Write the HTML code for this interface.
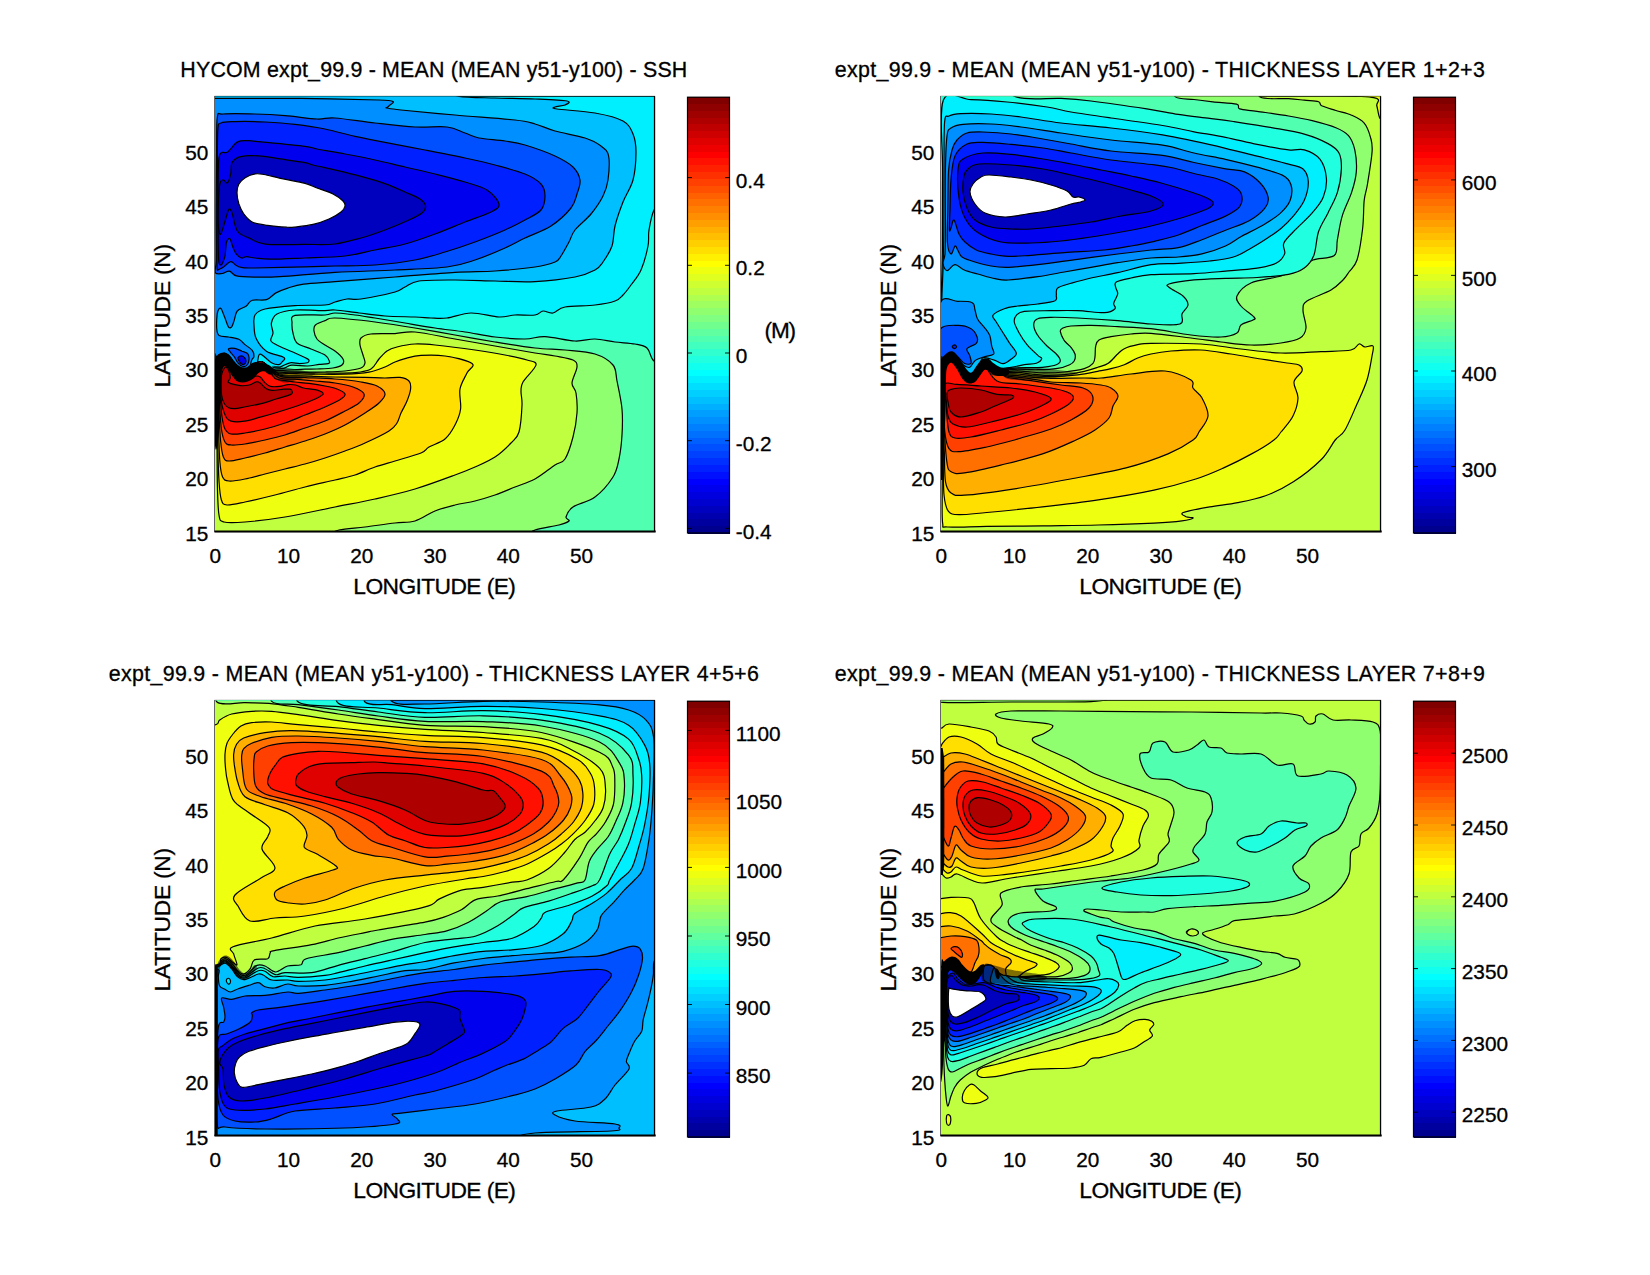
<!DOCTYPE html>
<html><head><meta charset="utf-8"><title>HYCOM expt_99.9 mean fields</title>
<style>html,body{margin:0;padding:0;background:#fff}svg{display:block}text{font-family:'Liberation Sans','Helvetica','Arial',sans-serif;font-size:20.8px;fill:#000;stroke:#000;stroke-width:0.3px}</style></head>
<body>
<svg width="1650" height="1275" viewBox="0 0 1650 1275">
<rect width="1650" height="1275" fill="#fff"/>
<g transform="translate(0,0)">
<clipPath id="c_p1"><rect x="215.0" y="96.5" width="439.5" height="435.0"/></clipPath>
<rect x="215.0" y="96.5" width="439.5" height="435.0" fill="#fff" stroke="#000" stroke-width="1.2"/>
<g clip-path="url(#c_p1)" stroke="#000" stroke-width="1.2" stroke-linejoin="round">
<rect x="215.0" y="96.5" width="439.5" height="435.0" fill="#00efff" stroke="none"/>
<path d="M215.0 360.0 C215.7 359.2 217.3 356.1 219.0 355.0 C220.7 353.9 223.0 352.9 225.0 353.4 C227.0 353.9 229.0 354.9 231.0 358.0 C233.0 361.1 235.2 368.6 237.0 372.0 C238.8 375.4 240.2 378.0 242.0 378.6 C243.8 379.2 246.0 377.5 248.0 375.4 C250.0 373.3 252.2 368.2 254.0 366.0 C255.8 363.8 257.2 362.4 259.0 362.0 C260.8 361.6 263.2 362.1 265.0 363.4 C266.8 364.7 268.4 369.4 270.0 370.0 C271.6 370.6 272.6 367.7 274.4 367.2 C276.2 366.7 278.0 367.5 280.6 366.8 C283.2 366.1 286.8 363.3 290.0 362.8 C293.2 362.3 296.7 363.6 299.6 363.6 C302.5 363.6 305.8 363.3 307.4 362.8 C309.0 362.3 309.1 361.1 309.0 360.4 C308.9 359.7 309.3 359.8 307.0 358.6 C304.7 357.4 299.3 354.9 295.0 353.0 C290.7 351.1 285.0 349.0 281.0 347.0 C277.0 345.0 272.3 343.3 271.0 341.0 C269.7 338.7 272.9 336.0 273.0 333.0 C273.1 330.0 270.7 326.2 271.4 323.0 C272.1 319.8 273.1 316.2 277.0 314.0 C280.9 311.8 287.0 310.6 295.0 310.0 C303.0 309.4 318.3 310.6 325.0 310.6 C331.7 310.6 329.3 309.6 335.0 310.0 C340.7 310.4 350.7 312.0 359.0 313.0 C367.3 314.0 375.7 315.3 385.0 316.0 C394.3 316.7 407.3 316.7 415.0 317.0 C422.7 317.3 425.7 317.8 431.0 318.0 C436.3 318.2 440.3 318.8 447.0 318.0 C453.7 317.2 462.3 313.2 471.0 313.0 C479.7 312.8 491.7 316.7 499.0 317.0 C506.3 317.3 509.0 315.3 515.0 315.0 C521.0 314.7 530.3 315.7 535.0 315.0 C539.7 314.3 540.0 311.3 543.0 311.0 C546.0 310.7 549.3 313.7 553.0 313.0 C556.7 312.3 558.0 308.3 565.0 307.0 C572.0 305.7 586.7 306.0 595.0 305.0 C603.3 304.0 610.3 302.7 615.0 301.0 C619.7 299.3 620.3 297.7 623.0 295.0 C625.7 292.3 628.0 289.2 631.0 285.0 C634.0 280.8 638.2 276.5 641.0 270.0 C643.8 263.5 646.7 252.7 648.0 246.0 C649.3 239.3 648.0 236.0 649.0 230.0 C650.0 224.0 651.7 214.7 654.0 210.0 C656.3 205.3 661.5 203.3 663.0 202.0 L679.5 202.0 L679.5 556.5 L190.0 556.5 L190.0 360.0 Z" fill="#20ffdf"/>
<path d="M215.0 360.0 C215.7 359.2 217.3 356.1 219.0 355.0 C220.7 353.9 223.0 352.9 225.0 353.4 C227.0 353.9 229.0 354.9 231.0 358.0 C233.0 361.1 235.2 368.6 237.0 372.0 C238.8 375.4 240.2 378.0 242.0 378.6 C243.8 379.2 246.0 377.5 248.0 375.4 C250.0 373.3 252.2 368.2 254.0 366.0 C255.8 363.8 257.2 362.4 259.0 362.0 C260.8 361.6 263.2 362.1 265.0 363.4 C266.8 364.7 268.2 369.1 270.0 370.0 C271.8 370.9 273.7 369.3 276.0 369.0 C278.3 368.7 281.2 369.0 283.8 368.4 C286.4 367.8 287.7 365.6 291.6 365.2 C295.5 364.8 302.8 366.1 307.4 366.0 C312.0 365.9 315.8 364.8 319.2 364.4 C322.6 364.0 326.3 364.1 328.0 363.6 C329.7 363.1 329.9 362.6 329.4 361.2 C328.9 359.8 328.1 357.0 325.0 355.0 C321.9 353.0 315.7 351.0 311.0 349.0 C306.3 347.0 300.0 345.7 297.0 343.0 C294.0 340.3 293.8 336.3 293.0 333.0 C292.2 329.7 291.7 325.9 292.0 323.0 C292.3 320.1 289.5 316.7 295.0 315.4 C300.5 314.1 318.3 315.4 325.0 315.0 C331.7 314.6 330.0 313.0 335.0 313.0 C340.0 313.0 348.3 314.2 355.0 315.0 C361.7 315.8 366.7 316.7 375.0 318.0 C383.3 319.3 395.0 321.3 405.0 323.0 C415.0 324.7 425.0 326.5 435.0 328.0 C445.0 329.5 455.0 330.5 465.0 332.0 C475.0 333.5 485.0 335.8 495.0 337.0 C505.0 338.2 516.7 339.1 525.0 339.0 C533.3 338.9 536.7 336.3 545.0 336.6 C553.3 336.9 566.7 340.6 575.0 341.0 C583.3 341.4 588.3 338.8 595.0 339.0 C601.7 339.2 608.3 341.2 615.0 342.0 C621.7 342.8 629.7 343.0 635.0 344.0 C640.3 345.0 644.0 345.3 647.0 348.0 C650.0 350.7 650.3 357.2 653.0 360.0 C655.7 362.8 661.3 364.2 663.0 365.0 L679.5 365.0 L679.5 556.5 L190.0 556.5 L190.0 360.0 Z" fill="#50ffaf"/>
<path d="M215.0 360.0 C215.7 359.2 217.3 356.1 219.0 355.0 C220.7 353.9 223.0 352.9 225.0 353.4 C227.0 353.9 229.0 354.9 231.0 358.0 C233.0 361.1 235.2 368.6 237.0 372.0 C238.8 375.4 240.2 378.0 242.0 378.6 C243.8 379.2 246.0 377.5 248.0 375.4 C250.0 373.3 252.2 368.2 254.0 366.0 C255.8 363.8 257.2 362.4 259.0 362.0 C260.8 361.6 263.2 362.1 265.0 363.4 C266.8 364.7 268.0 368.8 270.0 370.0 C272.0 371.2 273.8 370.6 277.0 370.6 C280.2 370.6 284.3 370.2 289.0 370.0 C293.7 369.8 300.3 369.4 305.0 369.2 C309.7 369.0 312.3 369.2 317.0 369.0 C321.7 368.8 328.8 368.7 333.0 368.0 C337.2 367.3 340.3 366.5 342.0 365.0 C343.7 363.5 344.2 361.3 343.0 359.0 C341.8 356.7 338.0 353.3 335.0 351.0 C332.0 348.7 328.0 347.0 325.0 345.0 C322.0 343.0 318.8 341.3 317.0 339.0 C315.2 336.7 314.3 333.3 314.0 331.0 C313.7 328.7 313.6 326.7 315.4 325.0 C317.2 323.3 321.7 321.8 325.0 320.6 C328.3 319.4 326.7 317.8 335.0 318.0 C343.3 318.2 361.7 320.3 375.0 322.0 C388.3 323.7 401.7 325.8 415.0 328.0 C428.3 330.2 441.7 332.7 455.0 335.0 C468.3 337.3 481.7 339.8 495.0 342.0 C508.3 344.2 523.3 346.7 535.0 348.0 C546.7 349.3 555.0 349.0 565.0 350.0 C575.0 351.0 587.0 351.5 595.0 354.0 C603.0 356.5 609.3 360.5 613.0 365.0 C616.7 369.5 615.5 373.7 617.0 381.0 C618.5 388.3 621.2 400.0 622.0 409.0 C622.8 418.0 622.5 426.7 622.0 435.0 C621.5 443.3 620.5 452.0 619.0 459.0 C617.5 466.0 617.0 470.7 613.0 477.0 C609.0 483.3 601.7 492.0 595.0 497.0 C588.3 502.0 577.8 503.7 573.0 507.0 C568.2 510.3 566.7 514.7 566.0 517.0 C565.3 519.3 570.2 519.7 569.0 521.0 C567.8 522.3 564.7 523.5 559.0 525.0 C553.3 526.5 540.7 528.0 535.0 530.0 C529.3 532.0 526.7 535.8 525.0 537.0 L525.0 556.5 L190.0 556.5 L190.0 360.0 Z" fill="#8fff70"/>
<path d="M215.0 360.0 C215.7 359.2 217.3 356.1 219.0 355.0 C220.7 353.9 223.0 352.9 225.0 353.4 C227.0 353.9 229.0 354.9 231.0 358.0 C233.0 361.1 235.2 368.6 237.0 372.0 C238.8 375.4 240.2 378.0 242.0 378.6 C243.8 379.2 246.0 377.5 248.0 375.4 C250.0 373.3 252.2 368.2 254.0 366.0 C255.8 363.8 257.2 362.4 259.0 362.0 C260.8 361.6 263.2 362.1 265.0 363.4 C266.8 364.7 267.8 368.6 270.0 370.0 C272.2 371.4 273.8 371.7 278.0 372.0 C282.2 372.3 287.2 372.0 295.0 372.0 C302.8 372.0 316.7 372.2 325.0 372.0 C333.3 371.8 339.0 371.7 345.0 371.0 C351.0 370.3 357.7 369.3 361.0 368.0 C364.3 366.7 364.7 365.2 365.0 363.0 C365.3 360.8 363.8 358.0 363.0 355.0 C362.2 352.0 360.3 347.8 360.0 345.0 C359.7 342.2 359.2 339.8 361.0 338.0 C362.8 336.2 365.3 334.7 371.0 334.0 C376.7 333.3 387.7 333.9 395.0 333.6 C402.3 333.3 405.0 331.1 415.0 332.0 C425.0 332.9 441.7 336.7 455.0 339.0 C468.3 341.3 481.7 343.7 495.0 346.0 C508.3 348.3 525.0 351.3 535.0 353.0 C545.0 354.7 548.7 354.8 555.0 356.0 C561.3 357.2 569.3 358.2 573.0 360.0 C576.7 361.8 577.2 363.2 577.0 367.0 C576.8 370.8 572.2 378.7 572.0 383.0 C571.8 387.3 575.2 388.0 576.0 393.0 C576.8 398.0 577.5 405.7 577.0 413.0 C576.5 420.3 575.0 429.3 573.0 437.0 C571.0 444.7 568.0 454.3 565.0 459.0 C562.0 463.7 560.0 461.7 555.0 465.0 C550.0 468.3 541.7 475.3 535.0 479.0 C528.3 482.7 521.7 484.3 515.0 487.0 C508.3 489.7 501.7 492.7 495.0 495.0 C488.3 497.3 481.7 499.3 475.0 501.0 C468.3 502.7 461.7 503.3 455.0 505.0 C448.3 506.7 441.7 508.3 435.0 511.0 C428.3 513.7 421.7 519.0 415.0 521.0 C408.3 523.0 403.3 522.0 395.0 523.0 C386.7 524.0 374.3 525.8 365.0 527.0 C355.7 528.2 345.7 528.3 339.0 530.0 C332.3 531.7 327.3 535.8 325.0 537.0 L325.0 556.5 L190.0 556.5 L190.0 360.0 Z" fill="#bfff40"/>
<path d="M215.0 360.0 C215.7 359.2 217.3 356.1 219.0 355.0 C220.7 353.9 223.0 352.9 225.0 353.4 C227.0 353.9 229.0 354.9 231.0 358.0 C233.0 361.1 235.2 368.6 237.0 372.0 C238.8 375.4 240.2 378.0 242.0 378.6 C243.8 379.2 246.0 377.5 248.0 375.4 C250.0 373.3 252.2 368.2 254.0 366.0 C255.8 363.8 257.2 362.4 259.0 362.0 C260.8 361.6 263.2 362.1 265.0 363.4 C266.8 364.7 267.7 368.4 270.0 370.0 C272.3 371.6 275.8 372.6 279.0 373.0 C282.2 373.4 281.3 372.2 289.0 372.2 C296.7 372.2 314.0 372.9 325.0 373.0 C336.0 373.1 347.3 373.3 355.0 372.6 C362.7 371.9 367.0 371.3 371.0 369.0 C375.0 366.7 376.3 362.0 379.0 359.0 C381.7 356.0 384.0 353.0 387.0 351.0 C390.0 349.0 392.3 348.2 397.0 347.0 C401.7 345.8 408.7 344.3 415.0 344.0 C421.3 343.7 425.0 344.0 435.0 345.0 C445.0 346.0 463.3 348.3 475.0 350.0 C486.7 351.7 496.3 353.3 505.0 355.0 C513.7 356.7 521.8 358.3 527.0 360.0 C532.2 361.7 536.7 361.3 536.0 365.0 C535.3 368.7 525.5 377.7 523.0 382.0 C520.5 386.3 521.2 387.2 521.0 391.0 C520.8 394.8 522.3 398.2 522.0 405.0 C521.7 411.8 520.8 425.7 519.0 432.0 C517.2 438.3 515.0 438.8 511.0 443.0 C507.0 447.2 501.0 453.0 495.0 457.0 C489.0 461.0 481.7 464.0 475.0 467.0 C468.3 470.0 465.0 471.3 455.0 475.0 C445.0 478.7 428.3 485.0 415.0 489.0 C401.7 493.0 388.3 496.0 375.0 499.0 C361.7 502.0 350.0 504.0 335.0 507.0 C320.0 510.0 300.0 514.5 285.0 517.0 C270.0 519.5 255.2 521.2 245.0 522.0 C234.8 522.8 228.3 523.2 224.0 522.0 C219.7 520.8 220.1 521.2 219.0 515.0 C217.9 508.8 217.7 500.0 217.4 485.0 C217.1 470.0 217.1 443.3 217.0 425.0 C216.9 406.7 216.7 383.3 216.6 375.0 Z" fill="#efff10"/>
<path d="M215.0 360.0 C215.7 359.2 217.3 356.1 219.0 355.0 C220.7 353.9 223.0 352.9 225.0 353.4 C227.0 353.9 229.0 354.9 231.0 358.0 C233.0 361.1 235.2 368.6 237.0 372.0 C238.8 375.4 240.2 378.0 242.0 378.6 C243.8 379.2 246.0 377.5 248.0 375.4 C250.0 373.3 252.2 368.2 254.0 366.0 C255.8 363.8 257.2 362.4 259.0 362.0 C260.8 361.6 263.2 362.1 265.0 363.4 C266.8 364.7 267.5 368.2 270.0 370.0 C272.5 371.8 276.8 373.4 280.0 374.0 C283.2 374.6 283.2 373.4 289.0 373.4 C294.8 373.4 305.7 374.1 315.0 374.2 C324.3 374.3 336.0 374.5 345.0 374.2 C354.0 373.9 362.3 373.4 369.0 372.2 C375.7 371.0 380.7 368.7 385.0 367.0 C389.3 365.3 391.7 363.4 395.0 362.0 C398.3 360.6 400.7 359.7 405.0 358.6 C409.3 357.5 414.3 355.8 421.0 355.4 C427.7 355.0 436.5 354.7 445.0 356.0 C453.5 357.3 468.3 360.6 472.0 363.4 C475.7 366.2 469.0 368.7 467.0 373.0 C465.0 377.3 461.1 383.0 460.0 389.0 C458.9 395.0 461.4 403.0 460.6 409.0 C459.8 415.0 457.6 420.0 455.0 425.0 C452.4 430.0 449.3 435.3 445.0 439.0 C440.7 442.7 433.0 444.7 429.0 447.0 C425.0 449.3 426.7 450.7 421.0 453.0 C415.3 455.3 402.7 458.7 395.0 461.0 C387.3 463.3 381.7 464.7 375.0 467.0 C368.3 469.3 361.7 472.8 355.0 475.0 C348.3 477.2 343.3 478.0 335.0 480.0 C326.7 482.0 315.0 484.5 305.0 487.0 C295.0 489.5 285.0 492.5 275.0 495.0 C265.0 497.5 253.0 500.3 245.0 502.0 C237.0 503.7 230.9 505.3 227.0 505.0 C223.1 504.7 222.7 504.0 221.4 500.0 C220.1 496.0 219.6 490.2 219.0 481.0 C218.4 471.8 218.1 461.0 217.8 445.0 C217.5 429.0 217.1 395.0 217.0 385.0 Z" fill="#ffdf00"/>
<path d="M215.0 360.0 C215.7 359.2 217.3 356.1 219.0 355.0 C220.7 353.9 223.0 352.9 225.0 353.4 C227.0 353.9 229.0 354.9 231.0 358.0 C233.0 361.1 235.2 368.6 237.0 372.0 C238.8 375.4 240.2 378.0 242.0 378.6 C243.8 379.2 246.0 377.5 248.0 375.4 C250.0 373.3 252.2 368.2 254.0 366.0 C255.8 363.8 257.2 362.4 259.0 362.0 C260.8 361.6 263.2 362.1 265.0 363.4 C266.8 364.7 267.4 368.0 270.0 370.0 C272.6 372.0 274.8 374.4 280.6 375.4 C286.4 376.4 295.9 375.7 305.0 376.0 C314.1 376.3 325.0 376.8 335.0 377.0 C345.0 377.2 356.7 377.2 365.0 377.4 C373.3 377.6 379.2 378.0 385.0 378.0 C390.8 378.0 396.0 376.9 400.0 377.4 C404.0 377.9 407.2 379.1 409.0 381.0 C410.8 382.9 410.9 385.7 410.6 389.0 C410.3 392.3 408.6 397.0 407.0 401.0 C405.4 405.0 402.7 409.3 401.0 413.0 C399.3 416.7 399.0 420.0 397.0 423.0 C395.0 426.0 394.3 427.7 389.0 431.0 C383.7 434.3 372.3 439.7 365.0 443.0 C357.7 446.3 351.7 448.5 345.0 451.0 C338.3 453.5 331.7 455.8 325.0 458.0 C318.3 460.2 311.7 462.2 305.0 464.0 C298.3 465.8 291.7 467.3 285.0 469.0 C278.3 470.7 271.7 472.3 265.0 474.0 C258.3 475.7 251.0 477.8 245.0 479.0 C239.0 480.2 232.7 481.3 229.0 481.0 C225.3 480.7 224.1 480.3 222.6 477.0 C221.1 473.7 220.5 469.7 219.8 461.0 C219.1 452.3 218.8 437.7 218.4 425.0 C218.0 412.3 217.6 391.7 217.4 385.0 Z" fill="#ffaf00"/>
<path d="M215.0 360.0 C215.7 359.2 217.3 356.1 219.0 355.0 C220.7 353.9 223.0 352.9 225.0 353.4 C227.0 353.9 229.0 354.9 231.0 358.0 C233.0 361.1 235.2 368.6 237.0 372.0 C238.8 375.4 240.2 378.0 242.0 378.6 C243.8 379.2 246.0 377.5 248.0 375.4 C250.0 373.3 252.2 368.2 254.0 366.0 C255.8 363.8 257.2 362.4 259.0 362.0 C260.8 361.6 263.2 362.1 265.0 363.4 C266.8 364.7 267.3 367.8 270.0 370.0 C272.7 372.2 275.2 375.3 281.0 376.6 C286.8 377.9 296.0 377.2 305.0 377.6 C314.0 378.0 325.7 378.3 335.0 379.0 C344.3 379.7 354.0 380.8 361.0 382.0 C368.0 383.2 373.0 384.0 377.0 386.0 C381.0 388.0 384.7 391.2 385.0 394.0 C385.3 396.8 382.3 399.8 379.0 403.0 C375.7 406.2 370.7 409.3 365.0 413.0 C359.3 416.7 351.7 421.5 345.0 425.0 C338.3 428.5 331.7 431.3 325.0 434.0 C318.3 436.7 311.7 438.8 305.0 441.0 C298.3 443.2 291.7 445.0 285.0 447.0 C278.3 449.0 271.7 451.2 265.0 453.0 C258.3 454.8 251.0 456.7 245.0 458.0 C239.0 459.3 232.6 461.2 229.0 461.0 C225.4 460.8 224.8 460.3 223.4 457.0 C222.0 453.7 221.3 448.0 220.6 441.0 C219.9 434.0 219.5 424.3 219.0 415.0 C218.5 405.7 218.0 390.0 217.8 385.0 Z" fill="#ff7000"/>
<path d="M215.0 360.0 C215.7 359.2 217.3 356.1 219.0 355.0 C220.7 353.9 223.0 352.9 225.0 353.4 C227.0 353.9 229.0 354.9 231.0 358.0 C233.0 361.1 235.2 368.6 237.0 372.0 C238.8 375.4 240.2 378.0 242.0 378.6 C243.8 379.2 246.0 377.5 248.0 375.4 C250.0 373.3 252.2 368.2 254.0 366.0 C255.8 363.8 257.2 362.4 259.0 362.0 C260.8 361.6 263.2 362.1 265.0 363.4 C266.8 364.7 267.5 367.5 270.0 370.0 C272.5 372.5 275.8 376.7 280.0 378.2 C284.2 379.7 289.2 378.7 295.0 379.2 C300.8 379.7 308.3 380.4 315.0 381.0 C321.7 381.6 328.7 382.0 335.0 383.0 C341.3 384.0 348.2 385.2 353.0 387.0 C357.8 388.8 363.0 391.3 364.0 394.0 C365.0 396.7 362.2 400.2 359.0 403.0 C355.8 405.8 350.7 408.0 345.0 411.0 C339.3 414.0 331.7 418.2 325.0 421.0 C318.3 423.8 311.7 425.7 305.0 428.0 C298.3 430.3 291.7 433.0 285.0 435.0 C278.3 437.0 271.7 438.5 265.0 440.0 C258.3 441.5 250.7 443.2 245.0 444.0 C239.3 444.8 234.3 445.3 231.0 445.0 C227.7 444.7 226.6 444.7 225.0 442.0 C223.4 439.3 222.3 435.2 221.4 429.0 C220.5 422.8 220.1 413.0 219.6 405.0 C219.1 397.0 218.4 385.0 218.2 381.0 Z" fill="#ff4000"/>
<path d="M215.0 360.0 C215.7 359.2 217.3 356.1 219.0 355.0 C220.7 353.9 223.0 352.9 225.0 353.4 C227.0 353.9 229.0 354.9 231.0 358.0 C233.0 361.1 235.2 368.6 237.0 372.0 C238.8 375.4 240.2 378.0 242.0 378.6 C243.8 379.2 246.0 377.5 248.0 375.4 C250.0 373.3 252.2 368.2 254.0 366.0 C255.8 363.8 257.2 362.4 259.0 362.0 C260.8 361.6 263.2 362.1 265.0 363.4 C266.8 364.7 268.3 367.5 270.0 370.0 C271.7 372.5 272.5 376.8 275.0 378.6 C277.5 380.4 281.7 380.0 285.0 380.6 C288.3 381.2 291.0 381.5 295.0 382.0 C299.0 382.5 304.0 382.7 309.0 383.4 C314.0 384.1 320.3 385.1 325.0 386.0 C329.7 386.9 333.7 387.7 337.0 389.0 C340.3 390.3 344.3 392.3 345.0 394.0 C345.7 395.7 344.3 396.8 341.0 399.0 C337.7 401.2 331.0 404.3 325.0 407.0 C319.0 409.7 311.7 412.3 305.0 415.0 C298.3 417.7 291.7 420.7 285.0 423.0 C278.3 425.3 271.7 427.3 265.0 429.0 C258.3 430.7 250.7 432.2 245.0 433.0 C239.3 433.8 234.3 434.7 231.0 434.0 C227.7 433.3 226.5 431.8 225.0 429.0 C223.5 426.2 222.8 422.3 222.0 417.0 C221.2 411.7 220.7 403.3 220.2 397.0 C219.7 390.7 219.2 382.0 219.0 379.0 Z" fill="#ff1000"/>
<path d="M217.0 365.0 C217.4 362.2 220.5 361.7 222.0 362.0 C223.5 362.3 225.0 365.5 226.2 366.8 C227.4 368.1 228.3 368.6 229.4 370.0 C230.5 371.4 231.4 373.7 232.6 375.4 C233.8 377.1 235.0 379.1 236.6 380.2 C238.2 381.3 240.2 381.7 242.0 381.8 C243.8 381.9 245.9 381.5 247.6 381.0 C249.3 380.5 250.9 379.4 252.2 378.6 C253.5 377.8 254.1 376.5 255.4 376.2 C256.7 375.9 258.6 375.9 260.2 377.0 C261.8 378.1 263.1 381.0 264.8 382.6 C266.5 384.2 267.9 385.8 270.4 386.4 C272.9 387.0 276.9 386.7 279.8 386.4 C282.7 386.1 285.2 384.8 287.8 384.6 C290.4 384.4 293.0 384.4 295.6 385.0 C298.2 385.6 300.1 387.2 303.4 388.0 C306.7 388.8 312.2 388.8 315.4 389.6 C318.6 390.4 321.9 391.7 322.8 392.8 C323.7 393.9 323.4 394.4 320.8 396.0 C318.2 397.6 313.6 399.8 307.4 402.2 C301.2 404.6 291.7 407.7 283.8 410.2 C275.9 412.7 266.8 415.4 260.2 417.2 C253.6 419.0 249.3 420.5 244.4 421.2 C239.5 421.9 234.0 421.9 231.0 421.2 C228.0 420.5 227.6 419.6 226.2 417.2 C224.8 414.8 223.3 410.7 222.4 407.0 C221.5 403.3 221.2 399.9 220.8 395.2 C220.4 390.5 220.4 384.0 219.8 379.0 C219.2 374.0 216.6 367.8 217.0 365.0 Z" fill="#df0000"/>
<path d="M225.4 367.2 C226.5 366.7 227.8 368.2 228.6 370.0 C229.4 371.8 230.2 375.7 230.2 377.8 C230.2 379.9 226.9 381.3 228.6 382.6 C230.3 383.9 237.0 385.2 240.4 385.6 C243.8 386.0 246.6 385.6 249.2 385.0 C251.8 384.4 254.4 382.1 256.2 381.8 C258.0 381.5 258.5 381.8 260.2 383.0 C261.9 384.2 264.4 387.6 266.4 388.8 C268.4 390.0 269.1 390.3 272.0 390.4 C274.9 390.5 280.8 389.4 283.8 389.2 C286.8 389.0 288.6 388.9 290.0 389.2 C291.4 389.5 291.9 390.3 292.0 391.2 C292.1 392.1 293.5 393.1 290.8 394.4 C288.1 395.7 281.1 397.4 276.0 399.0 C270.9 400.6 265.5 402.5 260.2 403.8 C254.9 405.1 248.6 406.2 244.4 407.0 C240.2 407.8 237.6 408.5 235.0 408.6 C232.4 408.7 230.4 408.7 228.6 407.8 C226.8 406.9 225.2 405.1 224.0 403.0 C222.8 400.9 222.1 399.1 221.6 395.2 C221.1 391.3 221.1 383.1 221.2 379.4 C221.3 375.7 221.3 375.0 222.0 373.0 C222.7 371.0 224.3 367.7 225.4 367.2 Z" fill="#af0000"/>
<path d="M190.0 360.0 C194.2 360.0 210.2 360.8 215.0 360.0 C219.8 359.2 217.3 356.1 219.0 355.0 C220.7 353.9 223.0 352.9 225.0 353.4 C227.0 353.9 229.0 354.9 231.0 358.0 C233.0 361.1 235.2 368.6 237.0 372.0 C238.8 375.4 240.2 378.0 242.0 378.6 C243.8 379.2 246.0 377.5 248.0 375.4 C250.0 373.3 252.4 368.2 254.0 366.0 C255.6 363.8 256.4 364.0 257.4 362.0 C258.4 360.0 257.8 354.0 260.2 354.2 C262.6 354.4 268.9 361.3 272.0 363.0 C275.1 364.7 277.3 364.8 279.0 364.6 C280.7 364.4 281.2 363.2 282.0 362.0 C282.8 360.8 286.4 359.2 283.8 357.4 C281.2 355.6 271.0 354.3 266.4 351.2 C261.8 348.1 258.3 343.0 256.2 338.6 C254.1 334.2 254.2 328.9 254.0 325.0 C253.8 321.1 253.2 317.7 255.0 315.0 C256.8 312.3 258.3 310.6 265.0 309.0 C271.7 307.4 285.0 306.3 295.0 305.6 C305.0 304.9 318.3 305.6 325.0 305.0 C331.7 304.4 331.3 303.0 335.0 302.0 C338.7 301.0 342.7 299.5 347.0 299.0 C351.3 298.5 353.0 300.2 361.0 299.0 C369.0 297.8 387.7 294.0 395.0 292.0 C402.3 290.0 401.0 288.8 405.0 287.0 C409.0 285.2 410.7 282.2 419.0 281.0 C427.3 279.8 442.3 280.0 455.0 280.0 C467.7 280.0 481.7 280.7 495.0 281.0 C508.3 281.3 521.7 282.3 535.0 281.6 C548.3 280.9 565.0 278.9 575.0 277.0 C585.0 275.1 590.3 272.5 595.0 270.0 C599.7 267.5 600.2 266.0 603.0 262.0 C605.8 258.0 610.0 252.0 612.0 246.0 C614.0 240.0 613.2 233.3 615.0 226.0 C616.8 218.7 620.0 209.7 623.0 202.0 C626.0 194.3 630.8 188.3 633.0 180.0 C635.2 171.7 636.0 159.7 636.0 152.0 C636.0 144.3 635.2 139.2 633.0 134.0 C630.8 128.8 629.3 124.5 623.0 121.0 C616.7 117.5 606.0 115.0 595.0 113.0 C584.0 111.0 563.7 110.0 557.0 109.0 C550.3 108.0 553.7 107.7 555.0 107.0 C556.3 106.3 563.0 106.0 565.0 105.0 C567.0 104.0 572.0 102.0 567.0 101.0 C562.0 100.0 547.0 99.5 535.0 99.0 C523.0 98.5 507.7 98.4 495.0 98.0 C482.3 97.6 467.0 97.7 459.0 96.4 C451.0 95.1 449.0 91.1 447.0 90.0 L447.0 71.5 L190.0 71.5 Z" fill="#00bfff"/>
<path d="M190.0 360.0 C194.2 360.0 210.2 360.8 215.0 360.0 C219.8 359.2 217.3 356.1 219.0 355.0 C220.7 353.9 223.0 352.9 225.0 353.4 C227.0 353.9 229.0 354.9 231.0 358.0 C233.0 361.1 235.2 368.6 237.0 372.0 C238.8 375.4 240.2 378.0 242.0 378.6 C243.8 379.2 246.4 378.4 248.0 375.4 C249.6 372.4 250.5 363.7 251.5 360.6 C252.5 357.5 253.8 358.4 253.9 356.7 C254.0 355.0 253.9 352.5 252.3 350.4 C250.7 348.3 246.6 346.0 244.4 344.1 C242.2 342.2 241.5 340.5 238.9 339.3 C236.3 338.1 231.9 337.6 228.6 337.0 C225.3 336.4 221.2 336.7 219.2 335.4 C217.2 334.1 217.1 332.7 216.8 329.1 C216.5 325.6 216.8 317.5 217.2 314.1 C217.6 310.7 218.5 309.4 219.2 308.6 C219.9 307.8 220.6 307.9 221.5 309.4 C222.4 310.8 223.5 314.4 224.7 317.3 C225.9 320.2 227.4 325.5 228.6 327.1 C229.8 328.7 230.9 327.8 231.8 326.7 C232.7 325.6 233.3 323.0 234.2 320.4 C235.1 317.8 235.3 313.4 237.3 311.0 C239.3 308.6 243.5 308.0 246.0 306.2 C248.5 304.4 248.9 301.4 252.3 300.3 C255.7 299.2 262.6 300.8 266.5 299.6 C270.4 298.4 272.4 294.8 275.9 292.9 C279.4 291.0 283.1 289.6 287.7 288.1 C292.3 286.7 295.6 285.3 303.5 284.2 C311.4 283.1 319.8 282.8 335.0 281.6 C350.2 280.4 375.0 278.5 395.0 277.0 C415.0 275.5 438.3 273.4 455.0 272.4 C471.7 271.4 481.7 271.9 495.0 271.0 C508.3 270.1 525.0 268.5 535.0 267.0 C545.0 265.5 550.7 263.8 555.0 262.0 C559.3 260.2 558.7 259.3 561.0 256.0 C563.3 252.7 566.7 246.3 569.0 242.0 C571.3 237.7 571.3 234.7 575.0 230.0 C578.7 225.3 586.3 219.7 591.0 214.0 C595.7 208.3 600.2 201.7 603.0 196.0 C605.8 190.3 607.1 186.7 608.0 180.0 C608.9 173.3 609.8 161.7 608.6 156.0 C607.4 150.3 604.9 149.0 601.0 146.0 C597.1 143.0 592.7 140.5 585.0 138.0 C577.3 135.5 563.3 133.3 555.0 131.0 C546.7 128.7 541.7 125.8 535.0 124.0 C528.3 122.2 528.3 121.5 515.0 120.0 C501.7 118.5 474.0 116.7 455.0 115.0 C436.0 113.3 412.3 111.2 401.0 110.0 C389.7 108.8 389.3 108.4 387.0 108.0 C384.7 107.6 386.5 108.1 387.0 107.6 C387.5 107.1 389.0 106.0 390.0 105.0 C391.0 104.0 394.8 102.4 393.0 101.6 C391.2 100.8 394.3 100.5 379.0 100.0 C363.7 99.5 326.7 98.7 301.0 98.4 C275.3 98.1 239.2 98.4 225.0 98.4 C210.8 98.4 219.0 98.4 216.0 98.4 C213.0 98.4 208.5 98.4 207.0 98.4 L190.0 98.4 Z" fill="#008fff"/>
<path d="M215.2 272.4 C216.2 274.6 219.9 273.7 222.3 273.5 C224.7 273.3 227.0 270.8 229.4 271.2 C231.8 271.6 232.4 274.9 236.5 275.9 C240.6 276.9 246.7 277.0 253.9 277.1 C261.1 277.2 266.4 277.5 279.9 276.7 C293.4 275.9 315.8 273.5 335.0 272.4 C354.2 271.3 376.3 270.9 395.0 270.0 C413.7 269.1 433.7 268.7 447.0 267.0 C460.3 265.3 465.3 263.2 475.0 260.0 C484.7 256.8 496.7 251.7 505.0 248.0 C513.3 244.3 517.3 241.7 525.0 238.0 C532.7 234.3 543.3 231.0 551.0 226.0 C558.7 221.0 566.7 213.3 571.0 208.0 C575.3 202.7 575.5 198.7 577.0 194.0 C578.5 189.3 580.7 184.5 580.0 180.0 C579.3 175.5 577.2 171.0 573.0 167.0 C568.8 163.0 563.0 159.7 555.0 156.0 C547.0 152.3 533.3 147.5 525.0 145.0 C516.7 142.5 512.7 142.2 505.0 141.0 C497.3 139.8 485.7 139.3 479.0 138.0 C472.3 136.7 470.3 134.8 465.0 133.0 C459.7 131.2 455.3 128.0 447.0 127.0 C438.7 126.0 427.0 127.7 415.0 127.0 C403.0 126.3 388.3 124.5 375.0 123.0 C361.7 121.5 344.7 118.7 335.0 118.0 C325.3 117.3 325.3 119.4 317.0 119.0 C308.7 118.6 295.3 116.4 285.0 115.6 C274.7 114.8 265.3 114.3 255.0 114.0 C244.7 113.7 229.3 113.5 223.0 114.0 C216.7 114.5 218.5 111.0 217.4 117.0 C216.3 123.0 216.8 134.5 216.6 150.0 C216.4 165.5 216.3 191.7 216.2 210.0 C216.1 228.3 216.4 249.6 216.2 260.0 C216.0 270.4 214.2 270.1 215.2 272.4 Z" fill="#0050ff"/>
<path d="M217.0 266.8 C217.3 273.4 217.7 269.3 218.8 269.3 C219.9 269.3 221.8 268.1 223.8 266.8 C225.8 265.5 228.6 261.9 230.7 261.7 C232.8 261.5 234.6 264.6 236.4 265.5 C238.2 266.4 238.3 267.0 241.4 267.4 C244.5 267.8 244.6 268.1 255.2 268.0 C265.8 267.9 291.7 267.1 305.0 266.8 C318.3 266.5 323.3 266.3 335.0 266.0 C346.7 265.7 361.7 266.0 375.0 265.0 C388.3 264.0 403.3 262.2 415.0 260.0 C426.7 257.8 435.0 255.0 445.0 252.0 C455.0 249.0 465.0 245.7 475.0 242.0 C485.0 238.3 496.7 233.7 505.0 230.0 C513.3 226.3 519.0 223.3 525.0 220.0 C531.0 216.7 537.7 214.0 541.0 210.0 C544.3 206.0 545.0 200.3 545.0 196.0 C545.0 191.7 544.3 187.7 541.0 184.0 C537.7 180.3 532.7 177.2 525.0 174.0 C517.3 170.8 505.0 167.7 495.0 165.0 C485.0 162.3 476.7 160.5 465.0 158.0 C453.3 155.5 438.3 152.6 425.0 150.0 C411.7 147.4 396.7 144.7 385.0 142.4 C373.3 140.1 365.0 138.6 355.0 136.4 C345.0 134.2 335.0 131.0 325.0 129.0 C315.0 127.0 305.0 125.6 295.0 124.4 C285.0 123.2 275.0 122.5 265.0 122.0 C255.0 121.5 242.3 121.4 235.0 121.6 C227.7 121.8 223.9 121.6 221.0 123.0 C218.1 124.4 218.4 122.2 217.8 130.0 C217.2 137.8 217.5 153.3 217.4 170.0 C217.3 186.7 217.1 213.9 217.0 230.0 C216.9 246.1 216.7 260.2 217.0 266.8 Z" fill="#0020ff"/>
<path d="M218.2 242.9 C218.3 256.5 218.4 258.0 218.8 261.7 C219.2 265.4 220.1 264.7 220.7 264.9 C221.3 265.1 221.9 264.6 222.6 263.0 C223.3 261.4 224.5 258.9 225.1 255.5 C225.7 252.2 225.7 245.7 226.3 242.9 C226.9 240.1 228.1 238.9 228.8 238.5 C229.5 238.1 230.0 238.8 230.7 240.4 C231.4 242.0 232.2 245.6 233.2 247.9 C234.1 250.2 235.0 252.5 236.4 254.2 C237.8 255.9 239.7 257.6 241.4 258.0 C243.1 258.4 244.1 256.7 246.4 256.7 C248.7 256.7 251.2 257.6 255.2 258.0 C259.2 258.4 261.9 259.2 270.2 259.2 C278.5 259.2 292.5 258.5 305.0 258.0 C317.5 257.5 333.3 257.3 345.0 256.0 C356.7 254.7 365.0 252.0 375.0 250.0 C385.0 248.0 395.0 246.7 405.0 244.0 C415.0 241.3 425.0 237.7 435.0 234.0 C445.0 230.3 455.7 225.7 465.0 222.0 C474.3 218.3 485.3 215.0 491.0 212.0 C496.7 209.0 499.7 207.7 499.0 204.0 C498.3 200.3 492.7 193.7 487.0 190.0 C481.3 186.3 473.7 184.7 465.0 182.0 C456.3 179.3 445.0 176.5 435.0 174.0 C425.0 171.5 415.0 169.3 405.0 167.0 C395.0 164.7 385.0 162.2 375.0 160.0 C365.0 157.8 354.7 155.8 345.0 154.0 C335.3 152.2 323.7 150.3 317.0 149.0 C310.3 147.7 314.2 147.5 305.0 146.3 C295.8 145.1 270.9 142.8 261.5 141.9 C252.2 141.0 252.9 140.7 248.9 140.7 C244.9 140.7 241.2 140.0 237.6 141.9 C234.0 143.8 230.3 150.2 227.6 152.0 C224.9 153.8 222.8 151.4 221.3 152.6 C219.8 153.8 219.3 154.3 218.8 158.9 C218.3 163.5 218.3 166.2 218.2 180.2 C218.1 194.2 218.1 229.3 218.2 242.9 Z" fill="#0000ef"/>
<path d="M218.2 217.8 C218.2 224.1 218.4 227.7 218.8 230.4 C219.2 233.1 219.9 234.9 220.7 234.1 C221.5 233.3 222.5 229.5 223.8 225.4 C225.2 221.3 227.4 211.8 228.8 209.7 C230.2 207.6 230.9 210.2 232.0 212.8 C233.1 215.4 233.9 222.1 235.1 225.4 C236.2 228.8 236.6 230.8 238.9 232.9 C241.2 235.0 244.5 236.0 248.9 237.9 C253.3 239.8 255.8 243.1 265.2 244.2 C274.6 245.3 293.4 244.4 305.0 244.4 C316.6 244.4 325.7 245.1 335.0 244.0 C344.3 242.9 352.7 240.3 361.0 238.0 C369.3 235.7 377.0 233.0 385.0 230.0 C393.0 227.0 402.8 222.8 409.0 220.0 C415.2 217.2 419.2 215.3 422.0 213.0 C424.8 210.7 425.9 208.3 425.6 206.0 C425.3 203.7 423.4 201.3 420.0 199.0 C416.6 196.7 410.8 194.6 405.0 192.0 C399.2 189.4 392.3 186.2 385.0 183.6 C377.7 181.0 369.0 178.6 361.0 176.4 C353.0 174.2 345.0 172.3 337.0 170.4 C329.0 168.5 318.3 166.3 313.0 165.0 C307.7 163.7 310.4 163.6 305.0 162.6 C299.6 161.6 287.1 159.9 280.3 158.9 C273.5 157.9 269.2 156.8 264.0 156.3 C258.8 155.8 253.3 155.5 248.9 155.7 C244.5 155.9 240.4 156.4 237.6 157.6 C234.8 158.8 233.2 159.9 232.0 162.6 C230.8 165.3 231.4 170.6 230.7 173.9 C230.0 177.2 228.8 181.6 227.6 182.7 C226.4 183.8 225.0 180.4 223.8 180.2 C222.7 180.0 221.5 179.3 220.7 181.4 C219.9 183.5 219.2 186.6 218.8 192.7 C218.4 198.8 218.2 211.5 218.2 217.8 Z" fill="#0000bf"/>
<path d="M237.0 192.7 C237.0 189.4 237.5 186.5 238.9 184.0 C240.3 181.5 242.5 179.4 245.2 177.7 C247.9 176.0 252.1 174.4 255.2 173.9 C258.3 173.4 259.8 173.8 264.0 174.5 C268.2 175.2 273.5 176.8 280.3 178.3 C287.1 179.8 298.9 181.7 305.0 183.3 C311.1 184.9 312.3 186.2 317.0 188.0 C321.7 189.8 328.7 191.8 333.0 194.0 C337.3 196.2 341.0 199.0 343.0 201.0 C345.0 203.0 345.3 204.2 345.0 206.0 C344.7 207.8 343.7 209.8 341.0 212.0 C338.3 214.2 333.7 216.9 329.0 219.0 C324.3 221.1 318.7 223.1 313.0 224.4 C307.3 225.7 299.4 226.5 295.0 227.0 C290.6 227.5 291.2 227.5 286.6 227.2 C282.1 226.9 273.4 226.2 267.7 225.4 C262.0 224.6 256.7 224.1 252.7 222.2 C248.7 220.3 246.2 217.1 243.9 214.1 C241.6 211.1 240.1 207.6 238.9 204.0 C237.8 200.4 237.0 196.0 237.0 192.7 Z" fill="#ffffff"/>
<path d="M228.6 348.8 C229.4 348.2 232.7 348.0 234.9 348.4 C237.2 348.8 239.9 350.3 242.0 351.2 C244.1 352.0 246.4 352.3 247.5 353.5 C248.7 354.7 249.1 356.4 249.1 358.2 C249.1 360.1 248.6 363.2 247.5 364.5 C246.5 365.9 244.4 366.8 242.8 366.5 C241.2 366.3 239.5 364.6 238.1 363.0 C236.6 361.3 235.5 358.5 234.2 356.7 C232.8 354.8 231.1 353.3 230.2 351.9 C229.3 350.6 227.8 349.4 228.6 348.8 Z" fill="#0050ff"/>
<path d="M238.1 357.5 C238.6 356.8 240.2 355.9 241.2 355.9 C242.3 355.9 243.6 356.5 244.4 357.5 C245.2 358.4 246.1 360.2 246.0 361.4 C245.8 362.6 244.5 364.3 243.6 364.5 C242.7 364.8 241.3 363.8 240.5 363.0 C239.6 362.2 238.9 360.7 238.5 359.8 C238.1 358.9 237.6 358.1 238.1 357.5 Z" fill="#0000ef"/>
<path d="M214.8 441.6 C214.4 428.1 214.8 374.8 215.1 360.5 C215.4 346.2 215.9 357.0 216.8 355.8 C217.8 354.5 219.4 353.5 220.8 353.0 C222.1 352.5 223.4 352.3 224.7 352.6 C226.0 352.9 227.3 353.5 228.6 354.6 C230.0 355.6 231.1 357.3 232.6 358.9 C234.0 360.6 235.7 363.0 237.3 364.4 C238.9 365.8 240.5 366.7 242.0 367.2 C243.6 367.6 245.2 367.8 246.8 367.2 C248.3 366.6 250.0 364.5 251.5 363.6 C252.9 362.8 254.0 362.2 255.4 362.1 C256.9 361.9 258.6 362.6 260.2 362.8 C261.7 363.1 263.2 363.1 264.9 363.6 C266.6 364.2 269.0 365.0 270.4 366.0 C271.8 367.1 273.2 368.8 273.5 369.9 C273.9 371.1 273.2 372.3 272.8 373.1 C272.4 373.9 272.0 374.5 271.2 374.7 C270.4 374.8 269.1 374.4 268.0 373.9 C267.0 373.4 265.9 371.9 264.9 371.5 C263.8 371.1 262.8 371.3 261.7 371.5 C260.7 371.8 259.6 372.3 258.6 373.1 C257.5 373.9 256.5 375.3 255.4 376.2 C254.4 377.2 253.6 377.8 252.3 378.6 C251.0 379.4 249.3 380.4 247.5 381.0 C245.8 381.5 243.9 381.9 242.0 381.8 C240.2 381.6 238.1 381.2 236.5 380.2 C234.9 379.1 233.8 377.2 232.6 375.5 C231.4 373.7 230.5 371.4 229.4 369.9 C228.4 368.5 227.2 367.3 226.3 366.8 C225.4 366.3 224.6 366.0 223.9 366.8 C223.2 367.6 222.4 369.4 221.9 371.5 C221.5 373.6 221.4 375.5 221.2 379.4 C220.9 383.3 220.9 384.8 220.4 395.2 C219.8 405.5 218.9 433.9 218.0 441.6 C217.1 449.4 215.3 455.2 214.8 441.6 Z" fill="#000" stroke="none"/>
<path d="M272.0 366.0 C274.1 364.8 279.9 367.1 283.8 367.6 C287.7 368.1 291.7 368.5 295.6 369.2 C299.5 369.8 304.1 370.7 307.4 371.5 C310.7 372.3 315.3 373.0 315.3 373.9 C315.3 374.8 310.7 376.0 307.4 377.0 C304.1 378.1 299.5 379.3 295.6 380.2 C291.7 381.1 287.5 383.1 283.8 382.5 C280.1 382.0 275.6 378.3 273.5 377.0 C271.4 375.7 271.4 376.5 271.2 374.7 C270.9 372.8 269.9 367.2 272.0 366.0 Z" fill="#000" fill-opacity="0.45" stroke="none"/>
</g>
<path d="M214.5 531.5 H655.7" stroke="#000" stroke-width="2" fill="none"/>
<path d="M654.5 96.5 V531.5" stroke="#000" stroke-width="1.2" fill="none"/>
<text x="433.8" y="76.6" text-anchor="middle" textLength="507.0" lengthAdjust="spacing" style="font-size:21.4px">HYCOM expt_99.9 - MEAN (MEAN y51-y100) - SSH</text>
<text x="215.3" y="562.8" text-anchor="middle">0</text><text x="288.6" y="562.8" text-anchor="middle">10</text><text x="361.8" y="562.8" text-anchor="middle">20</text><text x="435.1" y="562.8" text-anchor="middle">30</text><text x="508.3" y="562.8" text-anchor="middle">40</text><text x="581.5" y="562.8" text-anchor="middle">50</text>
<text x="208.3" y="540.5" text-anchor="end">15</text><text x="208.3" y="486.1" text-anchor="end">20</text><text x="208.3" y="431.8" text-anchor="end">25</text><text x="208.3" y="377.4" text-anchor="end">30</text><text x="208.3" y="323.0" text-anchor="end">35</text><text x="208.3" y="268.6" text-anchor="end">40</text><text x="208.3" y="214.2" text-anchor="end">45</text><text x="208.3" y="159.9" text-anchor="end">50</text>
<text x="434.6" y="594.2" text-anchor="middle" textLength="162.5" lengthAdjust="spacing" style="font-size:22.8px">LONGITUDE (E)</text>
<text transform="translate(169.9,315.7) rotate(-90)" text-anchor="middle" textLength="143.5" lengthAdjust="spacing" style="font-size:22.8px">LATITUDE (N)</text>
<rect x="687.5" y="97.20" width="42.0" height="7.61" fill="#800000" shape-rendering="crispEdges"/><rect x="687.5" y="104.01" width="42.0" height="7.61" fill="#8f0000" shape-rendering="crispEdges"/><rect x="687.5" y="110.82" width="42.0" height="7.61" fill="#9f0000" shape-rendering="crispEdges"/><rect x="687.5" y="117.63" width="42.0" height="7.61" fill="#af0000" shape-rendering="crispEdges"/><rect x="687.5" y="124.44" width="42.0" height="7.61" fill="#bf0000" shape-rendering="crispEdges"/><rect x="687.5" y="131.25" width="42.0" height="7.61" fill="#cf0000" shape-rendering="crispEdges"/><rect x="687.5" y="138.06" width="42.0" height="7.61" fill="#df0000" shape-rendering="crispEdges"/><rect x="687.5" y="144.87" width="42.0" height="7.61" fill="#ef0000" shape-rendering="crispEdges"/><rect x="687.5" y="151.68" width="42.0" height="7.61" fill="#ff0000" shape-rendering="crispEdges"/><rect x="687.5" y="158.48" width="42.0" height="7.61" fill="#ff1000" shape-rendering="crispEdges"/><rect x="687.5" y="165.29" width="42.0" height="7.61" fill="#ff2000" shape-rendering="crispEdges"/><rect x="687.5" y="172.10" width="42.0" height="7.61" fill="#ff3000" shape-rendering="crispEdges"/><rect x="687.5" y="178.91" width="42.0" height="7.61" fill="#ff4000" shape-rendering="crispEdges"/><rect x="687.5" y="185.72" width="42.0" height="7.61" fill="#ff5000" shape-rendering="crispEdges"/><rect x="687.5" y="192.53" width="42.0" height="7.61" fill="#ff6000" shape-rendering="crispEdges"/><rect x="687.5" y="199.34" width="42.0" height="7.61" fill="#ff7000" shape-rendering="crispEdges"/><rect x="687.5" y="206.15" width="42.0" height="7.61" fill="#ff8000" shape-rendering="crispEdges"/><rect x="687.5" y="212.96" width="42.0" height="7.61" fill="#ff8f00" shape-rendering="crispEdges"/><rect x="687.5" y="219.77" width="42.0" height="7.61" fill="#ff9f00" shape-rendering="crispEdges"/><rect x="687.5" y="226.58" width="42.0" height="7.61" fill="#ffaf00" shape-rendering="crispEdges"/><rect x="687.5" y="233.39" width="42.0" height="7.61" fill="#ffbf00" shape-rendering="crispEdges"/><rect x="687.5" y="240.20" width="42.0" height="7.61" fill="#ffcf00" shape-rendering="crispEdges"/><rect x="687.5" y="247.01" width="42.0" height="7.61" fill="#ffdf00" shape-rendering="crispEdges"/><rect x="687.5" y="253.82" width="42.0" height="7.61" fill="#ffef00" shape-rendering="crispEdges"/><rect x="687.5" y="260.62" width="42.0" height="7.61" fill="#ffff00" shape-rendering="crispEdges"/><rect x="687.5" y="267.43" width="42.0" height="7.61" fill="#efff10" shape-rendering="crispEdges"/><rect x="687.5" y="274.24" width="42.0" height="7.61" fill="#dfff20" shape-rendering="crispEdges"/><rect x="687.5" y="281.05" width="42.0" height="7.61" fill="#cfff30" shape-rendering="crispEdges"/><rect x="687.5" y="287.86" width="42.0" height="7.61" fill="#bfff40" shape-rendering="crispEdges"/><rect x="687.5" y="294.67" width="42.0" height="7.61" fill="#afff50" shape-rendering="crispEdges"/><rect x="687.5" y="301.48" width="42.0" height="7.61" fill="#9fff60" shape-rendering="crispEdges"/><rect x="687.5" y="308.29" width="42.0" height="7.61" fill="#8fff70" shape-rendering="crispEdges"/><rect x="687.5" y="315.10" width="42.0" height="7.61" fill="#80ff80" shape-rendering="crispEdges"/><rect x="687.5" y="321.91" width="42.0" height="7.61" fill="#70ff8f" shape-rendering="crispEdges"/><rect x="687.5" y="328.72" width="42.0" height="7.61" fill="#60ff9f" shape-rendering="crispEdges"/><rect x="687.5" y="335.53" width="42.0" height="7.61" fill="#50ffaf" shape-rendering="crispEdges"/><rect x="687.5" y="342.34" width="42.0" height="7.61" fill="#40ffbf" shape-rendering="crispEdges"/><rect x="687.5" y="349.15" width="42.0" height="7.61" fill="#30ffcf" shape-rendering="crispEdges"/><rect x="687.5" y="355.96" width="42.0" height="7.61" fill="#20ffdf" shape-rendering="crispEdges"/><rect x="687.5" y="362.77" width="42.0" height="7.61" fill="#10ffef" shape-rendering="crispEdges"/><rect x="687.5" y="369.57" width="42.0" height="7.61" fill="#00ffff" shape-rendering="crispEdges"/><rect x="687.5" y="376.38" width="42.0" height="7.61" fill="#00efff" shape-rendering="crispEdges"/><rect x="687.5" y="383.19" width="42.0" height="7.61" fill="#00dfff" shape-rendering="crispEdges"/><rect x="687.5" y="390.00" width="42.0" height="7.61" fill="#00cfff" shape-rendering="crispEdges"/><rect x="687.5" y="396.81" width="42.0" height="7.61" fill="#00bfff" shape-rendering="crispEdges"/><rect x="687.5" y="403.62" width="42.0" height="7.61" fill="#00afff" shape-rendering="crispEdges"/><rect x="687.5" y="410.43" width="42.0" height="7.61" fill="#009fff" shape-rendering="crispEdges"/><rect x="687.5" y="417.24" width="42.0" height="7.61" fill="#008fff" shape-rendering="crispEdges"/><rect x="687.5" y="424.05" width="42.0" height="7.61" fill="#0080ff" shape-rendering="crispEdges"/><rect x="687.5" y="430.86" width="42.0" height="7.61" fill="#0070ff" shape-rendering="crispEdges"/><rect x="687.5" y="437.67" width="42.0" height="7.61" fill="#0060ff" shape-rendering="crispEdges"/><rect x="687.5" y="444.48" width="42.0" height="7.61" fill="#0050ff" shape-rendering="crispEdges"/><rect x="687.5" y="451.29" width="42.0" height="7.61" fill="#0040ff" shape-rendering="crispEdges"/><rect x="687.5" y="458.10" width="42.0" height="7.61" fill="#0030ff" shape-rendering="crispEdges"/><rect x="687.5" y="464.91" width="42.0" height="7.61" fill="#0020ff" shape-rendering="crispEdges"/><rect x="687.5" y="471.72" width="42.0" height="7.61" fill="#0010ff" shape-rendering="crispEdges"/><rect x="687.5" y="478.52" width="42.0" height="7.61" fill="#0000ff" shape-rendering="crispEdges"/><rect x="687.5" y="485.33" width="42.0" height="7.61" fill="#0000ef" shape-rendering="crispEdges"/><rect x="687.5" y="492.14" width="42.0" height="7.61" fill="#0000df" shape-rendering="crispEdges"/><rect x="687.5" y="498.95" width="42.0" height="7.61" fill="#0000cf" shape-rendering="crispEdges"/><rect x="687.5" y="505.76" width="42.0" height="7.61" fill="#0000bf" shape-rendering="crispEdges"/><rect x="687.5" y="512.57" width="42.0" height="7.61" fill="#0000af" shape-rendering="crispEdges"/><rect x="687.5" y="519.38" width="42.0" height="7.61" fill="#00009f" shape-rendering="crispEdges"/><rect x="687.5" y="526.19" width="42.0" height="7.61" fill="#00008f" shape-rendering="crispEdges"/>
<rect x="687.5" y="97.2" width="42.0" height="435.8" fill="none" stroke="#000" stroke-width="1.2"/>
<path d="M687.5 177.6 h4.5 M729.5 177.6 h-4.5" stroke="#000" stroke-width="0.9"/><text x="735.8" y="187.7">0.4</text><path d="M687.5 265.3 h4.5 M729.5 265.3 h-4.5" stroke="#000" stroke-width="0.9"/><text x="735.8" y="275.4">0.2</text><path d="M687.5 353.0 h4.5 M729.5 353.0 h-4.5" stroke="#000" stroke-width="0.9"/><text x="735.8" y="363.1">0</text><path d="M687.5 440.7 h4.5 M729.5 440.7 h-4.5" stroke="#000" stroke-width="0.9"/><text x="735.8" y="450.8">-0.2</text><path d="M687.5 528.4 h4.5 M729.5 528.4 h-4.5" stroke="#000" stroke-width="0.9"/><text x="735.8" y="538.5">-0.4</text>
<text x="764.6" y="337.8" textLength="31.5" lengthAdjust="spacing" style="font-size:22.6px">(M)</text>
</g>
<g transform="translate(726,0)">
<clipPath id="c_p2"><rect x="215.0" y="96.5" width="439.5" height="435.0"/></clipPath>
<rect x="215.0" y="96.5" width="439.5" height="435.0" fill="#fff" stroke="#000" stroke-width="1.2"/>
<g clip-path="url(#c_p2)" stroke="#000" stroke-width="1.2" stroke-linejoin="round">
<rect x="215.0" y="96.5" width="439.5" height="435.0" fill="#bfff40" stroke="none"/>
<path d="M216.3 364.7 C216.9 363.6 218.2 359.6 219.7 358.0 C221.1 356.4 223.2 355.1 225.0 355.3 C226.8 355.6 228.6 357.1 230.3 359.3 C232.1 361.6 233.9 365.9 235.7 368.7 C237.4 371.4 239.2 374.7 241.0 376.0 C242.8 377.3 244.6 377.7 246.3 376.7 C248.1 375.7 249.9 372.2 251.7 370.0 C253.4 367.8 255.2 364.4 257.0 363.3 C258.8 362.2 260.6 362.4 262.3 363.3 C264.1 364.2 264.8 367.2 267.7 368.7 C270.6 370.2 275.7 371.6 279.7 372.3 C283.7 372.9 287.4 372.1 291.7 372.4 C295.9 372.7 300.6 373.5 305.0 374.0 C309.4 374.5 312.8 375.2 318.3 375.3 C323.9 375.4 331.7 375.3 338.3 374.7 C345.0 374.0 352.8 372.6 358.3 371.3 C363.9 370.1 367.7 368.7 371.7 367.3 C375.7 366.0 379.0 365.6 382.3 363.3 C385.7 361.1 389.0 356.4 391.7 354.0 C394.3 351.6 395.0 350.2 398.3 348.7 C401.7 347.1 407.2 345.6 411.7 344.7 C416.1 343.8 414.4 343.4 425.0 343.3 C435.6 343.2 460.0 343.1 475.0 344.0 C490.0 344.9 501.7 347.5 515.0 349.0 C528.3 350.5 541.7 352.6 555.0 353.0 C568.3 353.4 583.3 352.1 595.0 351.6 C606.7 351.1 618.7 351.3 625.0 350.0 C631.3 348.7 630.7 344.5 633.0 344.0 C635.3 343.5 636.7 346.7 639.0 347.0 C641.3 347.3 645.8 344.5 647.0 346.0 C648.2 347.5 647.0 350.3 646.0 356.0 C645.0 361.7 643.5 372.0 641.0 380.0 C638.5 388.0 634.7 395.7 631.0 404.0 C627.3 412.3 622.6 424.0 619.0 430.0 C615.4 436.0 613.2 435.1 609.2 440.0 C605.3 444.9 602.3 452.5 595.3 459.5 C588.3 466.5 576.7 475.8 567.4 481.8 C558.1 487.9 548.8 492.3 539.5 495.8 C530.2 499.2 521.0 500.9 511.7 502.7 C502.4 504.6 492.8 505.3 483.8 506.9 C474.7 508.5 461.2 510.9 457.3 512.5 C453.4 514.1 458.5 515.7 460.1 516.7 C461.7 517.6 467.8 517.4 467.1 518.1 C466.4 518.8 462.4 520.0 455.9 520.8 C449.4 521.7 442.0 522.4 428.0 523.1 C414.1 523.8 390.9 524.6 372.3 525.0 C353.7 525.5 335.1 525.6 316.5 525.9 C297.9 526.1 276.6 526.2 260.8 526.4 C245.0 526.6 229.1 527.4 221.7 527.0 C214.4 526.5 217.6 528.8 216.7 523.6 C215.8 518.4 216.2 509.7 216.2 495.8 C216.1 481.8 216.6 456.0 216.6 440.0 C216.6 424.0 216.4 406.7 216.4 400.0 Z" fill="#efff10"/>
<path d="M216.3 364.7 C216.9 363.6 218.2 359.6 219.7 358.0 C221.1 356.4 223.2 355.1 225.0 355.3 C226.8 355.6 228.6 357.1 230.3 359.3 C232.1 361.6 233.9 365.9 235.7 368.7 C237.4 371.4 239.2 374.7 241.0 376.0 C242.8 377.3 244.6 377.7 246.3 376.7 C248.1 375.7 249.9 372.2 251.7 370.0 C253.4 367.8 255.2 364.4 257.0 363.3 C258.8 362.2 260.6 362.4 262.3 363.3 C264.1 364.2 264.8 367.0 267.7 368.7 C270.6 370.4 275.7 372.6 279.7 373.5 C283.7 374.4 287.4 373.6 291.7 374.0 C295.9 374.4 299.4 375.2 305.0 375.6 C310.6 376.0 317.2 376.8 325.0 376.7 C332.8 376.6 343.9 375.8 351.7 374.9 C359.4 374.0 366.1 372.4 371.7 371.3 C377.2 370.3 380.6 369.8 385.0 368.7 C389.4 367.6 393.9 366.4 398.3 364.7 C402.8 362.9 407.2 359.8 411.7 358.0 C416.1 356.2 419.4 355.2 425.0 354.0 C430.6 352.8 436.7 351.7 445.0 351.0 C453.3 350.3 465.0 349.5 475.0 350.0 C485.0 350.5 495.0 352.5 505.0 354.0 C515.0 355.5 525.7 357.5 535.0 359.0 C544.3 360.5 554.7 362.0 561.0 363.0 C567.3 364.0 570.5 363.7 573.0 365.0 C575.5 366.3 576.8 368.2 576.0 371.0 C575.2 373.8 568.7 377.5 568.0 382.0 C567.3 386.5 572.2 392.3 572.0 398.0 C571.8 403.7 569.8 410.3 567.0 416.0 C564.2 421.7 558.2 428.0 555.0 432.0 C551.8 436.0 552.8 436.3 547.9 440.0 C543.0 443.7 534.0 449.3 525.6 453.9 C517.2 458.6 507.0 463.7 497.7 467.9 C488.4 472.1 481.5 475.3 469.8 479.0 C458.2 482.7 444.3 486.7 428.0 490.2 C411.8 493.7 390.9 497.2 372.3 499.9 C353.7 502.7 335.1 504.8 316.5 506.9 C297.9 509.0 274.7 511.2 260.8 512.5 C246.8 513.8 239.3 514.9 232.9 514.7 C226.5 514.5 224.7 514.2 222.3 511.1 C219.8 507.9 218.9 503.0 218.1 495.8 C217.3 488.6 217.5 478.8 217.3 467.9 C217.1 456.9 217.1 441.3 217.0 430.0 C216.9 418.7 216.8 405.0 216.8 400.0 Z" fill="#ffdf00"/>
<path d="M216.3 364.7 C216.9 363.6 218.2 359.6 219.7 358.0 C221.1 356.4 223.2 355.1 225.0 355.3 C226.8 355.6 228.6 357.1 230.3 359.3 C232.1 361.6 233.9 365.9 235.7 368.7 C237.4 371.4 239.2 374.7 241.0 376.0 C242.8 377.3 244.6 377.7 246.3 376.7 C248.1 375.7 249.9 372.2 251.7 370.0 C253.4 367.8 255.2 364.4 257.0 363.3 C258.8 362.2 260.6 362.4 262.3 363.3 C264.1 364.2 264.8 366.8 267.7 368.7 C270.6 370.5 275.7 373.4 279.7 374.5 C283.7 375.7 287.4 375.2 291.7 375.6 C295.9 376.0 299.4 376.8 305.0 377.2 C310.6 377.6 316.1 378.1 325.0 378.3 C333.9 378.4 350.0 378.0 358.3 378.0 C366.7 378.0 367.2 378.7 375.0 378.0 C382.8 377.3 394.3 375.2 405.0 374.0 C415.7 372.8 429.0 370.0 439.0 371.0 C449.0 372.0 460.3 377.2 465.0 380.0 C469.7 382.8 465.2 385.0 467.0 388.0 C468.8 391.0 473.5 393.3 476.0 398.0 C478.5 402.7 482.5 410.3 482.0 416.0 C481.5 421.7 475.5 428.0 473.0 432.0 C470.5 436.0 472.2 436.3 467.1 440.0 C461.9 443.7 453.1 449.3 442.0 453.9 C430.8 458.6 416.4 463.7 400.1 467.9 C383.9 472.1 363.0 475.5 344.4 479.0 C325.8 482.5 306.3 486.1 288.6 488.8 C271.0 491.5 249.0 494.5 238.5 495.2 C227.9 495.9 228.2 495.2 225.1 493.0 C221.9 490.7 220.6 488.3 219.5 481.8 C218.4 475.3 218.7 464.2 218.4 453.9 C218.0 443.6 217.6 429.0 217.4 420.0 C217.2 411.0 217.2 403.3 217.2 400.0 Z" fill="#ffaf00"/>
<path d="M216.3 364.7 C216.9 363.6 218.2 359.6 219.7 358.0 C221.1 356.4 223.2 355.1 225.0 355.3 C226.8 355.6 228.6 357.1 230.3 359.3 C232.1 361.6 233.9 365.9 235.7 368.7 C237.4 371.4 239.2 374.7 241.0 376.0 C242.8 377.3 244.6 377.7 246.3 376.7 C248.1 375.7 249.9 372.2 251.7 370.0 C253.4 367.8 255.2 364.4 257.0 363.3 C258.8 362.2 260.6 362.4 262.3 363.3 C264.1 364.2 264.8 366.6 267.7 368.7 C270.6 370.7 275.7 374.2 279.7 375.6 C283.7 377.0 287.4 376.7 291.7 377.2 C295.9 377.7 299.4 378.0 305.0 378.8 C310.6 379.6 316.7 381.3 325.0 382.0 C333.3 382.7 346.7 382.5 355.0 383.0 C363.3 383.5 370.0 384.2 375.0 385.0 C380.0 385.8 382.2 386.2 385.0 388.0 C387.8 389.8 391.7 393.0 392.0 396.0 C392.3 399.0 388.5 402.3 387.0 406.0 C385.5 409.7 386.0 414.0 383.0 418.0 C380.0 422.0 374.5 426.3 369.0 430.0 C363.5 433.7 358.7 436.0 350.0 440.0 C341.2 444.0 329.1 449.8 316.5 453.9 C304.0 458.1 287.7 461.9 274.7 465.1 C261.7 468.3 246.6 471.7 238.5 472.9 C230.3 474.1 228.6 473.8 225.6 472.1 C222.7 470.3 222.2 471.0 220.9 462.3 C219.6 453.6 218.3 430.4 217.8 420.0 C217.3 409.6 217.6 403.3 217.6 400.0 Z" fill="#ff7000"/>
<path d="M216.3 364.7 C216.9 363.6 218.2 359.6 219.7 358.0 C221.1 356.4 223.2 355.1 225.0 355.3 C226.8 355.6 228.6 357.1 230.3 359.3 C232.1 361.6 233.9 365.9 235.7 368.7 C237.4 371.4 239.2 374.7 241.0 376.0 C242.8 377.3 244.6 377.7 246.3 376.7 C248.1 375.7 249.9 372.2 251.7 370.0 C253.4 367.8 255.2 364.4 257.0 363.3 C258.8 362.2 260.6 362.4 262.3 363.3 C264.1 364.2 264.8 366.4 267.7 368.7 C270.6 370.9 275.7 375.1 279.7 376.8 C283.7 378.5 287.4 378.2 291.7 378.8 C295.9 379.4 297.8 379.6 305.0 380.7 C312.2 381.7 326.3 383.8 335.0 385.0 C343.7 386.2 351.7 386.2 357.0 388.0 C362.3 389.8 365.6 392.7 366.6 396.0 C367.6 399.3 366.6 404.0 363.0 408.0 C359.4 412.0 351.3 416.5 345.0 420.0 C338.7 423.5 333.3 426.0 325.0 429.0 C316.7 432.0 301.1 436.2 295.0 438.0 C288.9 439.8 294.3 438.5 288.6 440.0 C282.9 441.5 270.0 445.0 260.8 447.0 C251.5 448.9 239.2 451.5 232.9 451.7 C226.6 451.9 225.2 452.0 222.8 448.4 C220.5 444.7 219.4 438.1 218.6 430.0 C217.8 421.9 218.3 405.0 218.2 400.0 Z" fill="#ff4000"/>
<path d="M216.3 364.7 C216.9 363.6 218.2 359.6 219.7 358.0 C221.1 356.4 223.2 355.1 225.0 355.3 C226.8 355.6 228.6 357.1 230.3 359.3 C232.1 361.6 233.9 365.9 235.7 368.7 C237.4 371.4 239.2 374.7 241.0 376.0 C242.8 377.3 244.6 377.7 246.3 376.7 C248.1 375.7 249.9 372.2 251.7 370.0 C253.4 367.8 253.8 361.5 257.0 363.3 C260.2 365.2 264.7 377.6 271.0 381.0 C277.3 384.4 286.0 382.8 295.0 384.0 C304.0 385.2 317.3 386.7 325.0 388.0 C332.7 389.3 337.3 390.5 341.0 392.0 C344.7 393.5 347.1 395.0 347.4 397.0 C347.7 399.0 346.7 401.2 343.0 404.0 C339.3 406.8 331.3 411.0 325.0 414.0 C318.7 417.0 313.3 419.3 305.0 422.0 C296.7 424.7 285.0 427.5 275.0 430.0 C265.0 432.5 252.7 435.7 245.0 437.0 C237.3 438.3 232.7 438.8 229.0 438.0 C225.3 437.2 224.4 436.3 223.0 432.0 C221.6 427.7 221.2 418.7 220.6 412.0 C220.0 405.3 219.6 395.3 219.4 392.0 Z" fill="#ff1000"/>
<path d="M219.0 384.0 C220.8 381.4 225.0 384.1 231.0 384.4 C237.0 384.7 246.0 385.4 255.0 386.0 C264.0 386.6 276.0 387.0 285.0 388.0 C294.0 389.0 302.4 390.3 309.0 392.0 C315.6 393.7 322.9 396.0 324.6 398.0 C326.3 400.0 323.9 401.3 319.0 404.0 C314.1 406.7 304.0 411.0 295.0 414.0 C286.0 417.0 274.0 419.8 265.0 422.0 C256.0 424.2 247.3 426.7 241.0 427.0 C234.7 427.3 230.2 425.8 227.0 424.0 C223.8 422.2 223.1 420.0 222.0 416.0 C220.9 412.0 220.7 405.3 220.2 400.0 C219.7 394.7 217.2 386.6 219.0 384.0 Z" fill="#df0000"/>
<path d="M221.0 393.0 C221.3 390.9 221.7 390.4 224.0 389.6 C226.3 388.8 229.8 387.9 235.0 388.0 C240.2 388.1 249.0 388.9 255.0 390.0 C261.0 391.1 266.0 393.6 271.0 394.4 C276.0 395.2 282.3 394.5 285.0 395.0 C287.7 395.5 288.1 396.6 287.4 397.6 C286.7 398.6 284.1 399.6 281.0 401.0 C277.9 402.4 273.3 404.2 269.0 406.0 C264.7 407.8 260.7 410.2 255.0 412.0 C249.3 413.8 240.0 417.0 235.0 417.0 C230.0 417.0 227.2 414.5 225.0 412.0 C222.8 409.5 222.7 405.2 222.0 402.0 C221.3 398.8 220.7 395.1 221.0 393.0 Z" fill="#af0000"/>
<path d="M216.3 364.7 C216.9 363.6 218.2 359.6 219.7 358.0 C221.1 356.4 223.2 355.1 225.0 355.3 C226.8 355.6 228.6 357.1 230.3 359.3 C232.1 361.6 233.9 365.9 235.7 368.7 C237.4 371.4 239.2 374.7 241.0 376.0 C242.8 377.3 244.6 377.7 246.3 376.7 C248.1 375.7 249.9 372.2 251.7 370.0 C253.4 367.8 255.2 364.4 257.0 363.3 C258.8 362.2 260.6 362.4 262.3 363.3 C264.1 364.2 264.8 367.4 267.7 368.7 C270.6 370.0 275.7 370.8 279.7 371.2 C283.7 371.6 287.4 370.7 291.7 370.8 C295.9 370.9 300.6 371.6 305.0 372.0 C309.4 372.4 312.8 372.9 318.3 372.9 C323.9 372.9 331.7 372.7 338.3 372.0 C345.0 371.3 353.6 370.1 358.3 368.7 C363.1 367.2 365.2 365.3 367.0 363.3 C368.8 361.3 368.6 359.6 369.0 356.7 C369.4 353.8 369.0 348.8 369.7 346.0 C370.3 343.2 370.4 341.6 373.0 340.0 C375.6 338.4 379.7 337.7 385.0 336.7 C390.3 335.7 398.3 334.6 405.0 334.0 C411.7 333.4 415.0 332.7 425.0 333.3 C435.0 334.0 453.3 336.6 465.0 338.0 C476.7 339.4 485.0 340.8 495.0 342.0 C505.0 343.2 515.0 344.8 525.0 345.0 C535.0 345.2 546.8 344.2 555.0 343.0 C563.2 341.8 569.8 340.5 574.0 338.0 C578.2 335.5 579.5 332.7 580.0 328.0 C580.5 323.3 576.8 314.5 577.0 310.0 C577.2 305.5 576.3 304.3 581.0 301.0 C585.7 297.7 599.0 293.5 605.0 290.0 C611.0 286.5 614.0 283.0 617.0 280.0 C620.0 277.0 620.7 275.3 623.0 272.0 C625.3 268.7 628.7 267.2 631.0 260.0 C633.3 252.8 635.4 238.6 636.6 228.7 C637.8 218.7 637.4 207.7 638.2 200.3 C639.0 193.0 640.1 192.7 641.4 184.5 C642.7 176.4 645.6 159.3 646.1 151.5 C646.6 143.6 645.8 142.0 644.5 137.3 C643.2 132.5 641.4 126.8 638.2 123.1 C635.1 119.4 630.3 117.3 625.6 115.2 C620.9 113.1 614.8 112.1 609.9 110.5 C604.9 108.9 598.6 107.2 595.7 105.8 C592.8 104.3 595.4 102.7 592.5 101.8 C589.6 100.9 583.3 100.8 578.3 100.2 C573.3 99.7 569.9 99.2 562.6 98.7 C555.2 98.1 539.5 100.1 534.2 97.1 C529.0 94.1 531.6 83.3 531.1 80.5 L190.0 71.5 L190.0 364.7 Z" fill="#8fff70"/>
<path d="M216.3 364.7 C216.9 363.6 218.2 359.6 219.7 358.0 C221.1 356.4 223.2 355.1 225.0 355.3 C226.8 355.6 228.6 357.1 230.3 359.3 C232.1 361.6 233.9 365.9 235.7 368.7 C237.4 371.4 239.2 374.7 241.0 376.0 C242.8 377.3 244.6 377.7 246.3 376.7 C248.1 375.7 249.9 372.2 251.7 370.0 C253.4 367.8 255.2 364.4 257.0 363.3 C258.8 362.2 260.6 362.4 262.3 363.3 C264.1 364.2 264.8 367.6 267.7 368.7 C270.6 369.8 275.7 369.9 279.7 370.0 C283.7 370.1 286.3 369.2 291.7 369.2 C297.0 369.2 305.0 369.9 311.7 369.7 C318.3 369.6 326.3 369.2 331.7 368.4 C337.0 367.6 340.9 366.0 343.7 364.7 C346.4 363.4 347.4 362.4 348.3 360.7 C349.2 358.9 349.6 356.2 349.0 354.0 C348.4 351.8 346.8 349.6 345.0 347.3 C343.2 345.1 340.1 343.3 338.3 340.7 C336.6 338.0 334.6 333.4 334.3 331.3 C334.1 329.2 335.2 328.9 337.0 328.0 C338.8 327.1 340.3 326.4 345.0 326.0 C349.7 325.6 357.2 325.2 365.0 325.3 C372.8 325.4 381.7 326.1 391.7 326.7 C401.7 327.2 412.8 327.3 425.0 328.7 C437.2 330.1 453.3 333.6 465.0 335.0 C476.7 336.4 487.3 337.3 495.0 337.0 C502.7 336.7 507.7 335.0 511.0 333.0 C514.3 331.0 512.3 327.2 515.0 325.0 C517.7 322.8 524.8 321.3 527.0 320.0 C529.2 318.7 530.0 319.3 528.0 317.0 C526.0 314.7 517.8 309.5 515.0 306.0 C512.2 302.5 509.3 299.8 511.0 296.0 C512.7 292.2 517.7 286.3 525.0 283.0 C532.3 279.7 546.7 278.5 555.0 276.0 C563.3 273.5 569.7 270.7 575.0 268.0 C580.3 265.3 581.5 262.1 587.0 260.0 C592.5 257.9 604.2 258.8 608.3 255.5 C612.3 252.1 610.1 246.3 611.4 239.7 C612.7 233.1 613.8 223.9 616.2 216.1 C618.5 208.2 623.2 199.8 625.6 192.4 C628.0 185.1 629.8 179.0 630.3 171.9 C630.9 164.9 630.1 155.9 628.8 149.9 C627.4 143.8 625.6 139.4 622.5 135.7 C619.3 132.0 615.9 130.3 609.9 127.8 C603.8 125.3 594.1 122.7 586.2 120.7 C578.3 118.8 571.8 117.6 562.6 116.0 C553.4 114.4 539.2 112.5 531.1 111.3 C522.9 110.1 517.1 110.1 513.7 108.9 C510.3 107.7 515.0 105.4 510.6 104.2 C506.1 103.0 494.0 102.6 486.9 101.8 C479.9 101.0 474.3 100.3 468.0 99.5 C461.7 98.6 453.1 99.8 449.1 96.6 C445.2 93.5 445.2 83.2 444.4 80.5 L190.0 71.5 L190.0 364.7 Z" fill="#50ffaf"/>
<path d="M216.3 364.7 C216.9 363.6 218.2 359.6 219.7 358.0 C221.1 356.4 223.2 355.1 225.0 355.3 C226.8 355.6 228.6 357.1 230.3 359.3 C232.1 361.6 233.9 365.9 235.7 368.7 C237.4 371.4 239.2 374.7 241.0 376.0 C242.8 377.3 244.6 377.7 246.3 376.7 C248.1 375.7 249.9 372.2 251.7 370.0 C253.4 367.8 255.2 364.4 257.0 363.3 C258.8 362.2 260.6 362.4 262.3 363.3 C264.1 364.2 264.8 367.7 267.7 368.7 C270.6 369.6 275.7 369.1 279.7 368.9 C283.7 368.8 287.4 368.1 291.7 367.9 C295.9 367.6 300.6 367.7 305.0 367.6 C309.4 367.5 314.1 367.6 318.3 367.1 C322.6 366.6 327.7 365.7 330.3 364.7 C333.0 363.6 334.3 362.4 334.3 360.7 C334.3 358.9 332.6 356.4 330.3 354.0 C328.1 351.6 324.1 349.1 321.0 346.0 C317.9 342.9 313.9 338.9 311.7 335.3 C309.4 331.8 307.7 327.4 307.7 324.7 C307.7 321.9 308.8 319.9 311.7 318.7 C314.6 317.4 318.3 317.4 325.0 317.3 C331.7 317.2 340.6 317.4 351.7 318.0 C362.8 318.6 379.4 319.7 391.7 320.7 C403.9 321.7 414.6 323.4 425.0 324.0 C435.4 324.6 448.8 325.7 454.0 324.0 C459.2 322.3 454.7 317.2 456.0 314.0 C457.3 310.8 461.8 308.0 462.0 305.0 C462.2 302.0 460.0 298.8 457.0 296.0 C454.0 293.2 446.3 290.0 444.0 288.0 C441.7 286.0 439.0 285.4 443.0 284.0 C447.0 282.6 458.6 280.8 468.0 279.9 C477.5 278.9 489.0 278.7 499.5 278.3 C510.1 277.9 520.6 278.2 531.1 277.5 C541.6 276.9 554.7 275.9 562.6 274.4 C570.5 272.8 574.1 271.2 578.3 268.1 C582.5 264.9 585.4 261.5 587.8 255.5 C590.2 249.4 590.2 238.9 592.5 231.8 C594.9 224.7 598.8 219.5 602.0 212.9 C605.1 206.3 609.2 199.8 611.4 192.4 C613.7 185.1 615.1 175.4 615.4 168.8 C615.6 162.2 615.2 157.2 613.0 153.0 C610.8 148.8 607.8 146.7 602.0 143.6 C596.2 140.4 587.5 136.7 578.3 134.1 C569.1 131.5 558.6 129.9 546.8 127.8 C535.0 125.7 517.9 123.1 507.4 121.5 C496.9 119.9 493.0 119.5 483.8 118.4 C474.6 117.2 462.8 116.0 452.3 114.4 C441.8 112.8 435.3 111.1 420.8 108.9 C406.2 106.7 379.3 102.8 365.0 101.0 C350.7 99.2 347.3 99.0 335.0 98.4 C322.7 97.8 302.7 100.6 291.0 97.2 C279.3 93.8 269.3 81.2 265.0 78.0 L190.0 71.5 L190.0 364.7 Z" fill="#20ffdf"/>
<path d="M216.3 364.7 C216.9 363.6 218.2 359.6 219.7 358.0 C221.1 356.4 223.2 355.1 225.0 355.3 C226.8 355.6 228.6 357.1 230.3 359.3 C232.1 361.6 233.9 365.9 235.7 368.7 C237.4 371.4 239.2 374.7 241.0 376.0 C242.8 377.3 244.6 377.7 246.3 376.7 C248.1 375.7 249.9 372.2 251.7 370.0 C253.4 367.8 255.2 364.4 257.0 363.3 C258.8 362.2 260.6 362.4 262.3 363.3 C264.1 364.2 263.9 368.0 267.7 368.7 C271.4 369.3 279.9 368.0 285.0 367.3 C290.1 366.7 294.1 365.3 298.3 364.7 C302.6 364.0 307.4 364.3 310.3 363.3 C313.2 362.3 315.4 360.0 315.7 358.7 C315.9 357.3 314.1 357.7 311.7 355.3 C309.2 353.0 304.1 348.4 301.0 344.7 C297.9 340.9 295.1 336.4 293.0 332.7 C290.9 328.9 288.8 324.9 288.3 322.0 C287.9 319.1 288.7 317.1 290.3 315.3 C292.0 313.6 292.6 312.1 298.3 311.3 C304.1 310.6 316.1 310.8 325.0 310.7 C333.9 310.6 342.8 310.3 351.7 310.7 C360.6 311.0 372.1 313.0 378.3 312.7 C384.6 312.3 387.4 310.2 389.0 308.7 C390.6 307.1 387.2 305.8 387.7 303.3 C388.1 300.9 391.3 296.7 391.7 294.0 C392.0 291.3 389.9 289.3 389.7 287.3 C389.4 285.3 387.8 283.6 390.3 282.0 C392.9 280.4 399.2 279.2 405.0 278.0 C410.8 276.8 414.5 275.4 425.0 274.7 C435.5 273.9 455.6 274.2 468.0 273.6 C480.5 273.0 489.0 272.1 499.5 271.2 C510.1 270.3 522.7 269.4 531.1 268.1 C539.5 266.8 545.4 265.7 550.0 263.3 C554.6 261.0 557.3 257.3 558.6 253.9 C560.0 250.5 555.9 247.1 557.9 242.9 C559.8 238.7 565.7 233.7 570.5 228.7 C575.2 223.7 581.8 218.2 586.2 212.9 C590.7 207.7 594.9 202.9 597.2 197.2 C599.6 191.4 600.9 184.5 600.4 178.2 C599.9 171.9 597.8 164.1 594.1 159.3 C590.4 154.6 583.6 151.5 578.3 149.9 C573.1 148.3 570.5 150.8 562.6 149.9 C554.7 149.0 541.6 146.5 531.1 144.4 C520.6 142.3 510.1 139.4 499.5 137.3 C489.0 135.2 478.5 133.7 468.0 131.8 C457.5 129.8 450.4 127.7 436.5 125.5 C422.7 123.2 400.3 120.2 385.0 118.0 C369.7 115.8 355.7 113.8 345.0 112.0 C334.3 110.2 331.7 108.7 321.0 107.0 C310.3 105.3 293.7 103.2 281.0 102.0 C268.3 100.8 255.6 99.9 245.0 99.6 C234.4 99.3 222.1 88.3 217.4 100.0 C212.7 111.7 216.8 145.0 216.6 170.0 C216.4 195.0 216.6 227.8 216.4 250.0 C216.2 272.2 215.3 287.8 215.1 303.3 C214.9 318.9 215.1 336.7 215.1 343.3 Z" fill="#00efff"/>
<path d="M216.3 364.7 C216.9 363.6 218.2 359.6 219.7 358.0 C221.1 356.4 223.2 355.1 225.0 355.3 C226.8 355.6 228.6 357.1 230.3 359.3 C232.1 361.6 233.9 365.9 235.7 368.7 C237.4 371.4 239.2 374.7 241.0 376.0 C242.8 377.3 244.6 377.7 246.3 376.7 C248.1 375.7 250.1 372.9 251.7 370.0 C253.2 367.1 254.6 361.4 255.7 359.3 C256.8 357.3 256.1 357.6 258.3 357.7 C260.6 357.9 265.9 359.4 269.0 360.4 C272.1 361.4 274.3 363.9 277.0 363.7 C279.7 363.6 282.8 361.1 285.0 359.3 C287.2 357.6 290.6 356.0 290.3 353.3 C290.1 350.7 285.9 346.8 283.7 343.3 C281.4 339.9 279.2 336.2 277.0 332.7 C274.8 329.1 272.0 324.9 270.3 322.0 C268.7 319.1 265.7 317.6 267.0 315.3 C268.3 313.1 274.2 310.2 278.3 308.7 C282.4 307.1 286.1 306.8 291.7 306.0 C297.2 305.2 305.4 304.9 311.7 304.0 C317.9 303.1 325.9 302.1 329.0 300.7 C332.1 299.2 329.9 297.4 330.3 295.3 C330.8 293.2 329.2 290.0 331.7 288.0 C334.1 286.0 339.4 285.0 345.0 283.3 C350.6 281.7 357.2 279.8 365.0 278.0 C372.8 276.2 381.7 274.9 391.7 272.7 C401.7 270.4 414.9 266.2 425.0 264.7 C435.1 263.1 442.5 264.0 452.3 263.3 C462.1 262.7 474.6 262.0 483.8 261.0 C493.0 259.9 500.9 259.0 507.4 257.0 C514.0 255.1 517.9 252.0 523.2 249.2 C528.4 246.3 533.7 243.1 538.9 239.7 C544.2 236.3 550.0 232.6 554.7 228.7 C559.4 224.7 563.4 220.8 567.3 216.1 C571.2 211.3 575.8 206.1 578.3 200.3 C580.8 194.5 582.5 186.6 582.3 181.4 C582.0 176.1 580.0 171.7 576.8 168.8 C573.5 165.9 570.2 166.2 562.6 164.1 C555.0 162.0 541.6 158.8 531.1 156.2 C520.6 153.6 510.1 150.8 499.5 148.3 C489.0 145.8 478.5 143.4 468.0 141.2 C457.5 139.0 450.4 137.1 436.5 134.9 C422.7 132.7 401.9 130.0 385.0 128.0 C368.1 126.0 350.0 124.8 335.0 123.0 C320.0 121.2 306.7 118.5 295.0 117.0 C283.3 115.5 275.0 114.6 265.0 114.0 C255.0 113.4 242.0 113.3 235.0 113.6 C228.0 113.9 225.7 114.6 223.0 116.0 C220.3 117.4 219.4 113.0 218.6 122.0 C217.8 131.0 218.2 148.7 218.0 170.0 C217.8 191.3 218.0 227.8 217.6 250.0 C217.2 272.2 216.0 287.8 215.7 303.3 C215.3 318.9 215.7 336.7 215.7 343.3 Z" fill="#00bfff"/>
<path d="M217.0 263.3 C217.3 266.1 219.0 270.5 221.0 270.7 C223.0 270.9 226.1 264.8 229.0 264.7 C231.9 264.6 234.5 268.4 238.3 270.0 C242.1 271.6 246.6 272.6 251.7 274.0 C256.8 275.4 263.9 277.7 269.0 278.7 C274.1 279.7 275.2 280.3 282.3 280.0 C289.4 279.7 302.4 278.0 311.7 276.7 C321.0 275.4 329.4 273.6 338.3 272.0 C347.2 270.4 356.1 268.9 365.0 267.3 C373.9 265.8 381.7 264.2 391.7 262.7 C401.7 261.1 414.9 258.9 425.0 258.0 C435.1 257.1 443.8 257.7 452.3 257.0 C460.8 256.3 468.0 255.7 475.9 253.9 C483.8 252.0 493.0 248.9 499.5 246.0 C506.1 243.1 508.7 240.2 515.3 236.5 C521.9 232.9 532.4 227.9 538.9 223.9 C545.5 220.0 550.5 216.9 554.7 212.9 C558.9 209.0 562.4 205.0 564.2 200.3 C565.9 195.6 566.3 188.7 564.9 184.5 C563.6 180.3 561.9 178.0 556.3 175.1 C550.6 172.2 540.5 169.8 531.1 167.2 C521.6 164.6 510.1 161.7 499.5 159.3 C489.0 157.0 478.5 155.4 468.0 153.0 C457.5 150.7 450.4 147.3 436.5 145.2 C422.7 143.0 401.9 142.0 385.0 140.0 C368.1 138.0 350.0 135.2 335.0 133.0 C320.0 130.8 306.7 128.5 295.0 127.0 C283.3 125.5 274.7 124.4 265.0 124.0 C255.3 123.6 243.7 123.7 237.0 124.4 C230.3 125.1 227.7 126.1 225.0 128.0 C222.3 129.9 221.9 129.0 221.0 136.0 C220.1 143.0 219.7 154.3 219.4 170.0 C219.1 185.7 219.5 216.0 219.4 230.0 C219.3 244.0 219.4 248.4 219.0 254.0 C218.6 259.6 216.7 260.5 217.0 263.3 Z" fill="#008fff"/>
<path d="M231.7 250.0 C232.8 251.8 233.5 254.9 235.7 256.7 C237.9 258.5 240.1 259.1 245.0 260.7 C249.9 262.2 258.8 264.9 265.0 266.0 C271.2 267.1 274.5 267.5 282.3 267.3 C290.1 267.1 300.1 266.0 311.7 264.7 C323.3 263.4 338.4 261.1 351.7 259.3 C365.0 257.5 379.5 255.6 391.7 254.0 C403.9 252.4 414.9 251.1 425.0 250.0 C435.1 248.9 443.8 249.3 452.3 247.6 C460.8 245.9 468.0 242.6 475.9 239.7 C483.8 236.8 491.7 233.4 499.5 230.2 C507.4 227.1 516.6 224.5 523.2 220.8 C529.8 217.1 535.8 212.1 538.9 208.2 C542.1 204.2 542.9 201.4 542.1 197.2 C541.3 193.0 538.2 187.2 534.2 183.0 C530.3 178.8 524.2 174.3 518.5 171.9 C512.7 169.6 508.0 170.4 499.5 168.8 C491.1 167.2 478.5 164.7 468.0 162.5 C457.5 160.3 450.4 157.3 436.5 155.4 C422.7 153.5 400.3 152.9 385.0 151.0 C369.7 149.1 356.3 146.0 345.0 144.0 C333.7 142.0 327.0 140.7 317.0 139.0 C307.0 137.3 295.0 135.2 285.0 134.0 C275.0 132.8 264.3 132.2 257.0 132.0 C249.7 131.8 245.3 131.7 241.0 133.0 C236.7 134.3 233.5 137.2 231.0 140.0 C228.5 142.8 227.4 145.0 226.0 150.0 C224.6 155.0 223.3 160.0 222.6 170.0 C221.9 180.0 222.0 198.0 221.8 210.0 C221.6 222.0 220.9 234.7 221.4 242.0 C221.9 249.3 223.7 253.3 225.0 254.0 C226.3 254.7 227.9 246.7 229.0 246.0 C230.1 245.3 230.6 248.2 231.7 250.0 Z" fill="#0050ff"/>
<path d="M250.3 250.0 C254.6 252.0 259.7 252.9 265.0 254.0 C270.3 255.1 275.6 256.2 282.3 256.4 C289.0 256.6 295.7 255.9 305.0 255.3 C314.3 254.7 326.1 253.6 338.3 252.7 C350.5 251.8 367.2 251.1 378.3 250.0 C389.4 248.9 396.6 247.5 405.0 246.0 C413.4 244.5 420.8 243.1 428.6 241.3 C436.5 239.4 444.4 237.6 452.3 235.0 C460.2 232.3 468.0 228.7 475.9 225.5 C483.8 222.4 493.2 219.2 499.5 216.1 C505.9 212.9 511.1 210.3 513.7 206.6 C516.4 202.9 516.4 197.4 515.3 194.0 C514.3 190.6 511.4 188.6 507.4 186.1 C503.5 183.6 498.2 181.1 491.7 179.0 C485.1 176.9 475.4 175.4 468.0 173.5 C460.7 171.7 454.1 169.4 447.5 168.0 C441.0 166.6 439.1 166.2 428.6 164.9 C418.2 163.5 398.9 162.0 385.0 160.0 C371.1 158.0 356.3 155.0 345.0 153.0 C333.7 151.0 327.0 149.4 317.0 148.0 C307.0 146.6 295.0 145.3 285.0 144.4 C275.0 143.5 264.3 142.5 257.0 142.4 C249.7 142.3 245.7 141.7 241.0 144.0 C236.3 146.3 231.7 150.0 229.0 156.0 C226.3 162.0 225.8 171.0 225.0 180.0 C224.2 189.0 224.3 201.7 224.0 210.0 C223.7 218.3 223.2 227.0 223.4 230.0 C223.6 233.0 224.2 229.7 225.0 228.0 C225.8 226.3 226.7 219.0 228.0 220.0 C229.3 221.0 231.2 230.3 233.0 234.0 C234.8 237.7 236.1 239.3 239.0 242.0 C241.9 244.7 246.0 248.0 250.3 250.0 Z" fill="#0020ff"/>
<path d="M232.0 170.0 C232.7 163.5 232.8 161.8 237.0 159.0 C241.2 156.2 249.0 153.8 257.0 153.0 C265.0 152.2 275.0 153.4 285.0 154.4 C295.0 155.4 307.0 157.4 317.0 159.0 C327.0 160.6 335.3 162.2 345.0 164.0 C354.7 165.8 365.0 168.0 375.0 170.0 C385.0 172.0 395.0 173.8 405.0 176.0 C415.0 178.2 425.0 180.3 435.0 183.0 C445.0 185.7 457.3 189.5 465.0 192.0 C472.7 194.5 477.3 196.2 481.0 198.0 C484.7 199.8 487.4 201.2 487.4 203.0 C487.4 204.8 486.4 206.5 481.0 209.0 C475.6 211.5 464.3 215.2 455.0 218.0 C445.7 220.8 435.0 223.7 425.0 226.0 C415.0 228.3 405.0 230.2 395.0 232.0 C385.0 233.8 375.0 235.5 365.0 237.0 C355.0 238.5 345.0 240.0 335.0 241.0 C325.0 242.0 315.0 242.8 305.0 243.0 C295.0 243.2 284.0 243.8 275.0 242.0 C266.0 240.2 257.0 236.0 251.0 232.0 C245.0 228.0 242.0 223.7 239.0 218.0 C236.0 212.3 234.2 206.0 233.0 198.0 C231.8 190.0 231.3 176.5 232.0 170.0 Z" fill="#0000ef"/>
<path d="M238.0 176.0 C238.8 172.2 239.5 171.0 242.0 169.0 C244.5 167.0 245.8 164.7 253.0 164.0 C260.2 163.3 274.3 164.2 285.0 165.0 C295.7 165.8 307.0 167.3 317.0 169.0 C327.0 170.7 335.3 172.8 345.0 175.0 C354.7 177.2 365.0 179.5 375.0 182.0 C385.0 184.5 396.7 187.7 405.0 190.0 C413.3 192.3 419.6 193.7 425.0 196.0 C430.4 198.3 437.4 201.5 437.4 204.0 C437.4 206.5 432.1 209.0 425.0 211.0 C417.9 213.0 405.0 214.2 395.0 216.0 C385.0 217.8 375.0 220.3 365.0 222.0 C355.0 223.7 345.0 224.8 335.0 226.0 C325.0 227.2 313.3 228.5 305.0 229.0 C296.7 229.5 291.7 229.3 285.0 229.0 C278.3 228.7 271.0 228.5 265.0 227.0 C259.0 225.5 253.0 223.2 249.0 220.0 C245.0 216.8 243.0 212.7 241.0 208.0 C239.0 203.3 237.5 197.3 237.0 192.0 C236.5 186.7 237.2 179.8 238.0 176.0 Z" fill="#0000bf"/>
<path d="M244.0 192.0 C243.7 188.7 245.2 186.5 247.0 184.0 C248.8 181.5 252.3 178.5 255.0 177.0 C257.7 175.5 258.0 175.0 263.0 175.0 C268.0 175.0 278.0 176.2 285.0 177.0 C292.0 177.8 298.3 178.7 305.0 180.0 C311.7 181.3 319.0 183.2 325.0 185.0 C331.0 186.8 337.3 189.0 341.0 191.0 C344.7 193.0 345.0 196.0 347.0 197.0 C349.0 198.0 351.0 196.5 353.0 197.0 C355.0 197.5 359.0 199.1 359.0 200.0 C359.0 200.9 355.3 201.7 353.0 202.4 C350.7 203.1 349.7 202.7 345.0 204.0 C340.3 205.3 332.3 208.3 325.0 210.0 C317.7 211.7 308.7 212.8 301.0 214.0 C293.3 215.2 286.0 217.2 279.0 217.0 C272.0 216.8 264.0 215.2 259.0 213.0 C254.0 210.8 251.5 207.5 249.0 204.0 C246.5 200.5 244.3 195.3 244.0 192.0 Z" fill="#ffffff"/>
<path d="M214.3 303.3 C217.2 294.1 226.3 301.4 231.7 301.3 C237.0 301.2 243.4 301.2 246.3 302.7 C249.2 304.1 248.1 307.2 249.0 310.0 C249.9 312.8 250.1 316.4 251.7 319.3 C253.2 322.2 256.3 324.7 258.3 327.3 C260.3 330.0 262.4 332.2 263.7 335.3 C264.9 338.4 265.0 342.9 265.7 346.0 C266.3 349.1 268.9 352.2 267.7 354.0 C266.4 355.8 261.4 355.6 258.3 356.7 C255.2 357.8 251.4 358.9 249.0 360.7 C246.6 362.4 245.7 366.7 243.7 367.3 C241.7 368.0 239.4 366.7 237.0 364.7 C234.6 362.7 231.7 357.3 229.0 355.3 C226.3 353.3 223.4 352.4 221.0 352.7 C218.6 352.9 215.4 364.9 214.3 356.7 C213.2 348.4 211.4 312.6 214.3 303.3 Z" fill="#008fff"/>
<path d="M214.3 329.3 C217.2 324.2 226.6 325.4 231.7 325.3 C236.8 325.2 241.8 326.8 245.0 328.7 C248.2 330.6 250.1 334.2 251.0 336.7 C251.9 339.1 252.0 341.3 250.3 343.3 C248.7 345.3 242.1 346.7 241.0 348.7 C239.9 350.7 243.0 352.9 243.7 355.3 C244.3 357.8 245.9 362.0 245.0 363.3 C244.1 364.7 240.6 364.4 238.3 363.3 C236.1 362.2 233.9 358.3 231.7 356.7 C229.4 355.0 227.9 353.4 225.0 353.3 C222.1 353.2 216.1 360.0 214.3 356.0 C212.6 352.0 211.4 334.4 214.3 329.3 Z" fill="#0050ff"/>
<path d="M226.3 346.3 C226.6 345.8 228.0 344.9 228.7 344.9 C229.4 345.0 230.6 346.1 230.6 346.7 C230.6 347.2 229.6 348.2 229.0 348.4 C228.4 348.6 227.4 348.4 227.0 348.0 C226.6 347.6 226.0 346.8 226.3 346.3 Z" fill="#0020ff"/>
<path d="M594.1 94.7 C592.0 95.2 638.2 95.7 647.7 97.6 C657.1 99.4 649.8 102.3 650.8 105.8 C651.9 109.2 652.4 116.3 654.0 118.4 C655.6 120.5 659.2 122.3 660.3 118.4 C661.3 114.4 671.3 98.7 660.3 94.7 C649.2 90.8 596.2 94.3 594.1 94.7 Z" fill="#efff10"/>
<path d="M214.3 423.3 C213.6 413.6 214.2 375.7 214.6 364.7 C215.0 353.7 215.8 359.4 217.0 357.3 C218.2 355.3 220.0 353.4 221.7 352.4 C223.3 351.4 225.2 350.9 227.0 351.6 C228.8 352.3 230.6 354.4 232.3 356.7 C234.1 359.0 235.9 362.8 237.7 365.3 C239.4 367.9 241.6 370.9 243.0 372.0 C244.4 373.1 245.0 373.1 246.3 372.0 C247.7 370.9 249.3 367.5 251.0 365.3 C252.7 363.2 254.4 360.2 256.3 359.1 C258.2 358.0 260.4 358.0 262.3 358.7 C264.2 359.4 265.7 361.9 267.7 363.3 C269.7 364.8 271.9 366.3 274.3 367.3 C276.8 368.3 281.0 368.1 282.3 369.3 C283.7 370.6 283.7 373.6 282.3 374.7 C281.0 375.8 276.8 375.9 274.3 376.0 C271.9 376.1 269.7 376.2 267.7 375.3 C265.7 374.4 263.9 371.6 262.3 370.7 C260.8 369.8 259.7 369.2 258.3 370.0 C257.0 370.8 255.9 373.3 254.3 375.3 C252.8 377.3 251.0 380.7 249.0 382.0 C247.0 383.3 244.4 383.9 242.3 383.3 C240.2 382.8 238.2 381.0 236.3 378.7 C234.4 376.3 232.7 371.9 231.0 369.3 C229.3 366.8 227.7 364.2 226.3 363.3 C225.0 362.4 224.0 362.9 223.0 364.0 C222.0 365.1 221.0 366.8 220.5 370.0 C220.0 373.2 220.2 374.4 219.9 383.3 C219.7 392.2 219.9 416.7 219.0 423.3 C218.1 430.0 215.1 433.1 214.3 423.3 Z" fill="#000" stroke="none"/>
<path d="M279.7 368.0 C282.8 366.2 291.9 367.3 298.3 367.3 C304.8 367.4 311.7 367.8 318.3 368.4 C325.0 369.0 332.8 369.8 338.3 370.7 C343.9 371.5 351.7 372.4 351.7 373.3 C351.7 374.3 343.9 375.4 338.3 376.4 C332.8 377.4 325.0 378.4 318.3 379.1 C311.7 379.7 304.8 380.6 298.3 380.4 C291.9 380.2 282.8 380.1 279.7 378.0 C276.6 375.9 276.6 369.8 279.7 368.0 Z" fill="#000" fill-opacity="0.45" stroke="none"/>
<path d="M215.0 364.0 L218.6 372.0 L218.6 420.0 L217.8 460.0 L216.6 480.0 L215.0 480.0 Z" fill="#000" stroke="none"/>
</g>
<path d="M214.5 531.5 H655.7" stroke="#000" stroke-width="2" fill="none"/>
<path d="M654.5 96.5 V531.5" stroke="#000" stroke-width="1.2" fill="none"/>
<text x="433.8" y="76.6" text-anchor="middle" textLength="650.0" lengthAdjust="spacing" style="font-size:21.4px">expt_99.9 - MEAN (MEAN y51-y100) - THICKNESS LAYER 1+2+3</text>
<text x="215.3" y="562.8" text-anchor="middle">0</text><text x="288.6" y="562.8" text-anchor="middle">10</text><text x="361.8" y="562.8" text-anchor="middle">20</text><text x="435.1" y="562.8" text-anchor="middle">30</text><text x="508.3" y="562.8" text-anchor="middle">40</text><text x="581.5" y="562.8" text-anchor="middle">50</text>
<text x="208.3" y="540.5" text-anchor="end">15</text><text x="208.3" y="486.1" text-anchor="end">20</text><text x="208.3" y="431.8" text-anchor="end">25</text><text x="208.3" y="377.4" text-anchor="end">30</text><text x="208.3" y="323.0" text-anchor="end">35</text><text x="208.3" y="268.6" text-anchor="end">40</text><text x="208.3" y="214.2" text-anchor="end">45</text><text x="208.3" y="159.9" text-anchor="end">50</text>
<text x="434.6" y="594.2" text-anchor="middle" textLength="162.5" lengthAdjust="spacing" style="font-size:22.8px">LONGITUDE (E)</text>
<text transform="translate(169.9,315.7) rotate(-90)" text-anchor="middle" textLength="143.5" lengthAdjust="spacing" style="font-size:22.8px">LATITUDE (N)</text>
<rect x="687.5" y="97.20" width="42.0" height="7.61" fill="#800000" shape-rendering="crispEdges"/><rect x="687.5" y="104.01" width="42.0" height="7.61" fill="#8f0000" shape-rendering="crispEdges"/><rect x="687.5" y="110.82" width="42.0" height="7.61" fill="#9f0000" shape-rendering="crispEdges"/><rect x="687.5" y="117.63" width="42.0" height="7.61" fill="#af0000" shape-rendering="crispEdges"/><rect x="687.5" y="124.44" width="42.0" height="7.61" fill="#bf0000" shape-rendering="crispEdges"/><rect x="687.5" y="131.25" width="42.0" height="7.61" fill="#cf0000" shape-rendering="crispEdges"/><rect x="687.5" y="138.06" width="42.0" height="7.61" fill="#df0000" shape-rendering="crispEdges"/><rect x="687.5" y="144.87" width="42.0" height="7.61" fill="#ef0000" shape-rendering="crispEdges"/><rect x="687.5" y="151.68" width="42.0" height="7.61" fill="#ff0000" shape-rendering="crispEdges"/><rect x="687.5" y="158.48" width="42.0" height="7.61" fill="#ff1000" shape-rendering="crispEdges"/><rect x="687.5" y="165.29" width="42.0" height="7.61" fill="#ff2000" shape-rendering="crispEdges"/><rect x="687.5" y="172.10" width="42.0" height="7.61" fill="#ff3000" shape-rendering="crispEdges"/><rect x="687.5" y="178.91" width="42.0" height="7.61" fill="#ff4000" shape-rendering="crispEdges"/><rect x="687.5" y="185.72" width="42.0" height="7.61" fill="#ff5000" shape-rendering="crispEdges"/><rect x="687.5" y="192.53" width="42.0" height="7.61" fill="#ff6000" shape-rendering="crispEdges"/><rect x="687.5" y="199.34" width="42.0" height="7.61" fill="#ff7000" shape-rendering="crispEdges"/><rect x="687.5" y="206.15" width="42.0" height="7.61" fill="#ff8000" shape-rendering="crispEdges"/><rect x="687.5" y="212.96" width="42.0" height="7.61" fill="#ff8f00" shape-rendering="crispEdges"/><rect x="687.5" y="219.77" width="42.0" height="7.61" fill="#ff9f00" shape-rendering="crispEdges"/><rect x="687.5" y="226.58" width="42.0" height="7.61" fill="#ffaf00" shape-rendering="crispEdges"/><rect x="687.5" y="233.39" width="42.0" height="7.61" fill="#ffbf00" shape-rendering="crispEdges"/><rect x="687.5" y="240.20" width="42.0" height="7.61" fill="#ffcf00" shape-rendering="crispEdges"/><rect x="687.5" y="247.01" width="42.0" height="7.61" fill="#ffdf00" shape-rendering="crispEdges"/><rect x="687.5" y="253.82" width="42.0" height="7.61" fill="#ffef00" shape-rendering="crispEdges"/><rect x="687.5" y="260.62" width="42.0" height="7.61" fill="#ffff00" shape-rendering="crispEdges"/><rect x="687.5" y="267.43" width="42.0" height="7.61" fill="#efff10" shape-rendering="crispEdges"/><rect x="687.5" y="274.24" width="42.0" height="7.61" fill="#dfff20" shape-rendering="crispEdges"/><rect x="687.5" y="281.05" width="42.0" height="7.61" fill="#cfff30" shape-rendering="crispEdges"/><rect x="687.5" y="287.86" width="42.0" height="7.61" fill="#bfff40" shape-rendering="crispEdges"/><rect x="687.5" y="294.67" width="42.0" height="7.61" fill="#afff50" shape-rendering="crispEdges"/><rect x="687.5" y="301.48" width="42.0" height="7.61" fill="#9fff60" shape-rendering="crispEdges"/><rect x="687.5" y="308.29" width="42.0" height="7.61" fill="#8fff70" shape-rendering="crispEdges"/><rect x="687.5" y="315.10" width="42.0" height="7.61" fill="#80ff80" shape-rendering="crispEdges"/><rect x="687.5" y="321.91" width="42.0" height="7.61" fill="#70ff8f" shape-rendering="crispEdges"/><rect x="687.5" y="328.72" width="42.0" height="7.61" fill="#60ff9f" shape-rendering="crispEdges"/><rect x="687.5" y="335.53" width="42.0" height="7.61" fill="#50ffaf" shape-rendering="crispEdges"/><rect x="687.5" y="342.34" width="42.0" height="7.61" fill="#40ffbf" shape-rendering="crispEdges"/><rect x="687.5" y="349.15" width="42.0" height="7.61" fill="#30ffcf" shape-rendering="crispEdges"/><rect x="687.5" y="355.96" width="42.0" height="7.61" fill="#20ffdf" shape-rendering="crispEdges"/><rect x="687.5" y="362.77" width="42.0" height="7.61" fill="#10ffef" shape-rendering="crispEdges"/><rect x="687.5" y="369.57" width="42.0" height="7.61" fill="#00ffff" shape-rendering="crispEdges"/><rect x="687.5" y="376.38" width="42.0" height="7.61" fill="#00efff" shape-rendering="crispEdges"/><rect x="687.5" y="383.19" width="42.0" height="7.61" fill="#00dfff" shape-rendering="crispEdges"/><rect x="687.5" y="390.00" width="42.0" height="7.61" fill="#00cfff" shape-rendering="crispEdges"/><rect x="687.5" y="396.81" width="42.0" height="7.61" fill="#00bfff" shape-rendering="crispEdges"/><rect x="687.5" y="403.62" width="42.0" height="7.61" fill="#00afff" shape-rendering="crispEdges"/><rect x="687.5" y="410.43" width="42.0" height="7.61" fill="#009fff" shape-rendering="crispEdges"/><rect x="687.5" y="417.24" width="42.0" height="7.61" fill="#008fff" shape-rendering="crispEdges"/><rect x="687.5" y="424.05" width="42.0" height="7.61" fill="#0080ff" shape-rendering="crispEdges"/><rect x="687.5" y="430.86" width="42.0" height="7.61" fill="#0070ff" shape-rendering="crispEdges"/><rect x="687.5" y="437.67" width="42.0" height="7.61" fill="#0060ff" shape-rendering="crispEdges"/><rect x="687.5" y="444.48" width="42.0" height="7.61" fill="#0050ff" shape-rendering="crispEdges"/><rect x="687.5" y="451.29" width="42.0" height="7.61" fill="#0040ff" shape-rendering="crispEdges"/><rect x="687.5" y="458.10" width="42.0" height="7.61" fill="#0030ff" shape-rendering="crispEdges"/><rect x="687.5" y="464.91" width="42.0" height="7.61" fill="#0020ff" shape-rendering="crispEdges"/><rect x="687.5" y="471.72" width="42.0" height="7.61" fill="#0010ff" shape-rendering="crispEdges"/><rect x="687.5" y="478.52" width="42.0" height="7.61" fill="#0000ff" shape-rendering="crispEdges"/><rect x="687.5" y="485.33" width="42.0" height="7.61" fill="#0000ef" shape-rendering="crispEdges"/><rect x="687.5" y="492.14" width="42.0" height="7.61" fill="#0000df" shape-rendering="crispEdges"/><rect x="687.5" y="498.95" width="42.0" height="7.61" fill="#0000cf" shape-rendering="crispEdges"/><rect x="687.5" y="505.76" width="42.0" height="7.61" fill="#0000bf" shape-rendering="crispEdges"/><rect x="687.5" y="512.57" width="42.0" height="7.61" fill="#0000af" shape-rendering="crispEdges"/><rect x="687.5" y="519.38" width="42.0" height="7.61" fill="#00009f" shape-rendering="crispEdges"/><rect x="687.5" y="526.19" width="42.0" height="7.61" fill="#00008f" shape-rendering="crispEdges"/>
<rect x="687.5" y="97.2" width="42.0" height="435.8" fill="none" stroke="#000" stroke-width="1.2"/>
<path d="M687.5 179.9 h4.5 M729.5 179.9 h-4.5" stroke="#000" stroke-width="0.9"/><text x="735.8" y="190.0">600</text><path d="M687.5 275.4 h4.5 M729.5 275.4 h-4.5" stroke="#000" stroke-width="0.9"/><text x="735.8" y="285.5">500</text><path d="M687.5 371.0 h4.5 M729.5 371.0 h-4.5" stroke="#000" stroke-width="0.9"/><text x="735.8" y="381.1">400</text><path d="M687.5 466.6 h4.5 M729.5 466.6 h-4.5" stroke="#000" stroke-width="0.9"/><text x="735.8" y="476.7">300</text>
</g>
<g transform="translate(0,604)">
<clipPath id="c_p3"><rect x="215.0" y="96.5" width="439.5" height="435.0"/></clipPath>
<rect x="215.0" y="96.5" width="439.5" height="435.0" fill="#fff" stroke="#000" stroke-width="1.2"/>
<g clip-path="url(#c_p3)" stroke="#000" stroke-width="1.2" stroke-linejoin="round">
<rect x="215.0" y="96.5" width="439.5" height="435.0" fill="#008fff" stroke="none"/>
<path d="M391.7 72.7 C391.7 76.8 386.1 92.8 391.7 97.3 C397.2 101.9 409.7 100.0 425.0 100.0 C440.3 100.0 463.8 97.6 483.2 97.3 C502.6 96.9 522.0 97.4 541.4 98.0 C560.8 98.6 585.0 99.6 599.5 100.9 C614.1 102.2 620.9 103.5 628.6 106.0 C636.4 108.5 641.9 111.6 646.1 116.2 C650.3 120.8 652.4 123.5 653.7 133.6 C654.9 143.8 653.7 165.2 653.4 177.3 C653.1 189.4 652.6 196.7 651.9 206.4 C651.2 216.1 650.5 225.8 649.0 235.5 C647.5 245.2 645.6 257.8 643.2 264.5 C640.8 271.3 637.6 272.4 634.5 276.0 C631.3 279.6 627.7 282.5 624.3 286.2 C620.9 289.8 617.8 293.7 614.1 297.8 C610.3 301.9 604.2 307.5 601.7 310.9 C599.3 314.3 600.4 315.5 599.5 318.2 C598.7 320.8 599.1 323.5 596.6 326.9 C594.2 330.3 590.6 335.2 585.0 338.5 C579.4 341.9 570.5 345.5 563.2 347.3 C555.9 349.1 549.8 348.7 541.4 349.5 C532.9 350.2 522.0 350.8 512.3 351.6 C502.6 352.5 492.9 353.3 483.2 354.5 C473.5 355.8 463.8 357.1 454.1 358.9 C444.4 360.7 433.2 364.2 425.0 365.5 C416.8 366.7 412.8 365.6 405.0 366.7 C397.2 367.8 387.2 370.2 378.3 372.0 C369.4 373.8 360.6 375.8 351.7 377.3 C342.8 378.9 333.9 380.6 325.0 381.3 C316.1 382.1 304.6 382.2 298.3 382.0 C292.1 381.8 291.7 379.7 287.7 380.0 C283.7 380.3 278.1 383.6 274.3 384.0 C270.6 384.4 267.7 383.6 265.0 382.7 C262.3 381.8 261.0 378.9 258.3 378.7 C255.7 378.4 252.3 380.3 249.0 381.3 C245.7 382.3 241.4 383.6 238.3 384.7 C235.2 385.8 232.6 387.9 230.3 388.0 C228.1 388.1 226.8 386.3 225.0 385.3 C223.2 384.3 220.8 384.1 219.7 382.0 C218.6 379.9 218.4 375.3 218.3 372.7 C218.2 370.0 219.9 367.3 219.0 366.0 C218.1 364.7 214.0 364.9 213.0 364.7 L190.0 364.7 L190.0 71.5 L391.7 71.5 Z" fill="#00bfff"/>
<path d="M672.3 348.7 C670.3 349.2 663.7 350.2 660.6 351.6 C657.6 353.1 655.3 354.3 654.1 357.5 C652.9 360.6 653.8 366.2 653.4 370.5 C652.9 374.9 652.2 378.8 651.2 383.6 C650.2 388.5 648.9 394.3 647.5 399.6 C646.2 405.0 644.2 411.0 643.2 415.6 C642.2 420.2 643.2 423.6 641.7 427.3 C640.3 430.9 636.6 433.6 634.5 437.5 C632.3 441.3 630.0 447.2 628.6 450.5 C627.3 453.9 626.3 455.4 626.4 457.8 C626.5 460.2 630.9 461.1 629.0 465.0 C627.1 468.9 619.0 476.0 615.0 481.0 C611.0 486.0 609.0 491.3 605.0 495.0 C601.0 498.7 599.0 501.0 591.0 503.0 C583.0 505.0 563.0 505.7 557.0 507.0 C551.0 508.3 552.0 509.3 555.0 511.0 C558.0 512.7 565.0 515.5 575.0 517.0 C585.0 518.5 607.7 518.8 615.0 520.0 C622.3 521.2 619.7 522.8 619.0 524.0 C618.3 525.2 625.0 526.2 611.0 527.0 C597.0 527.8 551.0 527.7 535.0 529.0 C519.0 530.3 519.0 532.3 515.0 535.0 C511.0 537.7 511.7 543.3 511.0 545.0 L679.5 556.5 L679.5 348.7 Z" fill="#00bfff"/>
<path d="M365.0 72.7 C365.0 76.9 360.6 93.3 365.0 98.0 C369.4 102.7 381.7 99.6 391.7 100.7 C401.7 101.8 409.7 104.4 425.0 104.7 C440.3 104.9 463.8 102.4 483.2 102.4 C502.6 102.3 522.0 103.0 541.4 104.5 C560.8 106.1 585.0 109.0 599.5 111.8 C614.1 114.6 621.1 116.4 628.6 121.3 C636.2 126.1 641.1 134.5 644.6 140.9 C648.2 147.3 649.0 151.3 649.7 159.8 C650.5 168.3 649.8 181.6 649.0 191.8 C648.2 202.0 646.3 212.4 644.6 220.9 C642.9 229.4 641.0 235.5 638.8 242.7 C636.6 250.0 634.7 259.0 631.5 264.5 C628.4 270.1 624.0 271.9 619.9 276.0 C615.8 280.1 611.4 285.2 606.8 289.1 C602.2 293.0 597.6 295.9 592.3 299.3 C586.9 302.7 578.2 306.5 574.8 309.5 C571.4 312.4 573.8 313.3 571.9 316.7 C570.0 320.1 568.3 325.7 563.2 329.8 C558.1 333.9 549.8 338.8 541.4 341.5 C532.9 344.1 522.0 344.8 512.3 345.8 C502.6 346.8 492.9 346.3 483.2 347.3 C473.5 348.2 463.8 349.9 454.1 351.6 C444.4 353.3 433.2 355.9 425.0 357.5 C416.8 359.0 412.8 359.2 405.0 360.7 C397.2 362.1 387.2 364.2 378.3 366.0 C369.4 367.8 360.6 369.7 351.7 371.3 C342.8 373.0 333.9 375.0 325.0 376.0 C316.1 377.0 304.6 377.3 298.3 377.3 C292.1 377.3 292.1 376.2 287.7 376.0 C283.2 375.8 275.7 376.8 271.7 376.0 C267.7 375.2 265.9 372.3 263.7 371.3 C261.4 370.3 261.4 369.3 258.3 370.0 C255.2 370.7 248.4 375.1 245.0 375.6 C241.6 376.1 239.9 374.8 237.7 372.9 C235.4 371.1 233.8 367.0 231.7 364.7 C229.6 362.4 227.2 359.4 225.0 359.1 C222.8 358.7 220.3 362.0 218.3 362.7 C216.3 363.4 213.9 363.2 213.0 363.3 L190.0 363.3 L190.0 71.5 L365.0 71.5 Z" fill="#00efff"/>
<path d="M338.3 72.7 C338.3 77.1 331.7 94.1 338.3 99.3 C345.0 104.6 363.9 102.4 378.3 104.0 C392.8 105.6 407.5 108.2 425.0 108.7 C442.5 109.1 463.8 106.4 483.2 106.7 C502.6 107.0 522.0 107.9 541.4 110.4 C560.8 112.8 585.0 117.2 599.5 121.3 C614.1 125.4 622.1 129.4 628.6 135.1 C635.2 140.8 636.6 149.4 638.8 155.5 C641.0 161.5 641.5 164.2 641.7 171.5 C642.0 178.7 641.5 190.8 640.3 199.1 C639.1 207.3 636.4 214.1 634.5 220.9 C632.5 227.7 631.1 233.8 628.6 239.8 C626.2 245.9 623.1 251.2 619.9 257.3 C616.8 263.3 611.9 271.9 609.7 276.0 C607.5 280.1 609.7 279.2 606.8 281.8 C603.9 284.5 598.3 288.8 592.3 292.0 C586.2 295.2 578.2 298.1 570.5 300.7 C562.7 303.4 550.6 305.8 545.7 308.0 C540.9 310.2 543.3 311.4 541.4 313.8 C539.4 316.2 538.9 319.2 534.1 322.5 C529.2 325.9 520.8 331.5 512.3 334.2 C503.8 336.8 492.9 337.1 483.2 338.5 C473.5 340.0 463.8 341.2 454.1 342.9 C444.4 344.6 435.4 346.5 425.0 348.7 C414.6 350.9 401.7 353.8 391.7 356.0 C381.7 358.2 373.9 359.9 365.0 362.0 C356.1 364.1 345.0 367.1 338.3 368.7 C331.7 370.2 331.7 370.6 325.0 371.3 C318.3 372.1 305.0 373.2 298.3 373.3 C291.7 373.4 289.2 372.1 285.0 372.0 C280.8 371.9 276.3 373.4 273.0 372.7 C269.7 371.9 267.4 368.3 265.0 367.3 C262.6 366.3 261.7 365.6 258.3 366.7 C255.0 367.8 248.3 373.1 245.0 374.0 C241.7 374.9 240.6 373.8 238.3 372.0 C236.1 370.2 233.9 365.7 231.7 363.3 C229.4 361.0 227.2 358.3 225.0 358.0 C222.8 357.7 220.3 361.0 218.3 361.7 C216.3 362.5 213.9 362.5 213.0 362.7 L190.0 362.7 L190.0 71.5 L338.3 71.5 Z" fill="#20ffdf"/>
<path d="M298.3 72.7 C298.3 76.9 291.7 93.0 298.3 98.0 C305.0 103.0 325.0 101.0 338.3 102.7 C351.7 104.3 363.9 106.2 378.3 108.0 C392.8 109.8 407.5 112.7 425.0 113.3 C442.5 114.0 463.8 111.3 483.2 111.8 C502.6 112.3 522.0 113.3 541.4 116.2 C560.8 119.1 585.0 123.5 599.5 129.3 C614.1 135.1 623.1 144.1 628.6 151.1 C634.2 158.1 632.5 163.5 633.0 171.5 C633.5 179.5 632.8 191.3 631.5 199.1 C630.3 206.8 627.9 211.9 625.7 218.0 C623.5 224.1 621.1 230.1 618.5 235.5 C615.8 240.8 612.9 243.2 609.7 250.0 C606.6 256.8 602.5 270.7 599.5 276.0 C596.6 281.3 597.1 279.5 592.3 281.8 C587.4 284.1 577.7 287.3 570.5 289.8 C563.2 292.4 556.4 294.8 548.6 297.1 C540.9 299.4 529.5 301.6 523.9 303.6 C518.3 305.7 519.5 306.4 515.2 309.5 C510.8 312.5 504.3 318.1 497.7 321.8 C491.2 325.6 483.2 329.8 475.9 332.0 C468.6 334.2 462.6 333.8 454.1 334.9 C445.6 336.0 435.4 336.4 425.0 338.5 C414.6 340.7 401.7 345.3 391.7 348.0 C381.7 350.7 373.9 352.4 365.0 354.7 C356.1 356.9 347.2 359.0 338.3 361.3 C329.4 363.7 320.6 367.4 311.7 368.7 C302.8 369.9 291.0 368.3 285.0 368.7 C279.0 369.0 279.0 371.3 275.7 370.7 C272.3 370.0 267.9 365.8 265.0 364.7 C262.1 363.6 261.7 362.7 258.3 364.0 C255.0 365.3 248.2 371.5 245.0 372.7 C241.8 373.8 241.2 372.8 239.0 371.1 C236.8 369.3 234.0 364.6 231.7 362.3 C229.3 359.9 227.2 357.2 225.0 356.9 C222.8 356.7 220.3 360.1 218.3 360.9 C216.3 361.8 213.9 361.8 213.0 362.0 L190.0 362.0 L190.0 71.5 L298.3 71.5 Z" fill="#50ffaf"/>
<path d="M271.7 72.7 C271.7 76.8 267.2 92.7 271.7 97.3 C276.1 102.0 287.2 99.2 298.3 100.7 C309.4 102.1 325.0 104.1 338.3 106.0 C351.7 107.9 363.9 110.1 378.3 112.0 C392.8 113.9 407.5 116.4 425.0 117.3 C442.5 118.3 463.8 116.9 483.2 117.6 C502.6 118.4 522.0 118.6 541.4 122.0 C560.8 125.4 586.5 131.7 599.5 138.0 C612.6 144.3 615.8 153.5 619.9 159.8 C624.0 166.1 623.8 169.3 624.3 175.8 C624.8 182.4 624.3 192.1 622.8 199.1 C621.4 206.1 618.0 212.4 615.5 218.0 C613.1 223.6 611.2 228.2 608.3 232.5 C605.4 236.9 601.2 240.1 598.1 244.2 C594.9 248.3 591.5 252.0 589.4 257.3 C587.2 262.6 586.9 272.4 585.0 276.0 C583.1 279.6 582.6 277.5 577.7 278.9 C572.9 280.4 564.4 282.4 555.9 284.7 C547.4 287.0 536.0 290.5 526.8 292.7 C517.6 294.9 507.4 295.4 500.6 297.8 C493.8 300.2 491.4 303.9 486.1 307.3 C480.8 310.7 475.2 314.9 468.6 318.2 C462.1 321.5 454.1 324.8 446.8 326.9 C439.5 329.0 434.2 329.1 425.0 330.5 C415.8 331.9 401.7 333.4 391.7 335.3 C381.7 337.2 373.9 339.8 365.0 342.0 C356.1 344.2 348.1 346.6 338.3 348.7 C328.6 350.8 312.6 352.7 306.3 354.7 C300.1 356.7 304.1 359.4 301.0 360.7 C297.9 361.9 291.9 360.8 287.7 362.0 C283.4 363.2 279.4 368.0 275.7 368.0 C271.9 368.0 268.1 363.1 265.0 362.0 C261.9 360.9 259.2 360.7 257.0 361.3 C254.8 362.0 253.7 364.3 251.7 366.0 C249.7 367.7 247.0 370.7 245.0 371.3 C243.0 372.0 241.9 371.7 239.7 370.0 C237.4 368.3 234.1 363.7 231.7 361.3 C229.2 359.0 227.2 356.2 225.0 356.0 C222.8 355.8 220.3 359.5 218.3 360.4 C216.3 361.3 213.9 361.2 213.0 361.3 L190.0 361.3 L190.0 71.5 L271.7 71.5 Z" fill="#8fff70"/>
<path d="M216.3 72.7 C216.4 76.9 212.2 93.7 217.0 98.0 C221.8 102.3 236.3 98.4 245.0 98.7 C253.7 98.9 260.1 98.6 269.0 99.3 C277.9 100.1 286.8 101.6 298.3 103.3 C309.9 105.1 326.1 108.1 338.3 110.0 C350.6 111.9 357.2 112.8 371.7 114.7 C386.1 116.6 406.4 120.0 425.0 121.3 C443.6 122.7 463.8 121.5 483.2 122.7 C502.6 123.9 522.0 124.3 541.4 128.5 C560.8 132.8 587.7 142.5 599.5 148.2 C611.4 153.9 610.1 157.9 612.6 162.7 C615.2 167.6 614.7 171.0 614.8 177.3 C614.9 183.6 614.9 193.8 613.4 200.5 C611.8 207.3 608.2 213.2 605.4 218.0 C602.6 222.8 599.5 226.2 596.6 229.6 C593.7 233.0 590.8 234.2 587.9 238.4 C585.0 242.5 583.3 248.1 579.2 254.4 C575.1 260.6 567.1 272.2 563.2 276.0 C559.3 279.8 562.0 276.0 555.9 277.5 C549.8 278.9 536.5 282.3 526.8 284.7 C517.1 287.2 506.2 290.2 497.7 292.0 C489.2 293.8 482.0 293.3 475.9 295.6 C469.8 297.9 466.7 302.9 461.4 305.8 C456.0 308.7 450.0 311.0 443.9 313.1 C437.8 315.2 435.9 316.0 425.0 318.2 C414.1 320.3 388.3 324.3 378.3 326.0 C368.3 327.7 371.7 327.3 365.0 328.7 C358.3 330.0 347.2 332.0 338.3 334.0 C329.4 336.0 322.3 338.6 311.7 340.7 C301.0 342.8 281.2 345.3 274.3 346.7 C267.4 348.0 271.4 347.3 270.3 348.7 C269.2 350.0 270.3 353.4 267.7 354.7 C265.0 355.9 257.2 354.3 254.3 356.0 C251.4 357.7 252.1 362.3 250.3 364.7 C248.6 367.0 245.7 369.6 243.7 370.0 C241.7 370.4 240.3 369.1 238.3 367.3 C236.3 365.6 233.9 361.4 231.7 359.3 C229.4 357.2 227.2 354.7 225.0 354.7 C222.8 354.7 220.3 358.3 218.3 359.3 C216.3 360.3 213.9 360.4 213.0 360.7 L190.0 360.7 L190.0 71.5 L216.3 71.5 Z" fill="#bfff40"/>
<path d="M191.7 123.3 C195.7 122.9 211.0 121.9 215.7 120.7 C220.3 119.4 217.0 117.8 219.7 116.0 C222.3 114.2 226.3 111.4 231.7 110.0 C237.0 108.6 245.0 107.8 251.7 107.3 C258.3 106.9 263.9 106.8 271.7 107.3 C279.4 107.9 287.2 109.1 298.3 110.7 C309.4 112.2 325.0 114.9 338.3 116.7 C351.7 118.4 363.9 119.9 378.3 121.3 C392.8 122.8 407.5 124.1 425.0 125.3 C442.5 126.5 463.8 127.0 483.2 128.5 C502.6 130.1 526.8 131.6 541.4 134.4 C555.9 137.2 560.8 140.3 570.5 145.3 C580.2 150.2 593.7 157.9 599.5 164.2 C605.4 170.5 604.8 176.5 605.4 183.1 C606.0 189.6 604.9 197.9 603.2 203.5 C601.5 209.0 598.2 212.4 595.2 216.5 C592.2 220.7 588.4 225.0 585.0 228.2 C581.6 231.3 578.2 232.1 574.8 235.5 C571.4 238.8 569.0 243.7 564.6 248.5 C560.3 253.4 554.9 260.0 548.6 264.5 C542.3 269.1 532.9 273.7 526.8 276.0 C520.8 278.3 519.5 277.0 512.3 278.2 C505.0 279.4 491.7 281.9 483.2 283.3 C474.7 284.6 468.6 284.2 461.4 286.2 C454.1 288.1 445.6 292.1 439.5 294.9 C433.5 297.7 437.4 299.6 425.0 302.9 C412.6 306.3 383.3 311.8 365.0 315.0 C346.7 318.2 330.6 318.8 315.0 322.0 C299.4 325.2 285.3 330.6 271.7 334.0 C258.0 337.4 239.3 340.0 233.0 342.7 C226.7 345.3 233.0 347.0 233.7 350.0 C234.3 353.0 237.2 359.3 237.0 360.7 C236.8 362.0 234.1 359.2 232.3 358.0 C230.6 356.8 228.2 353.9 226.3 353.3 C224.4 352.8 222.4 353.4 221.0 354.7 C219.6 355.9 222.6 359.4 217.7 360.7 C212.8 361.9 196.0 361.8 191.7 362.0 Z" fill="#efff10"/>
<path d="M225.0 150.0 C225.2 145.6 225.7 142.7 227.0 139.3 C228.3 136.0 230.7 132.9 233.0 130.0 C235.3 127.1 237.9 123.9 241.0 122.0 C244.1 120.1 246.6 119.3 251.7 118.7 C256.8 118.0 263.9 117.7 271.7 118.0 C279.4 118.3 287.2 119.7 298.3 120.7 C309.4 121.7 325.0 122.8 338.3 124.0 C351.7 125.2 363.9 126.8 378.3 128.0 C392.8 129.2 407.5 130.4 425.0 131.3 C442.5 132.3 463.8 132.0 483.2 133.6 C502.6 135.2 525.6 137.3 541.4 140.9 C557.1 144.5 569.5 150.6 577.7 155.5 C586.0 160.3 588.0 165.4 590.8 170.0 C593.6 174.6 594.0 178.0 594.5 183.1 C594.9 188.2 595.3 195.0 593.7 200.5 C592.2 206.1 588.4 211.7 585.0 216.5 C581.6 221.4 577.2 225.8 573.4 229.6 C569.5 233.5 565.8 236.7 561.7 239.8 C557.6 243.0 554.5 245.2 548.6 248.5 C542.8 251.9 534.1 257.0 526.8 260.2 C519.5 263.3 512.3 265.4 505.0 267.5 C497.7 269.5 489.8 271.3 483.2 272.5 C476.5 273.8 474.7 273.4 465.0 275.0 C455.3 276.6 438.3 279.2 425.0 282.0 C411.7 284.8 398.3 288.3 385.0 292.0 C371.7 295.7 358.3 300.7 345.0 304.0 C331.7 307.3 316.7 310.3 305.0 312.0 C293.3 313.7 284.2 313.2 275.0 314.0 C265.8 314.8 256.2 319.0 250.0 317.0 C243.8 315.0 240.5 306.3 238.0 302.0 C235.5 297.7 231.2 295.7 235.0 291.0 C238.8 286.3 254.3 278.5 261.0 274.0 C267.7 269.5 274.8 268.8 275.0 264.0 C275.2 259.2 263.2 250.2 262.0 245.0 C260.8 239.8 266.5 236.3 267.7 232.7 C268.8 229.1 272.1 227.3 269.0 223.3 C265.9 219.3 254.9 213.1 249.0 208.7 C243.1 204.2 237.2 201.8 233.7 196.7 C230.1 191.6 229.0 183.1 227.7 178.0 C226.3 172.9 226.1 170.7 225.7 166.0 C225.2 161.3 224.8 154.4 225.0 150.0 Z" fill="#ffdf00"/>
<path d="M233.7 150.0 C234.0 146.7 234.7 143.3 236.3 140.7 C238.0 138.0 238.9 136.0 243.7 134.0 C248.4 132.0 257.0 129.9 265.0 128.7 C273.0 127.4 279.4 126.6 291.7 126.7 C303.9 126.8 323.9 128.3 338.3 129.3 C352.8 130.3 363.9 131.3 378.3 132.7 C392.8 134.0 407.5 136.2 425.0 137.3 C442.5 138.5 463.8 137.6 483.2 139.5 C502.6 141.3 527.3 144.3 541.4 148.2 C555.4 152.1 561.2 158.1 567.5 162.7 C573.8 167.3 576.6 171.5 579.2 175.8 C581.7 180.2 582.5 184.3 582.8 188.9 C583.2 193.5 582.9 198.6 581.4 203.5 C579.8 208.3 576.6 213.6 573.4 218.0 C570.1 222.4 565.8 226.0 561.7 229.6 C557.6 233.3 554.5 236.2 548.6 239.8 C542.8 243.5 534.1 248.3 526.8 251.5 C519.5 254.6 512.3 256.7 505.0 258.7 C497.7 260.8 491.7 262.2 483.2 263.8 C474.7 265.4 463.8 267.0 454.1 268.2 C444.4 269.4 436.5 269.8 425.0 271.1 C413.5 272.4 396.7 273.8 385.0 276.0 C373.3 278.2 365.0 280.7 355.0 284.0 C345.0 287.3 333.3 293.3 325.0 296.0 C316.7 298.7 311.0 299.5 305.0 300.0 C299.0 300.5 293.7 299.7 289.0 299.0 C284.3 298.3 279.3 297.8 277.0 296.0 C274.7 294.2 273.7 290.3 275.0 288.0 C276.3 285.7 280.0 284.3 285.0 282.0 C290.0 279.7 297.0 276.7 305.0 274.0 C313.0 271.3 327.8 268.0 333.0 266.0 C338.2 264.0 338.7 264.7 336.0 262.0 C333.3 259.3 322.3 253.1 317.0 250.0 C311.7 246.9 306.0 246.4 304.3 243.3 C302.7 240.2 307.3 235.1 307.0 231.3 C306.7 227.6 305.6 224.4 302.3 220.7 C299.1 216.9 293.9 212.0 287.7 208.7 C281.4 205.3 272.1 203.3 265.0 200.7 C257.9 198.0 249.6 196.4 245.0 192.7 C240.4 188.9 239.4 183.3 237.7 178.0 C235.9 172.7 235.0 165.3 234.3 160.7 C233.7 156.0 233.3 153.3 233.7 150.0 Z" fill="#ffaf00"/>
<path d="M241.7 151.3 C241.9 148.2 242.0 146.7 243.7 144.7 C245.3 142.7 247.0 141.2 251.7 139.3 C256.3 137.4 263.9 134.6 271.7 133.3 C279.4 132.1 287.2 131.9 298.3 132.0 C309.4 132.1 325.0 133.1 338.3 134.0 C351.7 134.9 363.9 135.9 378.3 137.3 C392.8 138.8 407.5 141.2 425.0 142.7 C442.5 144.1 463.8 143.9 483.2 146.0 C502.6 148.1 528.5 151.2 541.4 155.5 C554.2 159.7 555.3 165.6 560.3 171.5 C565.2 177.3 569.5 185.0 571.2 190.4 C572.9 195.7 571.8 199.1 570.5 203.5 C569.1 207.8 566.8 212.2 563.2 216.5 C559.5 220.9 553.5 226.0 548.6 229.6 C543.8 233.3 540.2 235.2 534.1 238.4 C528.0 241.5 519.5 245.9 512.3 248.5 C505.0 251.2 497.7 252.8 490.5 254.4 C483.2 255.9 475.9 257.0 468.6 258.0 C461.4 259.0 454.1 259.6 446.8 260.2 C439.5 260.8 434.2 262.7 425.0 261.6 C415.8 260.6 400.6 255.7 391.7 254.0 C382.8 252.3 378.3 252.7 371.7 251.3 C365.0 250.0 357.2 248.7 351.7 246.0 C346.1 243.3 341.7 239.1 338.3 235.3 C335.0 231.6 336.1 227.6 331.7 223.3 C327.2 219.1 319.4 214.0 311.7 210.0 C303.9 206.0 293.4 202.2 285.0 199.3 C276.6 196.4 267.4 195.1 261.0 192.7 C254.6 190.2 249.4 189.6 246.3 184.7 C243.2 179.8 243.1 168.9 242.3 163.3 C241.6 157.8 241.4 154.4 241.7 151.3 Z" fill="#ff7000"/>
<path d="M254.3 152.7 C254.8 149.7 254.1 149.8 256.3 148.0 C258.6 146.2 261.8 143.6 267.7 142.0 C273.6 140.4 283.2 139.2 291.7 138.7 C300.1 138.1 308.3 138.3 318.3 138.7 C328.3 139.0 339.4 139.7 351.7 140.7 C363.9 141.7 379.4 143.3 391.7 144.7 C403.9 146.0 409.7 147.4 425.0 148.7 C440.3 150.0 463.8 149.5 483.2 152.5 C502.6 155.6 529.5 162.0 541.4 167.1 C553.2 172.2 551.5 178.0 554.5 183.1 C557.4 188.2 558.6 193.5 558.8 197.6 C559.1 201.8 557.6 204.4 555.9 207.8 C554.2 211.2 552.3 214.4 548.6 218.0 C545.0 221.6 540.2 226.0 534.1 229.6 C528.0 233.3 519.5 237.0 512.3 239.8 C505.0 242.6 497.7 244.7 490.5 246.4 C483.2 248.1 475.9 249.0 468.6 250.0 C461.4 251.0 454.1 251.7 446.8 252.2 C439.5 252.7 434.2 254.4 425.0 252.9 C415.8 251.4 400.6 246.0 391.7 243.3 C382.8 240.6 377.2 239.6 371.7 236.7 C366.1 233.8 363.9 230.0 358.3 226.0 C352.8 222.0 346.1 216.7 338.3 212.7 C330.6 208.7 320.6 204.9 311.7 202.0 C302.8 199.1 292.8 197.3 285.0 195.3 C277.2 193.3 269.9 192.2 265.0 190.0 C260.1 187.8 257.6 186.0 255.7 182.0 C253.8 178.0 253.9 170.9 253.7 166.0 C253.4 161.1 253.9 155.7 254.3 152.7 Z" fill="#ff4000"/>
<path d="M267.7 176.7 C268.0 174.7 269.0 171.3 270.3 168.7 C271.7 166.0 273.7 163.2 275.7 160.7 C277.7 158.1 278.6 155.2 282.3 153.3 C286.1 151.4 292.3 150.3 298.3 149.3 C304.3 148.3 311.7 147.6 318.3 147.3 C325.0 147.1 328.3 147.3 338.3 148.0 C348.3 148.7 363.9 150.2 378.3 151.3 C392.8 152.4 407.5 153.3 425.0 154.7 C442.5 156.1 467.4 157.0 483.2 159.8 C498.9 162.6 510.3 167.3 519.5 171.5 C528.8 175.6 534.5 180.2 538.5 184.5 C542.4 188.9 542.9 193.5 543.1 197.6 C543.4 201.8 542.6 205.4 539.9 209.3 C537.2 213.2 531.4 217.5 526.8 220.9 C522.2 224.3 518.3 227.0 512.3 229.6 C506.2 232.3 497.7 235.0 490.5 236.9 C483.2 238.8 475.9 240.2 468.6 241.3 C461.4 242.4 454.1 243.1 446.8 243.5 C439.5 243.8 432.0 244.6 425.0 243.5 C418.0 242.3 411.0 238.7 405.0 236.7 C399.0 234.6 394.6 234.4 389.0 231.3 C383.4 228.2 377.9 221.8 371.7 218.0 C365.4 214.2 359.4 211.8 351.7 208.7 C343.9 205.6 333.9 202.0 325.0 199.3 C316.1 196.7 306.8 194.9 298.3 192.7 C289.9 190.4 279.3 188.0 274.3 186.0 C269.3 184.0 269.4 182.2 268.3 180.7 C267.2 179.1 267.3 178.7 267.7 176.7 Z" fill="#ff1000"/>
<path d="M295.7 176.7 C295.9 174.7 296.1 172.3 298.3 170.0 C300.6 167.7 304.6 164.4 309.0 162.7 C313.4 160.9 317.9 160.0 325.0 159.3 C332.1 158.7 343.4 158.9 351.7 158.7 C359.9 158.4 367.7 157.9 374.3 158.0 C381.0 158.1 383.2 158.7 391.7 159.3 C400.1 160.0 409.7 160.3 425.0 162.0 C440.3 163.7 469.6 166.2 483.2 169.3 C496.8 172.3 500.4 176.4 506.5 180.2 C512.5 183.9 516.8 188.4 519.5 191.8 C522.3 195.2 523.2 197.4 523.2 200.5 C523.2 203.7 522.6 207.3 519.5 210.7 C516.5 214.1 511.1 218.0 505.0 220.9 C498.9 223.8 490.5 226.4 483.2 228.2 C475.9 230.0 468.6 231.2 461.4 231.8 C454.1 232.4 445.6 232.1 439.5 231.8 C433.5 231.6 429.6 231.3 425.0 230.4 C420.4 229.4 416.1 227.8 411.7 226.0 C407.2 224.2 403.9 222.2 398.3 219.3 C392.8 216.4 386.1 212.0 378.3 208.7 C370.6 205.3 360.6 202.0 351.7 199.3 C342.8 196.7 332.6 194.7 325.0 192.7 C317.4 190.7 311.0 189.1 306.3 187.3 C301.7 185.6 298.8 183.8 297.0 182.0 C295.2 180.2 295.4 178.7 295.7 176.7 Z" fill="#df0000"/>
<path d="M336.3 178.0 C337.0 176.3 338.7 174.7 342.3 173.3 C346.0 172.0 352.3 170.8 358.3 170.0 C364.3 169.2 370.6 168.8 378.3 168.7 C386.1 168.6 397.2 168.9 405.0 169.3 C412.8 169.8 416.8 170.0 425.0 171.3 C433.2 172.7 444.4 174.8 454.1 177.3 C463.8 179.7 476.6 184.4 483.2 186.0 C489.7 187.6 490.5 185.3 493.4 186.7 C496.3 188.2 498.6 192.1 500.6 194.7 C502.6 197.4 505.8 200.1 505.3 202.7 C504.8 205.4 501.4 208.4 497.7 210.7 C494.0 213.0 489.2 215.0 483.2 216.5 C477.1 218.1 468.6 219.7 461.4 220.2 C454.1 220.7 445.6 220.1 439.5 219.5 C433.5 218.8 430.8 218.8 425.0 216.5 C419.2 214.3 412.8 209.3 405.0 206.0 C397.2 202.7 387.2 199.3 378.3 196.7 C369.4 194.0 358.3 192.2 351.7 190.0 C345.0 187.8 340.9 185.3 338.3 183.3 C335.8 181.3 335.7 179.7 336.3 178.0 Z" fill="#af0000"/>
<path d="M218.3 423.3 C219.5 415.5 222.6 419.8 223.7 418.0 C224.8 416.2 225.0 415.1 225.0 412.7 C225.0 410.2 224.2 406.4 223.7 403.3 C223.1 400.2 220.3 395.3 221.7 394.0 C223.0 392.7 227.8 395.7 231.7 395.3 C235.6 395.0 239.4 392.7 245.0 392.0 C250.6 391.3 257.9 392.0 265.0 391.3 C272.1 390.7 282.1 388.3 287.7 388.0 C293.2 387.7 292.1 389.7 298.3 389.3 C304.6 389.0 316.1 387.2 325.0 386.0 C333.9 384.8 342.8 383.4 351.7 382.0 C360.6 380.6 369.4 379.0 378.3 377.3 C387.2 375.7 397.2 373.4 405.0 372.0 C412.8 370.6 416.8 369.8 425.0 368.7 C433.2 367.6 444.4 366.7 454.1 365.5 C463.8 364.2 473.5 362.3 483.2 361.1 C492.9 359.9 502.6 359.2 512.3 358.2 C522.0 357.2 531.7 356.1 541.4 355.3 C551.1 354.4 560.8 353.7 570.5 353.1 C580.2 352.5 591.1 353.0 599.5 351.6 C608.0 350.3 615.8 346.7 621.4 345.1 C626.9 343.5 629.8 342.2 633.0 342.2 C636.2 342.2 638.7 343.0 640.3 345.1 C641.8 347.2 642.7 350.3 642.5 354.5 C642.2 358.8 640.6 365.0 638.8 370.5 C637.0 376.1 634.7 381.9 631.5 388.0 C628.4 394.1 623.8 401.3 619.9 406.9 C616.0 412.5 612.2 416.6 608.3 421.5 C604.4 426.3 600.5 431.6 596.6 436.0 C592.8 440.4 588.4 443.5 585.0 447.6 C581.6 451.8 581.0 456.4 576.0 461.0 C571.0 465.6 561.8 471.0 555.0 475.0 C548.2 479.0 541.7 482.3 535.0 485.0 C528.3 487.7 525.0 488.5 515.0 491.0 C505.0 493.5 488.3 497.7 475.0 500.0 C461.7 502.3 447.7 503.4 435.0 505.0 C422.3 506.6 406.2 508.5 399.0 509.4 C391.8 510.3 392.3 509.7 392.0 510.6 C391.7 511.5 396.9 513.4 397.4 515.0 C397.9 516.6 403.7 518.5 395.0 520.0 C386.3 521.5 366.7 523.2 345.0 524.0 C323.3 524.8 285.0 525.2 265.0 525.0 C245.0 524.8 233.0 524.0 225.0 523.0 C217.0 522.0 218.4 528.7 217.0 519.0 C215.6 509.3 216.4 480.9 216.6 465.0 C216.8 449.1 217.2 431.2 218.3 423.3 Z" fill="#0050ff"/>
<path d="M218.3 434.0 C219.8 428.2 223.0 431.4 226.3 430.0 C229.7 428.6 234.3 427.3 238.3 425.3 C242.3 423.3 248.0 420.3 250.3 418.0 C252.7 415.7 252.1 412.9 252.3 411.3 C252.6 409.8 250.7 409.6 251.7 408.7 C252.7 407.8 253.7 406.9 258.3 406.0 C263.0 405.1 273.0 404.2 279.7 403.3 C286.3 402.4 290.8 401.8 298.3 400.7 C305.9 399.6 316.1 398.1 325.0 396.7 C333.9 395.2 342.8 393.6 351.7 392.0 C360.6 390.4 369.4 388.9 378.3 387.3 C387.2 385.8 397.2 384.0 405.0 382.7 C412.8 381.3 416.8 380.4 425.0 379.3 C433.2 378.3 444.4 377.3 454.1 376.4 C463.8 375.4 473.0 374.2 483.2 373.5 C493.4 372.7 505.5 372.6 515.2 372.0 C524.9 371.4 532.2 370.7 541.4 369.8 C550.6 369.0 560.8 367.6 570.5 366.9 C580.2 366.2 593.0 365.2 599.5 365.5 C606.1 365.7 607.9 367.0 609.7 368.4 C611.5 369.7 612.2 370.4 610.5 373.5 C608.8 376.5 603.1 382.2 599.5 386.5 C596.0 390.9 593.0 395.0 589.4 399.6 C585.7 404.2 582.1 410.1 577.7 414.2 C573.4 418.3 567.5 420.5 563.2 424.4 C558.8 428.2 555.7 433.8 551.5 437.5 C547.4 441.1 543.1 443.3 538.5 446.2 C533.8 449.1 529.2 452.4 523.9 454.9 C518.7 457.4 511.8 459.2 507.0 461.0 C502.2 462.8 500.3 463.7 495.0 466.0 C489.7 468.3 485.0 471.5 475.0 475.0 C465.0 478.5 445.0 484.3 435.0 487.0 C425.0 489.7 425.0 488.8 415.0 491.0 C405.0 493.2 388.3 497.8 375.0 500.0 C361.7 502.2 348.3 502.8 335.0 504.0 C321.7 505.2 305.7 505.2 295.0 507.0 C284.3 508.8 277.7 513.2 271.0 515.0 C264.3 516.8 261.0 517.7 255.0 518.0 C249.0 518.3 240.3 518.2 235.0 517.0 C229.7 515.8 225.8 514.7 223.0 511.0 C220.2 507.3 218.9 502.7 218.0 495.0 C217.1 487.3 217.3 475.2 217.4 465.0 C217.5 454.8 216.8 439.8 218.3 434.0 Z" fill="#0020ff"/>
<path d="M218.3 446.0 C219.0 442.2 220.1 443.8 222.3 442.0 C224.6 440.2 227.9 437.3 231.7 435.3 C235.4 433.3 239.4 431.8 245.0 430.0 C250.6 428.2 258.3 426.4 265.0 424.7 C271.7 422.9 277.2 421.1 285.0 419.3 C292.8 417.6 302.8 415.8 311.7 414.0 C320.6 412.2 329.4 410.4 338.3 408.7 C347.2 406.9 356.1 405.0 365.0 403.3 C373.9 401.7 381.7 400.4 391.7 398.7 C401.7 396.9 414.6 394.6 425.0 392.7 C435.4 390.8 444.4 388.2 454.1 387.3 C463.8 386.4 474.7 386.9 483.2 387.3 C491.7 387.6 498.9 388.6 505.0 389.5 C511.1 390.3 516.2 391.2 519.5 392.4 C522.9 393.6 524.4 394.8 525.4 396.7 C526.3 398.7 526.1 400.6 525.4 404.0 C524.6 407.4 523.2 412.7 521.0 417.1 C518.8 421.5 514.9 426.8 512.3 430.2 C509.6 433.6 509.8 434.3 505.0 437.5 C500.2 440.6 490.5 445.7 483.2 449.1 C475.9 452.5 466.2 455.8 461.4 457.8 C456.5 459.8 458.4 459.1 454.0 461.0 C449.6 462.9 443.2 466.2 435.0 469.0 C426.8 471.8 415.0 475.3 405.0 478.0 C395.0 480.7 386.7 482.5 375.0 485.0 C363.3 487.5 348.3 490.5 335.0 493.0 C321.7 495.5 306.7 498.0 295.0 500.0 C283.3 502.0 275.0 504.0 265.0 505.0 C255.0 506.0 241.8 506.7 235.0 506.0 C228.2 505.3 226.6 504.5 224.0 501.0 C221.4 497.5 220.3 491.0 219.4 485.0 C218.5 479.0 218.8 471.5 218.6 465.0 C218.4 458.5 217.7 449.8 218.3 446.0 Z" fill="#0000ef"/>
<path d="M219.7 459.3 C219.6 457.1 220.8 454.0 222.3 451.3 C223.9 448.7 226.3 445.6 229.0 443.3 C231.7 441.1 233.4 440.0 238.3 438.0 C243.2 436.0 250.6 433.6 258.3 431.3 C266.1 429.1 276.1 426.7 285.0 424.7 C293.9 422.7 302.8 421.1 311.7 419.3 C320.6 417.6 329.4 415.8 338.3 414.0 C347.2 412.2 356.1 410.4 365.0 408.7 C373.9 406.9 381.7 405.1 391.7 403.3 C401.7 401.6 416.3 398.5 425.0 398.0 C433.7 397.5 438.8 399.4 443.9 400.4 C449.0 401.4 452.9 402.9 455.5 404.0 C458.2 405.1 459.2 405.2 459.9 406.9 C460.6 408.6 459.2 411.0 459.9 414.2 C460.6 417.3 463.8 423.2 464.3 425.8 C464.8 428.5 465.7 427.8 462.8 430.2 C459.9 432.6 451.9 437.2 446.8 440.4 C441.7 443.5 435.9 447.2 432.3 449.1 C428.6 451.0 432.9 449.7 425.0 452.0 C417.1 454.3 398.3 459.2 385.0 463.0 C371.7 466.8 358.3 471.3 345.0 475.0 C331.7 478.7 318.3 481.8 305.0 485.0 C291.7 488.2 275.7 492.0 265.0 494.0 C254.3 496.0 247.0 497.2 241.0 497.0 C235.0 496.8 231.8 495.7 229.0 493.0 C226.2 490.3 225.0 485.7 224.0 481.0 C223.0 476.3 223.7 468.6 223.0 465.0 C222.3 461.4 219.8 461.6 219.7 459.3 Z" fill="#0000bf"/>
<path d="M235.7 459.3 C236.6 456.7 237.4 454.7 239.7 452.7 C241.9 450.7 244.8 449.0 249.0 447.3 C253.2 445.7 259.0 444.2 265.0 442.7 C271.0 441.1 277.2 439.7 285.0 438.0 C292.8 436.3 302.8 434.3 311.7 432.7 C320.6 431.0 329.4 429.6 338.3 428.0 C347.2 426.4 356.1 424.9 365.0 423.3 C373.9 421.8 385.0 419.7 391.7 418.7 C398.3 417.7 400.8 417.4 405.0 417.3 C409.2 417.2 414.5 417.3 417.0 418.0 C419.5 418.7 420.2 419.6 419.9 421.3 C419.7 423.1 417.5 425.9 415.7 428.7 C413.8 431.4 411.2 435.8 409.0 438.0 C406.8 440.2 407.4 440.0 402.3 442.0 C397.2 444.0 385.7 447.4 378.3 450.0 C371.0 452.6 365.0 455.1 358.3 457.3 C351.7 459.6 346.1 461.2 338.3 463.3 C330.6 465.4 320.6 468.0 311.7 470.0 C302.8 472.0 293.9 473.6 285.0 475.3 C276.1 477.1 265.4 479.3 258.3 480.7 C251.2 482.0 245.9 483.8 242.3 483.3 C238.8 482.9 238.3 480.4 237.0 478.0 C235.7 475.6 234.6 471.8 234.3 468.7 C234.1 465.6 234.8 462.0 235.7 459.3 Z" fill="#ffffff"/>
<path d="M226.3 376.7 C226.3 375.7 227.3 374.4 227.9 374.3 C228.6 374.1 229.7 374.9 230.1 375.6 C230.5 376.3 230.6 377.9 230.3 378.7 C230.0 379.4 229.0 380.3 228.3 380.0 C227.7 379.7 226.4 377.6 226.3 376.7 Z" fill="#00efff"/>
<path d="M216.3 370.0 C216.2 367.8 216.7 362.2 217.7 359.3 C218.7 356.4 220.7 353.9 222.3 352.7 C224.0 351.4 225.8 351.2 227.7 352.0 C229.6 352.8 231.7 355.0 233.7 357.3 C235.7 359.7 237.8 364.0 239.7 366.0 C241.6 368.0 243.2 369.3 245.0 369.3 C246.8 369.3 248.8 367.3 250.3 366.0 C251.9 364.7 253.2 361.9 254.3 361.3 C255.4 360.8 257.4 361.1 257.0 362.7 C256.6 364.2 253.7 368.4 251.7 370.7 C249.7 372.9 247.2 375.4 245.0 376.0 C242.8 376.6 240.6 375.7 238.3 374.0 C236.1 372.3 233.7 368.4 231.7 366.0 C229.7 363.6 227.9 360.4 226.3 359.3 C224.8 358.2 223.4 358.4 222.3 359.3 C221.2 360.2 220.3 362.4 219.7 364.7 C219.0 366.9 218.9 371.8 218.3 372.7 C217.8 373.6 216.4 372.2 216.3 370.0 Z" fill="#000" fill-opacity="0.55" stroke="none"/>
<path d="M214.6 362.0 L217.7 362.0 L217.9 392.7 L217.7 539.3 L214.6 539.3 Z" fill="#000" stroke="none"/>
</g>
<path d="M214.5 531.5 H655.7" stroke="#000" stroke-width="2" fill="none"/>
<path d="M654.5 96.5 V531.5" stroke="#000" stroke-width="1.2" fill="none"/>
<text x="433.8" y="76.6" text-anchor="middle" textLength="650.0" lengthAdjust="spacing" style="font-size:21.4px">expt_99.9 - MEAN (MEAN y51-y100) - THICKNESS LAYER 4+5+6</text>
<text x="215.3" y="562.8" text-anchor="middle">0</text><text x="288.6" y="562.8" text-anchor="middle">10</text><text x="361.8" y="562.8" text-anchor="middle">20</text><text x="435.1" y="562.8" text-anchor="middle">30</text><text x="508.3" y="562.8" text-anchor="middle">40</text><text x="581.5" y="562.8" text-anchor="middle">50</text>
<text x="208.3" y="540.5" text-anchor="end">15</text><text x="208.3" y="486.1" text-anchor="end">20</text><text x="208.3" y="431.8" text-anchor="end">25</text><text x="208.3" y="377.4" text-anchor="end">30</text><text x="208.3" y="323.0" text-anchor="end">35</text><text x="208.3" y="268.6" text-anchor="end">40</text><text x="208.3" y="214.2" text-anchor="end">45</text><text x="208.3" y="159.9" text-anchor="end">50</text>
<text x="434.6" y="594.2" text-anchor="middle" textLength="162.5" lengthAdjust="spacing" style="font-size:22.8px">LONGITUDE (E)</text>
<text transform="translate(169.9,315.7) rotate(-90)" text-anchor="middle" textLength="143.5" lengthAdjust="spacing" style="font-size:22.8px">LATITUDE (N)</text>
<rect x="687.5" y="97.20" width="42.0" height="7.61" fill="#800000" shape-rendering="crispEdges"/><rect x="687.5" y="104.01" width="42.0" height="7.61" fill="#8f0000" shape-rendering="crispEdges"/><rect x="687.5" y="110.82" width="42.0" height="7.61" fill="#9f0000" shape-rendering="crispEdges"/><rect x="687.5" y="117.63" width="42.0" height="7.61" fill="#af0000" shape-rendering="crispEdges"/><rect x="687.5" y="124.44" width="42.0" height="7.61" fill="#bf0000" shape-rendering="crispEdges"/><rect x="687.5" y="131.25" width="42.0" height="7.61" fill="#cf0000" shape-rendering="crispEdges"/><rect x="687.5" y="138.06" width="42.0" height="7.61" fill="#df0000" shape-rendering="crispEdges"/><rect x="687.5" y="144.87" width="42.0" height="7.61" fill="#ef0000" shape-rendering="crispEdges"/><rect x="687.5" y="151.68" width="42.0" height="7.61" fill="#ff0000" shape-rendering="crispEdges"/><rect x="687.5" y="158.48" width="42.0" height="7.61" fill="#ff1000" shape-rendering="crispEdges"/><rect x="687.5" y="165.29" width="42.0" height="7.61" fill="#ff2000" shape-rendering="crispEdges"/><rect x="687.5" y="172.10" width="42.0" height="7.61" fill="#ff3000" shape-rendering="crispEdges"/><rect x="687.5" y="178.91" width="42.0" height="7.61" fill="#ff4000" shape-rendering="crispEdges"/><rect x="687.5" y="185.72" width="42.0" height="7.61" fill="#ff5000" shape-rendering="crispEdges"/><rect x="687.5" y="192.53" width="42.0" height="7.61" fill="#ff6000" shape-rendering="crispEdges"/><rect x="687.5" y="199.34" width="42.0" height="7.61" fill="#ff7000" shape-rendering="crispEdges"/><rect x="687.5" y="206.15" width="42.0" height="7.61" fill="#ff8000" shape-rendering="crispEdges"/><rect x="687.5" y="212.96" width="42.0" height="7.61" fill="#ff8f00" shape-rendering="crispEdges"/><rect x="687.5" y="219.77" width="42.0" height="7.61" fill="#ff9f00" shape-rendering="crispEdges"/><rect x="687.5" y="226.58" width="42.0" height="7.61" fill="#ffaf00" shape-rendering="crispEdges"/><rect x="687.5" y="233.39" width="42.0" height="7.61" fill="#ffbf00" shape-rendering="crispEdges"/><rect x="687.5" y="240.20" width="42.0" height="7.61" fill="#ffcf00" shape-rendering="crispEdges"/><rect x="687.5" y="247.01" width="42.0" height="7.61" fill="#ffdf00" shape-rendering="crispEdges"/><rect x="687.5" y="253.82" width="42.0" height="7.61" fill="#ffef00" shape-rendering="crispEdges"/><rect x="687.5" y="260.62" width="42.0" height="7.61" fill="#ffff00" shape-rendering="crispEdges"/><rect x="687.5" y="267.43" width="42.0" height="7.61" fill="#efff10" shape-rendering="crispEdges"/><rect x="687.5" y="274.24" width="42.0" height="7.61" fill="#dfff20" shape-rendering="crispEdges"/><rect x="687.5" y="281.05" width="42.0" height="7.61" fill="#cfff30" shape-rendering="crispEdges"/><rect x="687.5" y="287.86" width="42.0" height="7.61" fill="#bfff40" shape-rendering="crispEdges"/><rect x="687.5" y="294.67" width="42.0" height="7.61" fill="#afff50" shape-rendering="crispEdges"/><rect x="687.5" y="301.48" width="42.0" height="7.61" fill="#9fff60" shape-rendering="crispEdges"/><rect x="687.5" y="308.29" width="42.0" height="7.61" fill="#8fff70" shape-rendering="crispEdges"/><rect x="687.5" y="315.10" width="42.0" height="7.61" fill="#80ff80" shape-rendering="crispEdges"/><rect x="687.5" y="321.91" width="42.0" height="7.61" fill="#70ff8f" shape-rendering="crispEdges"/><rect x="687.5" y="328.72" width="42.0" height="7.61" fill="#60ff9f" shape-rendering="crispEdges"/><rect x="687.5" y="335.53" width="42.0" height="7.61" fill="#50ffaf" shape-rendering="crispEdges"/><rect x="687.5" y="342.34" width="42.0" height="7.61" fill="#40ffbf" shape-rendering="crispEdges"/><rect x="687.5" y="349.15" width="42.0" height="7.61" fill="#30ffcf" shape-rendering="crispEdges"/><rect x="687.5" y="355.96" width="42.0" height="7.61" fill="#20ffdf" shape-rendering="crispEdges"/><rect x="687.5" y="362.77" width="42.0" height="7.61" fill="#10ffef" shape-rendering="crispEdges"/><rect x="687.5" y="369.57" width="42.0" height="7.61" fill="#00ffff" shape-rendering="crispEdges"/><rect x="687.5" y="376.38" width="42.0" height="7.61" fill="#00efff" shape-rendering="crispEdges"/><rect x="687.5" y="383.19" width="42.0" height="7.61" fill="#00dfff" shape-rendering="crispEdges"/><rect x="687.5" y="390.00" width="42.0" height="7.61" fill="#00cfff" shape-rendering="crispEdges"/><rect x="687.5" y="396.81" width="42.0" height="7.61" fill="#00bfff" shape-rendering="crispEdges"/><rect x="687.5" y="403.62" width="42.0" height="7.61" fill="#00afff" shape-rendering="crispEdges"/><rect x="687.5" y="410.43" width="42.0" height="7.61" fill="#009fff" shape-rendering="crispEdges"/><rect x="687.5" y="417.24" width="42.0" height="7.61" fill="#008fff" shape-rendering="crispEdges"/><rect x="687.5" y="424.05" width="42.0" height="7.61" fill="#0080ff" shape-rendering="crispEdges"/><rect x="687.5" y="430.86" width="42.0" height="7.61" fill="#0070ff" shape-rendering="crispEdges"/><rect x="687.5" y="437.67" width="42.0" height="7.61" fill="#0060ff" shape-rendering="crispEdges"/><rect x="687.5" y="444.48" width="42.0" height="7.61" fill="#0050ff" shape-rendering="crispEdges"/><rect x="687.5" y="451.29" width="42.0" height="7.61" fill="#0040ff" shape-rendering="crispEdges"/><rect x="687.5" y="458.10" width="42.0" height="7.61" fill="#0030ff" shape-rendering="crispEdges"/><rect x="687.5" y="464.91" width="42.0" height="7.61" fill="#0020ff" shape-rendering="crispEdges"/><rect x="687.5" y="471.72" width="42.0" height="7.61" fill="#0010ff" shape-rendering="crispEdges"/><rect x="687.5" y="478.52" width="42.0" height="7.61" fill="#0000ff" shape-rendering="crispEdges"/><rect x="687.5" y="485.33" width="42.0" height="7.61" fill="#0000ef" shape-rendering="crispEdges"/><rect x="687.5" y="492.14" width="42.0" height="7.61" fill="#0000df" shape-rendering="crispEdges"/><rect x="687.5" y="498.95" width="42.0" height="7.61" fill="#0000cf" shape-rendering="crispEdges"/><rect x="687.5" y="505.76" width="42.0" height="7.61" fill="#0000bf" shape-rendering="crispEdges"/><rect x="687.5" y="512.57" width="42.0" height="7.61" fill="#0000af" shape-rendering="crispEdges"/><rect x="687.5" y="519.38" width="42.0" height="7.61" fill="#00009f" shape-rendering="crispEdges"/><rect x="687.5" y="526.19" width="42.0" height="7.61" fill="#00008f" shape-rendering="crispEdges"/>
<rect x="687.5" y="97.2" width="42.0" height="435.8" fill="none" stroke="#000" stroke-width="1.2"/>
<path d="M687.5 126.4 h4.5 M729.5 126.4 h-4.5" stroke="#000" stroke-width="0.9"/><text x="735.8" y="136.5">1100</text><path d="M687.5 194.9 h4.5 M729.5 194.9 h-4.5" stroke="#000" stroke-width="0.9"/><text x="735.8" y="205.0">1050</text><path d="M687.5 263.4 h4.5 M729.5 263.4 h-4.5" stroke="#000" stroke-width="0.9"/><text x="735.8" y="273.5">1000</text><path d="M687.5 332.0 h4.5 M729.5 332.0 h-4.5" stroke="#000" stroke-width="0.9"/><text x="735.8" y="342.1">950</text><path d="M687.5 400.5 h4.5 M729.5 400.5 h-4.5" stroke="#000" stroke-width="0.9"/><text x="735.8" y="410.6">900</text><path d="M687.5 469.1 h4.5 M729.5 469.1 h-4.5" stroke="#000" stroke-width="0.9"/><text x="735.8" y="479.2">850</text>
</g>
<g transform="translate(726,604)">
<clipPath id="c_p4"><rect x="215.0" y="96.5" width="439.5" height="435.0"/></clipPath>
<rect x="215.0" y="96.5" width="439.5" height="435.0" fill="#fff" stroke="#000" stroke-width="1.2"/>
<g clip-path="url(#c_p4)" stroke="#000" stroke-width="1.2" stroke-linejoin="round">
<rect x="215.0" y="96.5" width="439.5" height="435.0" fill="#bfff40" stroke="none"/>
<path d="M216.0 94.0 C241.0 93.3 342.2 93.4 367.0 94.0 C391.8 94.6 378.7 96.9 365.0 97.6 C351.3 98.3 309.7 97.9 285.0 98.0 C260.3 98.1 228.5 99.1 217.0 98.4 C205.5 97.7 191.0 94.7 216.0 94.0 Z" fill="#8fff70"/>
<path d="M270.0 110.0 C271.7 108.8 274.2 107.5 285.0 107.0 C295.8 106.5 315.0 106.9 335.0 107.0 C355.0 107.1 383.3 107.4 405.0 107.6 C426.7 107.8 443.3 107.8 465.0 108.0 C486.7 108.2 520.0 108.8 535.0 109.0 C550.0 109.2 548.3 108.5 555.0 109.0 C561.7 109.5 571.2 110.8 575.0 112.0 C578.8 113.2 576.7 114.7 578.0 116.0 C579.3 117.3 581.2 119.7 583.0 120.0 C584.8 120.3 587.8 119.3 589.0 118.0 C590.2 116.7 588.7 113.3 590.0 112.0 C591.3 110.7 594.2 109.3 597.0 110.0 C599.8 110.7 602.3 115.0 607.0 116.0 C611.7 117.0 618.3 115.7 625.0 116.0 C631.7 116.3 642.2 116.3 647.0 118.0 C651.8 119.7 652.7 120.7 654.0 126.0 C655.3 131.3 654.6 139.3 654.6 150.0 C654.6 160.7 654.6 180.0 654.0 190.0 C653.4 200.0 652.8 204.3 651.0 210.0 C649.2 215.7 645.7 220.7 643.0 224.0 C640.3 227.3 636.7 227.0 635.0 230.0 C633.3 233.0 634.7 239.0 633.0 242.0 C631.3 245.0 626.7 243.3 625.0 248.0 C623.3 252.7 625.3 263.3 623.0 270.0 C620.7 276.7 615.7 283.1 611.0 288.0 C606.3 292.9 602.1 295.7 595.0 299.3 C587.9 303.0 576.1 307.9 568.3 310.0 C560.6 312.1 555.0 311.2 548.3 312.0 C541.7 312.8 535.0 313.9 528.3 314.7 C521.7 315.4 512.8 315.7 508.3 316.7 C503.9 317.7 505.0 319.2 501.7 320.7 C498.3 322.1 492.4 324.0 488.3 325.3 C484.2 326.7 478.3 327.4 477.0 328.7 C475.7 329.9 477.3 331.0 480.3 332.7 C483.3 334.3 489.2 336.9 495.0 338.7 C500.8 340.4 508.3 341.9 515.0 343.3 C521.7 344.8 529.0 346.3 535.0 347.3 C541.0 348.3 547.0 348.3 551.0 349.3 C555.0 350.3 555.7 352.3 559.0 353.3 C562.3 354.3 568.6 354.4 571.0 355.3 C573.4 356.2 573.4 357.3 573.7 358.7 C573.9 360.0 574.8 361.7 572.3 363.3 C569.9 365.0 565.2 366.7 559.0 368.7 C552.8 370.7 543.4 373.2 535.0 375.3 C526.6 377.4 517.2 379.3 508.3 381.3 C499.4 383.3 490.6 385.4 481.7 387.3 C472.8 389.2 463.9 390.8 455.0 392.7 C446.1 394.6 436.1 396.6 428.3 398.7 C420.6 400.8 415.0 402.7 408.3 405.3 C401.7 408.0 393.9 412.1 388.3 414.7 C382.8 417.2 378.9 419.1 375.0 420.7 C371.1 422.2 368.9 422.7 365.0 424.0 C361.1 425.3 356.1 427.2 351.7 428.7 C347.2 430.1 342.8 431.3 338.3 432.7 C333.9 434.0 329.4 435.2 325.0 436.7 C320.6 438.1 316.1 439.9 311.7 441.3 C307.2 442.8 302.8 443.9 298.3 445.3 C293.9 446.8 289.4 448.3 285.0 450.0 C280.6 451.7 276.1 453.4 271.7 455.3 C267.2 457.2 262.8 459.2 258.3 461.3 C253.9 463.4 249.0 465.6 245.0 468.0 C241.0 470.4 237.0 473.6 234.3 476.0 C231.7 478.4 230.6 480.0 229.0 482.7 C227.4 485.3 226.2 488.8 225.0 492.0 C223.8 495.2 222.6 502.4 221.7 502.0 C220.8 501.6 220.2 494.8 219.7 489.3 C219.1 483.9 218.7 476.0 218.3 469.3 C218.0 462.7 217.8 458.2 217.7 449.3 C217.5 440.4 217.3 428.2 217.3 416.0 C217.3 403.8 217.5 384.9 217.7 376.0 C217.8 367.1 217.1 366.2 218.3 362.7 C219.6 359.1 222.8 355.6 225.0 354.7 C227.2 353.8 229.4 355.3 231.7 357.3 C233.9 359.3 236.1 364.1 238.3 366.7 C240.6 369.2 242.8 372.2 245.0 372.7 C247.2 373.1 249.7 371.0 251.7 369.3 C253.7 367.7 255.2 364.1 257.0 362.7 C258.8 361.2 260.6 360.7 262.3 360.7 C264.1 360.7 266.1 361.4 267.7 362.7 C269.2 363.9 269.7 366.6 271.7 368.0 C273.7 369.4 276.3 370.6 279.7 371.3 C283.0 372.1 286.3 372.4 291.7 372.7 C297.0 372.9 305.0 372.7 311.7 372.7 C318.3 372.7 326.6 373.2 331.7 372.7 C336.8 372.1 339.9 370.6 342.3 369.3 C344.8 368.1 346.1 367.1 346.3 365.3 C346.6 363.6 345.9 360.9 343.7 358.7 C341.4 356.4 337.2 354.1 333.0 352.0 C328.8 349.9 323.0 347.8 318.3 346.0 C313.7 344.2 308.8 343.0 305.0 341.3 C301.2 339.7 298.3 337.4 295.7 336.0 C293.0 334.6 293.1 335.2 289.0 333.0 C284.9 330.8 275.0 326.0 271.0 323.0 C267.0 320.0 264.2 318.7 265.0 315.0 C265.8 311.3 274.3 305.3 276.0 301.0 C277.7 296.7 271.8 292.0 275.0 289.0 C278.2 286.0 286.7 284.5 295.0 283.0 C303.3 281.5 315.0 281.2 325.0 280.0 C335.0 278.8 345.0 277.3 355.0 276.0 C365.0 274.7 374.7 273.7 385.0 272.0 C395.3 270.3 409.3 268.0 417.0 266.0 C424.7 264.0 428.3 262.7 431.0 260.0 C433.7 257.3 431.0 253.7 433.0 250.0 C435.0 246.3 441.5 241.3 443.0 238.0 C444.5 234.7 441.7 233.0 442.0 230.0 C442.3 227.0 444.0 223.7 445.0 220.0 C446.0 216.3 448.3 211.7 448.0 208.0 C447.7 204.3 446.8 201.0 443.0 198.0 C439.2 195.0 431.3 192.5 425.0 190.0 C418.7 187.5 411.7 185.3 405.0 183.0 C398.3 180.7 391.7 178.5 385.0 176.0 C378.3 173.5 371.7 171.3 365.0 168.0 C358.3 164.7 351.7 159.5 345.0 156.0 C338.3 152.5 331.0 149.8 325.0 147.0 C319.0 144.2 312.0 141.2 309.0 139.0 C306.0 136.8 305.7 135.5 307.0 134.0 C308.3 132.5 313.8 131.7 317.0 130.0 C320.2 128.3 325.0 125.7 326.0 124.0 C327.0 122.3 328.2 121.2 323.0 120.0 C317.8 118.8 303.0 118.0 295.0 117.0 C287.0 116.0 279.2 115.2 275.0 114.0 C270.8 112.8 268.3 111.2 270.0 110.0 Z" fill="#8fff70"/>
<path d="M460.3 328.0 C460.6 327.2 462.7 325.9 464.3 325.6 C466.0 325.3 469.0 325.8 470.3 326.4 C471.7 327.0 472.7 328.2 472.3 329.1 C472.0 329.9 469.9 331.1 468.3 331.3 C466.8 331.6 464.3 331.0 463.0 330.4 C461.7 329.8 460.1 328.8 460.3 328.0 Z" fill="#bfff40"/>
<path d="M414.0 150.0 C415.0 147.3 420.8 149.8 423.0 148.0 C425.2 146.2 424.3 140.7 427.0 139.0 C429.7 137.3 435.7 136.5 439.0 138.0 C442.3 139.5 443.0 146.7 447.0 148.0 C451.0 149.3 459.0 147.2 463.0 146.0 C467.0 144.8 468.5 142.7 471.0 141.0 C473.5 139.3 476.0 135.7 478.0 136.0 C480.0 136.3 480.2 141.7 483.0 143.0 C485.8 144.3 492.0 143.0 495.0 144.0 C498.0 145.0 497.7 148.0 501.0 149.0 C504.3 150.0 509.3 149.8 515.0 150.0 C520.7 150.2 529.0 148.2 535.0 150.0 C541.0 151.8 545.7 159.3 551.0 161.0 C556.3 162.7 563.5 158.2 567.0 160.0 C570.5 161.8 567.3 170.3 572.0 172.0 C576.7 173.7 589.8 170.8 595.0 170.0 C600.2 169.2 598.7 166.8 603.0 167.0 C607.3 167.2 616.5 168.2 621.0 171.0 C625.5 173.8 629.7 178.8 630.0 184.0 C630.3 189.2 624.8 197.0 623.0 202.0 C621.2 207.0 621.0 210.0 619.0 214.0 C617.0 218.0 615.0 222.7 611.0 226.0 C607.0 229.3 599.3 231.3 595.0 234.0 C590.7 236.7 587.7 239.0 585.0 242.0 C582.3 245.0 582.0 248.7 579.0 252.0 C576.0 255.3 568.0 258.3 567.0 262.0 C566.0 265.7 570.3 271.0 573.0 274.0 C575.7 277.0 582.0 277.7 583.0 280.0 C584.0 282.3 584.8 285.1 579.0 288.0 C573.2 290.9 557.9 295.4 548.3 297.3 C538.8 299.2 530.6 298.7 521.7 299.3 C512.8 300.0 503.9 300.8 495.0 301.3 C486.1 301.9 477.2 302.1 468.3 302.7 C459.4 303.2 448.3 303.8 441.7 304.7 C435.0 305.6 432.3 307.4 428.3 308.0 C424.3 308.6 423.2 308.0 417.7 308.0 C412.1 308.0 402.1 308.3 395.0 308.0 C387.9 307.7 380.7 306.5 375.0 306.0 C369.3 305.5 363.8 304.8 361.0 305.0 C358.2 305.2 357.3 306.2 358.0 307.0 C358.7 307.8 362.2 308.9 365.0 310.0 C367.8 311.1 372.0 312.6 375.0 313.3 C378.0 314.1 380.8 313.9 383.0 314.7 C385.2 315.4 384.1 316.4 388.3 318.0 C392.6 319.6 401.7 322.4 408.3 324.0 C415.0 325.6 421.7 325.6 428.3 327.3 C435.0 329.1 441.7 332.7 448.3 334.7 C455.0 336.7 461.7 337.4 468.3 339.3 C475.0 341.2 481.7 344.3 488.3 346.0 C495.0 347.7 501.7 347.9 508.3 349.3 C515.0 350.8 523.8 353.0 528.3 354.7 C532.9 356.3 535.7 357.8 535.7 359.3 C535.7 360.9 532.9 362.4 528.3 364.0 C523.8 365.6 515.0 367.0 508.3 368.7 C501.7 370.3 495.0 372.3 488.3 374.0 C481.7 375.7 475.0 377.1 468.3 378.7 C461.7 380.2 455.0 381.6 448.3 383.3 C441.7 385.1 435.0 387.0 428.3 389.3 C421.7 391.7 415.0 394.4 408.3 397.3 C401.7 400.2 393.9 404.0 388.3 406.7 C382.8 409.3 378.9 411.7 375.0 413.3 C371.1 415.0 368.9 415.2 365.0 416.7 C361.1 418.1 356.1 420.3 351.7 422.0 C347.2 423.7 342.8 425.2 338.3 426.7 C333.9 428.2 329.4 429.5 325.0 430.9 C320.6 432.4 316.1 433.9 311.7 435.3 C307.2 436.8 302.8 438.2 298.3 439.7 C293.9 441.2 289.4 442.7 285.0 444.3 C280.6 445.8 276.1 447.4 271.7 449.1 C267.2 450.8 262.8 452.7 258.3 454.4 C253.9 456.1 249.0 457.7 245.0 459.3 C241.0 461.0 237.4 462.8 234.3 464.3 C231.2 465.7 228.3 467.8 226.3 468.0 C224.3 468.2 223.4 467.8 222.3 465.3 C221.3 462.9 220.5 459.3 219.9 453.3 C219.4 447.3 219.3 442.2 219.0 429.3 C218.7 416.4 218.4 387.1 218.3 376.0 C218.2 364.9 217.2 366.2 218.3 362.7 C219.4 359.1 222.8 355.6 225.0 354.7 C227.2 353.8 229.4 355.3 231.7 357.3 C233.9 359.3 236.1 364.1 238.3 366.7 C240.6 369.2 242.8 372.2 245.0 372.7 C247.2 373.1 249.7 371.0 251.7 369.3 C253.7 367.7 255.2 364.1 257.0 362.7 C258.8 361.2 260.6 360.7 262.3 360.7 C264.1 360.7 266.1 361.4 267.7 362.7 C269.2 363.9 269.7 366.6 271.7 368.0 C273.7 369.4 276.3 370.6 279.7 371.3 C283.0 372.1 286.8 372.2 291.7 372.7 C296.6 373.1 302.3 373.7 309.0 374.0 C315.7 374.3 324.6 374.8 331.7 374.7 C338.8 374.6 346.6 374.2 351.7 373.3 C356.8 372.4 360.3 371.1 362.3 369.3 C364.3 367.6 364.3 364.9 363.7 362.7 C363.0 360.4 361.4 358.4 358.3 356.0 C355.2 353.6 349.4 350.2 345.0 348.0 C340.6 345.8 336.1 344.3 331.7 342.7 C327.2 341.0 323.8 339.9 318.3 338.0 C312.9 336.1 304.6 333.5 299.0 331.0 C293.4 328.5 287.7 325.7 285.0 323.0 C282.3 320.3 281.3 317.3 283.0 315.0 C284.7 312.7 288.0 310.3 295.0 309.0 C302.0 307.7 319.2 308.0 325.0 307.0 C330.8 306.0 331.3 304.7 330.0 303.0 C328.7 301.3 320.5 299.8 317.0 297.0 C313.5 294.2 309.0 288.0 309.0 286.0 C309.0 284.0 311.0 285.8 317.0 285.0 C323.0 284.2 335.3 282.3 345.0 281.0 C354.7 279.7 365.0 278.2 375.0 277.0 C385.0 275.8 395.0 275.5 405.0 274.0 C415.0 272.5 425.0 270.3 435.0 268.0 C445.0 265.7 458.7 262.0 465.0 260.0 C471.3 258.0 472.7 258.0 473.0 256.0 C473.3 254.0 467.7 250.3 467.0 248.0 C466.3 245.7 467.0 245.0 469.0 242.0 C471.0 239.0 477.0 234.0 479.0 230.0 C481.0 226.0 479.8 221.7 481.0 218.0 C482.2 214.3 485.3 212.0 486.0 208.0 C486.7 204.0 486.2 197.3 485.0 194.0 C483.8 190.7 483.0 189.7 479.0 188.0 C475.0 186.3 466.7 186.0 461.0 184.0 C455.3 182.0 451.0 177.7 445.0 176.0 C439.0 174.3 429.7 176.0 425.0 174.0 C420.3 172.0 418.8 168.0 417.0 164.0 C415.2 160.0 413.0 152.7 414.0 150.0 Z" fill="#50ffaf"/>
<path d="M511.0 239.0 C511.0 236.8 515.0 234.5 519.0 233.0 C523.0 231.5 531.0 231.8 535.0 230.0 C539.0 228.2 539.7 224.2 543.0 222.0 C546.3 219.8 550.3 217.5 555.0 217.0 C559.7 216.5 566.8 218.7 571.0 219.0 C575.2 219.3 578.5 218.5 580.0 219.0 C581.5 219.5 581.8 220.8 580.0 222.0 C578.2 223.2 572.5 224.0 569.0 226.0 C565.5 228.0 563.0 231.3 559.0 234.0 C555.0 236.7 549.7 239.7 545.0 242.0 C540.3 244.3 535.3 247.3 531.0 248.0 C526.7 248.7 522.3 247.5 519.0 246.0 C515.7 244.5 511.0 241.2 511.0 239.0 Z" fill="#20ffdf"/>
<path d="M376.0 284.0 C376.7 282.3 386.8 279.7 395.0 278.0 C403.2 276.3 415.0 274.9 425.0 274.0 C435.0 273.1 445.0 272.7 455.0 272.4 C465.0 272.1 475.0 271.4 485.0 272.0 C495.0 272.6 508.7 274.8 515.0 276.0 C521.3 277.2 522.0 277.8 523.0 279.0 C524.0 280.2 524.0 281.7 521.0 283.0 C518.0 284.3 512.7 285.8 505.0 287.0 C497.3 288.2 485.0 289.2 475.0 290.0 C465.0 290.8 455.0 291.4 445.0 291.6 C435.0 291.8 424.0 291.6 415.0 291.0 C406.0 290.4 397.5 289.2 391.0 288.0 C384.5 286.8 375.3 285.7 376.0 284.0 Z" fill="#20ffdf"/>
<path d="M218.3 362.7 C219.4 359.1 222.8 355.6 225.0 354.7 C227.2 353.8 229.4 355.3 231.7 357.3 C233.9 359.3 236.1 364.1 238.3 366.7 C240.6 369.2 242.8 372.2 245.0 372.7 C247.2 373.1 249.7 371.0 251.7 369.3 C253.7 367.7 255.2 364.1 257.0 362.7 C258.8 361.2 260.6 360.7 262.3 360.7 C264.1 360.7 266.1 361.4 267.7 362.7 C269.2 363.9 269.7 366.6 271.7 368.0 C273.7 369.4 276.3 370.6 279.7 371.3 C283.0 372.1 287.4 372.0 291.7 372.7 C295.9 373.3 298.3 374.8 305.0 375.3 C311.7 375.9 322.8 376.0 331.7 376.0 C340.6 376.0 351.4 376.0 358.3 375.3 C365.2 374.7 370.7 373.7 373.0 372.0 C375.3 370.3 372.8 367.6 372.3 365.3 C371.9 363.1 371.6 360.9 370.3 358.7 C369.1 356.4 368.1 354.4 365.0 352.0 C361.9 349.6 356.1 346.2 351.7 344.0 C347.2 341.8 342.8 340.2 338.3 338.7 C333.9 337.2 330.6 336.9 325.0 335.0 C319.4 333.1 309.7 329.3 305.0 327.0 C300.3 324.7 298.2 322.5 297.0 321.0 C295.8 319.5 296.0 319.0 298.0 318.0 C300.0 317.0 301.2 315.5 309.0 315.0 C316.8 314.5 332.3 313.7 345.0 315.0 C357.7 316.3 371.7 320.0 385.0 323.0 C398.3 326.0 416.7 330.9 425.0 333.0 C433.3 335.1 430.0 334.1 435.0 335.3 C440.0 336.6 448.3 338.9 455.0 340.7 C461.7 342.4 468.3 343.9 475.0 346.0 C481.7 348.1 490.4 351.6 495.0 353.3 C499.6 355.1 502.3 355.6 502.3 356.7 C502.3 357.8 499.6 358.6 495.0 360.0 C490.4 361.4 481.7 363.7 475.0 365.3 C468.3 367.0 461.7 368.4 455.0 370.0 C448.3 371.6 441.0 373.2 435.0 374.7 C429.0 376.1 423.4 377.1 419.0 378.7 C414.6 380.2 412.3 381.8 408.3 384.0 C404.3 386.2 399.2 389.3 395.0 392.0 C390.8 394.7 386.3 397.9 383.0 400.0 C379.7 402.1 378.0 403.3 375.0 404.7 C372.0 406.0 368.9 406.6 365.0 408.0 C361.1 409.4 356.1 411.6 351.7 413.3 C347.2 415.1 342.8 416.7 338.3 418.4 C333.9 420.1 329.4 421.7 325.0 423.3 C320.6 424.9 316.1 426.4 311.7 428.0 C307.2 429.6 302.8 431.1 298.3 432.7 C293.9 434.2 289.4 435.7 285.0 437.3 C280.6 438.9 276.1 440.6 271.7 442.3 C267.2 443.9 262.8 445.4 258.3 447.1 C253.9 448.7 249.4 450.4 245.0 452.0 C240.6 453.6 235.0 455.8 231.7 456.7 C228.3 457.6 226.7 457.9 225.0 457.3 C223.3 456.8 222.4 455.8 221.7 453.3 C220.9 450.9 220.7 448.9 220.3 442.7 C220.0 436.4 219.7 427.1 219.4 416.0 C219.1 404.9 218.8 384.9 218.6 376.0 C218.4 367.1 217.3 366.2 218.3 362.7 Z" fill="#20ffdf"/>
<path d="M371.0 333.3 C371.0 331.9 371.0 330.9 375.0 331.3 C379.0 331.8 388.3 334.8 395.0 336.0 C401.7 337.2 408.3 337.4 415.0 338.7 C421.7 339.9 429.0 341.8 435.0 343.3 C441.0 344.9 447.7 346.8 451.0 348.0 C454.3 349.2 455.0 349.6 454.7 350.7 C454.5 351.8 453.0 352.9 449.7 354.7 C446.4 356.4 440.8 359.0 435.0 361.3 C429.2 363.7 420.6 366.4 415.0 368.7 C409.4 370.9 404.7 373.6 401.7 374.7 C398.7 375.8 398.1 375.8 397.0 375.3 C395.9 374.9 396.0 374.8 395.0 372.0 C394.0 369.2 392.2 362.4 391.0 358.7 C389.8 354.9 389.0 351.8 387.7 349.3 C386.3 346.9 385.1 345.6 383.0 344.0 C380.9 342.4 377.0 341.8 375.0 340.0 C373.0 338.2 371.0 334.8 371.0 333.3 Z" fill="#00efff"/>
<path d="M218.3 362.7 C219.4 359.1 222.8 355.6 225.0 354.7 C227.2 353.8 229.4 355.3 231.7 357.3 C233.9 359.3 236.1 364.1 238.3 366.7 C240.6 369.2 242.8 372.2 245.0 372.7 C247.2 373.1 249.7 371.0 251.7 369.3 C253.7 367.7 255.2 364.1 257.0 362.7 C258.8 361.2 260.6 360.7 262.3 360.7 C264.1 360.7 266.1 361.4 267.7 362.7 C269.2 363.9 269.7 366.6 271.7 368.0 C273.7 369.4 276.3 370.6 279.7 371.3 C283.0 372.1 288.6 371.8 291.7 372.7 C294.8 373.6 292.8 375.8 298.3 376.7 C303.9 377.6 316.1 377.7 325.0 378.0 C333.9 378.3 343.9 379.0 351.7 378.7 C359.4 378.3 366.6 376.7 371.7 376.0 C376.8 375.3 379.2 374.4 382.3 374.7 C385.4 374.9 388.6 376.2 390.3 377.3 C392.1 378.4 393.0 379.6 392.7 381.3 C392.5 383.1 391.4 385.7 389.0 388.0 C386.6 390.3 382.3 393.0 378.3 395.3 C374.3 397.7 369.4 400.0 365.0 402.0 C360.6 404.0 356.1 405.6 351.7 407.3 C347.2 409.0 342.8 410.6 338.3 412.3 C333.9 413.9 329.4 415.7 325.0 417.3 C320.6 419.0 316.1 420.4 311.7 422.0 C307.2 423.6 302.8 425.1 298.3 426.7 C293.9 428.2 289.4 429.8 285.0 431.3 C280.6 432.9 276.1 434.4 271.7 436.0 C267.2 437.6 262.8 439.1 258.3 440.7 C253.9 442.2 249.4 443.8 245.0 445.3 C240.6 446.8 235.0 448.7 231.7 449.6 C228.3 450.5 226.7 451.4 225.0 450.9 C223.3 450.4 222.4 449.4 221.7 446.7 C221.0 444.0 221.1 439.8 220.7 434.7 C220.4 429.6 220.0 425.8 219.7 416.0 C219.4 406.2 219.1 384.9 218.9 376.0 C218.6 367.1 217.3 366.2 218.3 362.7 Z" fill="#00efff"/>
<path d="M218.3 362.7 C219.3 359.1 222.8 355.6 225.0 354.7 C227.2 353.8 229.4 355.3 231.7 357.3 C233.9 359.3 236.1 364.1 238.3 366.7 C240.6 369.2 242.8 372.2 245.0 372.7 C247.2 373.1 249.7 371.0 251.7 369.3 C253.7 367.7 255.2 364.1 257.0 362.7 C258.8 361.2 260.6 360.7 262.3 360.7 C264.1 360.7 266.1 361.4 267.7 362.7 C269.2 363.9 269.7 366.6 271.7 368.0 C273.7 369.4 276.3 369.6 279.7 371.3 C283.0 373.1 285.2 377.1 291.7 378.7 C298.1 380.2 309.4 380.1 318.3 380.7 C327.2 381.2 337.2 381.7 345.0 382.0 C352.8 382.3 360.0 382.0 365.0 382.7 C370.0 383.3 373.9 384.4 375.0 386.0 C376.1 387.6 374.4 389.7 371.7 392.0 C368.9 394.3 362.8 397.8 358.3 400.0 C353.9 402.2 349.4 403.6 345.0 405.3 C340.6 407.1 336.1 408.9 331.7 410.7 C327.2 412.4 322.8 414.3 318.3 416.0 C313.9 417.7 309.4 419.1 305.0 420.7 C300.6 422.2 296.1 423.8 291.7 425.3 C287.2 426.9 282.8 428.4 278.3 430.0 C273.9 431.6 269.4 433.1 265.0 434.7 C260.6 436.2 256.1 437.8 251.7 439.3 C247.2 440.9 242.3 442.8 238.3 444.0 C234.3 445.2 230.1 446.4 227.7 446.7 C225.2 446.9 224.7 446.4 223.7 445.3 C222.7 444.2 222.1 443.1 221.7 440.0 C221.2 436.9 221.3 432.9 221.0 426.7 C220.7 420.4 220.2 411.1 219.9 402.7 C219.6 394.2 219.4 382.7 219.1 376.0 C218.9 369.3 217.4 366.2 218.3 362.7 Z" fill="#00bfff"/>
<path d="M218.3 362.7 C219.3 359.1 222.8 355.6 225.0 354.7 C227.2 353.8 229.4 355.3 231.7 357.3 C233.9 359.3 236.1 364.1 238.3 366.7 C240.6 369.2 242.8 372.2 245.0 372.7 C247.2 373.1 249.7 371.0 251.7 369.3 C253.7 367.7 255.2 364.1 257.0 362.7 C258.8 361.2 260.6 360.7 262.3 360.7 C264.1 360.7 266.1 361.4 267.7 362.7 C269.2 363.9 268.8 365.1 271.7 368.0 C274.6 370.9 278.3 377.6 285.0 380.0 C291.7 382.4 302.8 381.9 311.7 382.7 C320.6 383.4 331.0 384.0 338.3 384.7 C345.7 385.3 352.0 385.9 355.7 386.7 C359.3 387.4 360.1 388.0 360.3 389.3 C360.6 390.7 359.6 392.7 357.0 394.7 C354.4 396.7 349.2 399.3 345.0 401.3 C340.8 403.3 336.1 404.9 331.7 406.7 C327.2 408.4 322.8 410.3 318.3 412.0 C313.9 413.7 309.4 415.1 305.0 416.7 C300.6 418.2 296.1 419.8 291.7 421.3 C287.2 422.9 282.8 424.4 278.3 426.0 C273.9 427.6 269.4 429.1 265.0 430.7 C260.6 432.2 256.1 433.8 251.7 435.3 C247.2 436.9 242.3 438.8 238.3 440.0 C234.3 441.2 230.1 442.6 227.7 442.7 C225.2 442.8 224.7 442.0 223.7 440.7 C222.7 439.3 222.1 437.9 221.7 434.7 C221.3 431.4 221.5 427.1 221.3 421.3 C221.0 415.6 220.5 407.6 220.2 400.0 C219.9 392.4 219.7 382.2 219.4 376.0 C219.1 369.8 217.4 366.2 218.3 362.7 Z" fill="#008fff"/>
<path d="M218.3 362.7 C219.2 359.1 222.8 355.6 225.0 354.7 C227.2 353.8 229.4 355.3 231.7 357.3 C233.9 359.3 236.1 364.1 238.3 366.7 C240.6 369.2 242.8 372.2 245.0 372.7 C247.2 373.1 249.7 371.0 251.7 369.3 C253.7 367.7 255.2 364.1 257.0 362.7 C258.8 361.2 260.6 360.7 262.3 360.7 C264.1 360.7 267.2 359.7 267.7 362.7 C268.1 365.7 262.1 375.4 265.0 378.7 C267.9 381.9 278.3 381.0 285.0 382.0 C291.7 383.0 298.3 383.8 305.0 384.7 C311.7 385.6 319.0 386.4 325.0 387.3 C331.0 388.2 337.8 389.0 341.0 390.0 C344.2 391.0 344.8 391.9 344.3 393.3 C343.9 394.8 341.6 396.9 338.3 398.7 C335.1 400.4 329.4 402.2 325.0 404.0 C320.6 405.8 316.1 407.6 311.7 409.3 C307.2 411.1 302.8 413.0 298.3 414.7 C293.9 416.3 289.4 417.8 285.0 419.3 C280.6 420.9 276.1 422.4 271.7 424.0 C267.2 425.6 262.8 427.1 258.3 428.7 C253.9 430.2 249.4 431.9 245.0 433.3 C240.6 434.8 235.0 436.9 231.7 437.3 C228.3 437.8 226.6 437.1 225.0 436.0 C223.4 434.9 222.7 434.0 222.1 430.7 C221.5 427.3 221.7 421.6 221.4 416.0 C221.1 410.4 220.8 404.0 220.5 397.3 C220.2 390.7 220.0 381.8 219.7 376.0 C219.3 370.2 217.4 366.2 218.3 362.7 Z" fill="#0050ff"/>
<path d="M218.3 362.7 C219.2 359.1 222.8 355.6 225.0 354.7 C227.2 353.8 229.4 355.3 231.7 357.3 C233.9 359.3 236.1 364.1 238.3 366.7 C240.6 369.2 242.8 372.2 245.0 372.7 C247.2 373.1 249.7 371.0 251.7 369.3 C253.7 367.7 255.9 361.4 257.0 362.7 C258.1 363.9 255.9 373.7 258.3 376.7 C260.8 379.7 267.2 379.4 271.7 380.7 C276.1 381.9 279.4 382.9 285.0 384.0 C290.6 385.1 298.3 386.2 305.0 387.3 C311.7 388.4 320.6 389.4 325.0 390.7 C329.4 391.9 331.7 393.2 331.7 394.7 C331.7 396.1 328.3 397.8 325.0 399.3 C321.7 400.9 316.1 402.3 311.7 404.0 C307.2 405.7 302.8 407.6 298.3 409.3 C293.9 411.1 289.4 412.9 285.0 414.7 C280.6 416.4 276.1 418.3 271.7 420.0 C267.2 421.7 262.8 423.1 258.3 424.7 C253.9 426.2 249.4 428.0 245.0 429.3 C240.6 430.7 235.0 432.3 231.7 432.7 C228.3 433.0 226.6 432.6 225.0 431.3 C223.4 430.1 222.7 428.8 222.1 425.3 C221.4 421.9 221.5 415.8 221.3 410.7 C221.0 405.6 220.7 400.4 220.5 394.7 C220.2 388.9 220.3 381.3 219.9 376.0 C219.6 370.7 217.5 366.2 218.3 362.7 Z" fill="#0020ff"/>
<path d="M220.7 376.0 C221.1 370.7 221.8 372.0 223.0 370.9 C224.2 369.8 226.2 368.7 227.7 369.3 C229.1 370.0 229.7 372.8 231.7 374.7 C233.7 376.6 237.0 379.8 239.7 380.7 C242.3 381.6 244.6 380.3 247.7 380.0 C250.8 379.7 254.8 378.2 258.3 378.7 C261.9 379.1 265.4 381.4 269.0 382.7 C272.6 383.9 274.8 385.0 279.7 386.0 C284.6 387.0 293.2 387.8 298.3 388.7 C303.4 389.6 307.8 390.3 310.3 391.3 C312.8 392.3 313.5 393.6 313.3 394.7 C313.0 395.8 311.5 396.9 309.0 398.0 C306.5 399.1 302.3 399.9 298.3 401.3 C294.3 402.8 289.4 404.9 285.0 406.7 C280.6 408.4 276.1 410.2 271.7 412.0 C267.2 413.8 262.8 415.6 258.3 417.3 C253.9 419.1 249.4 421.1 245.0 422.7 C240.6 424.2 235.0 426.2 231.7 426.7 C228.3 427.1 226.6 426.7 225.0 425.3 C223.4 424.0 222.7 422.4 222.1 418.7 C221.4 414.9 221.2 409.8 221.0 402.7 C220.8 395.6 220.4 381.3 220.7 376.0 Z" fill="#0000ef"/>
<path d="M220.7 380.0 C221.0 377.3 221.4 374.7 222.3 373.3 C223.3 372.0 225.1 371.3 226.3 371.7 C227.6 372.2 227.9 374.4 229.7 376.0 C231.4 377.6 234.4 380.3 237.0 381.3 C239.6 382.3 242.6 382.1 245.0 382.0 C247.4 381.9 249.4 380.8 251.7 380.7 C253.9 380.6 255.4 380.3 258.3 381.3 C261.2 382.3 265.4 385.3 269.0 386.7 C272.6 388.0 276.1 388.8 279.7 389.3 C283.2 389.9 288.1 389.2 290.3 390.0 C292.6 390.8 293.3 392.8 293.3 394.0 C293.3 395.2 292.6 396.3 290.3 397.3 C288.1 398.3 283.9 398.4 279.7 400.0 C275.4 401.6 269.7 404.4 265.0 406.7 C260.3 408.9 256.1 411.3 251.7 413.3 C247.2 415.3 242.1 417.6 238.3 418.7 C234.6 419.8 231.4 420.4 229.0 420.0 C226.6 419.6 224.9 418.4 223.7 416.0 C222.4 413.6 222.2 409.8 221.7 405.3 C221.2 400.9 220.9 393.6 220.7 389.3 C220.6 385.1 220.5 382.7 220.7 380.0 Z" fill="#0000bf"/>
<path d="M223.0 384.0 C223.4 382.3 222.4 384.2 225.0 384.7 C227.6 385.1 233.4 386.1 238.3 386.7 C243.2 387.2 250.7 386.7 254.3 388.0 C257.9 389.3 259.7 392.9 259.9 394.7 C260.2 396.4 258.2 396.9 255.7 398.7 C253.2 400.4 249.0 403.0 245.0 405.3 C241.0 407.7 234.8 411.6 231.7 412.7 C228.6 413.8 227.8 413.2 226.3 412.0 C224.9 410.8 223.7 408.2 223.0 405.3 C222.3 402.4 222.3 398.2 222.3 394.7 C222.3 391.1 222.6 385.7 223.0 384.0 Z" fill="#ffffff"/>
<path d="M216.0 124.0 C217.2 123.3 218.2 120.2 223.0 120.0 C227.8 119.8 238.3 121.8 245.0 123.0 C251.7 124.2 258.8 125.3 263.0 127.0 C267.2 128.7 268.5 130.8 270.0 133.0 C271.5 135.2 269.5 137.8 272.0 140.0 C274.5 142.2 279.5 143.7 285.0 146.0 C290.5 148.3 298.3 151.0 305.0 154.0 C311.7 157.0 318.3 160.7 325.0 164.0 C331.7 167.3 338.3 170.7 345.0 174.0 C351.7 177.3 358.3 181.0 365.0 184.0 C371.7 187.0 378.3 189.3 385.0 192.0 C391.7 194.7 399.3 197.7 405.0 200.0 C410.7 202.3 416.1 204.0 419.0 206.0 C421.9 208.0 422.7 209.3 422.4 212.0 C422.1 214.7 418.6 218.0 417.0 222.0 C415.4 226.0 413.7 232.3 413.0 236.0 C412.3 239.7 416.0 241.0 413.0 244.0 C410.0 247.0 403.0 251.0 395.0 254.0 C387.0 257.0 376.7 259.7 365.0 262.0 C353.3 264.3 338.3 266.0 325.0 268.0 C311.7 270.0 296.3 272.2 285.0 274.0 C273.7 275.8 263.7 278.7 257.0 279.0 C250.3 279.3 249.3 277.5 245.0 276.0 C240.7 274.5 234.3 270.5 231.0 270.0 C227.7 269.5 226.8 272.3 225.0 273.0 C223.2 273.7 221.5 274.5 220.0 274.0 C218.5 273.5 216.7 270.7 216.0 270.0 L190.0 200.0 L190.0 130.0 Z" fill="#efff10"/>
<path d="M216.0 140.0 C217.2 138.8 219.8 134.2 223.0 133.0 C226.2 131.8 230.3 131.8 235.0 133.0 C239.7 134.2 246.0 137.2 251.0 140.0 C256.0 142.8 259.3 147.0 265.0 150.0 C270.7 153.0 278.3 155.2 285.0 158.0 C291.7 160.8 298.3 164.0 305.0 167.0 C311.7 170.0 318.3 173.0 325.0 176.0 C331.7 179.0 338.3 182.2 345.0 185.0 C351.7 187.8 358.3 190.3 365.0 193.0 C371.7 195.7 379.7 198.2 385.0 201.0 C390.3 203.8 395.5 206.5 397.0 210.0 C398.5 213.5 395.7 218.0 394.0 222.0 C392.3 226.0 388.5 230.7 387.0 234.0 C385.5 237.3 385.2 239.7 385.0 242.0 C384.8 244.3 389.3 245.7 386.0 248.0 C382.7 250.3 373.5 253.7 365.0 256.0 C356.5 258.3 345.0 260.2 335.0 262.0 C325.0 263.8 315.0 265.5 305.0 267.0 C295.0 268.5 283.3 270.2 275.0 271.0 C266.7 271.8 261.3 272.8 255.0 272.0 C248.7 271.2 241.2 267.5 237.0 266.0 C232.8 264.5 232.0 262.7 230.0 263.0 C228.0 263.3 226.5 267.0 225.0 268.0 C223.5 269.0 222.5 269.7 221.0 269.0 C219.5 268.3 216.8 264.8 216.0 264.0 L190.0 250.0 L190.0 200.0 Z" fill="#ffdf00"/>
<path d="M216.0 154.0 C217.5 153.2 221.2 149.7 225.0 149.0 C228.8 148.3 234.0 148.8 239.0 150.0 C244.0 151.2 249.0 153.7 255.0 156.0 C261.0 158.3 268.3 161.3 275.0 164.0 C281.7 166.7 288.3 169.3 295.0 172.0 C301.7 174.7 308.3 177.3 315.0 180.0 C321.7 182.7 328.3 185.3 335.0 188.0 C341.7 190.7 349.0 193.3 355.0 196.0 C361.0 198.7 366.9 201.3 371.0 204.0 C375.1 206.7 378.4 209.0 379.4 212.0 C380.4 215.0 379.4 218.0 377.0 222.0 C374.6 226.0 370.3 232.0 365.0 236.0 C359.7 240.0 351.7 243.3 345.0 246.0 C338.3 248.7 333.3 249.8 325.0 252.0 C316.7 254.2 305.0 257.0 295.0 259.0 C285.0 261.0 273.3 263.3 265.0 264.0 C256.7 264.7 250.0 264.2 245.0 263.0 C240.0 261.8 237.5 258.5 235.0 257.0 C232.5 255.5 231.5 253.2 230.0 254.0 C228.5 254.8 227.3 260.5 226.0 262.0 C224.7 263.5 223.7 263.7 222.0 263.0 C220.3 262.3 217.0 258.8 216.0 258.0 L190.0 300.0 L190.0 250.0 Z" fill="#ffaf00"/>
<path d="M216.0 170.0 C217.5 168.3 221.5 162.0 225.0 160.0 C228.5 158.0 232.0 157.5 237.0 158.0 C242.0 158.5 248.7 161.0 255.0 163.0 C261.3 165.0 268.3 167.5 275.0 170.0 C281.7 172.5 288.3 175.3 295.0 178.0 C301.7 180.7 308.3 183.3 315.0 186.0 C321.7 188.7 329.3 191.3 335.0 194.0 C340.7 196.7 344.9 199.0 349.0 202.0 C353.1 205.0 358.4 208.3 359.4 212.0 C360.4 215.7 358.1 220.0 355.0 224.0 C351.9 228.0 346.0 232.7 341.0 236.0 C336.0 239.3 332.7 241.5 325.0 244.0 C317.3 246.5 305.0 249.2 295.0 251.0 C285.0 252.8 273.3 254.7 265.0 255.0 C256.7 255.3 250.0 254.5 245.0 253.0 C240.0 251.5 237.5 248.0 235.0 246.0 C232.5 244.0 231.5 240.0 230.0 241.0 C228.5 242.0 227.3 249.5 226.0 252.0 C224.7 254.5 223.7 256.7 222.0 256.0 C220.3 255.3 217.0 249.3 216.0 248.0 L190.0 400.0 L190.0 300.0 Z" fill="#ff7000"/>
<path d="M216.0 186.0 C217.7 184.0 222.5 177.2 226.0 174.0 C229.5 170.8 232.2 167.7 237.0 167.0 C241.8 166.3 248.7 168.3 255.0 170.0 C261.3 171.7 268.3 174.7 275.0 177.0 C281.7 179.3 288.3 181.5 295.0 184.0 C301.7 186.5 308.7 189.0 315.0 192.0 C321.3 195.0 328.4 198.5 333.0 202.0 C337.6 205.5 341.7 209.3 342.4 213.0 C343.1 216.7 340.6 220.5 337.0 224.0 C333.4 227.5 328.0 231.0 321.0 234.0 C314.0 237.0 304.3 240.2 295.0 242.0 C285.7 243.8 273.3 245.0 265.0 245.0 C256.7 245.0 249.7 243.8 245.0 242.0 C240.3 240.2 239.0 236.7 237.0 234.0 C235.0 231.3 234.4 227.9 233.0 226.0 C231.6 224.1 229.9 221.1 228.6 222.4 C227.3 223.7 226.1 230.7 225.0 234.0 C223.9 237.3 223.5 242.7 222.0 242.0 C220.5 241.3 217.0 232.0 216.0 230.0 L190.0 500.0 L190.0 400.0 Z" fill="#ff4000"/>
<path d="M231.0 194.0 C231.4 190.7 232.2 186.8 234.0 184.0 C235.8 181.2 238.2 178.0 242.0 177.0 C245.8 176.0 251.5 176.8 257.0 178.0 C262.5 179.2 268.7 181.8 275.0 184.0 C281.3 186.2 288.7 188.5 295.0 191.0 C301.3 193.5 308.0 195.8 313.0 199.0 C318.0 202.2 323.3 206.8 325.0 210.0 C326.7 213.2 325.0 215.0 323.0 218.0 C321.0 221.0 317.7 225.3 313.0 228.0 C308.3 230.7 301.3 232.5 295.0 234.0 C288.7 235.5 281.7 236.8 275.0 237.0 C268.3 237.2 260.3 236.5 255.0 235.0 C249.7 233.5 246.3 231.2 243.0 228.0 C239.7 224.8 236.9 220.0 235.0 216.0 C233.1 212.0 232.1 207.7 231.4 204.0 C230.7 200.3 230.6 197.3 231.0 194.0 Z" fill="#ff1000"/>
<path d="M237.0 202.0 C237.0 198.7 237.3 194.7 239.0 192.0 C240.7 189.3 243.3 186.8 247.0 186.0 C250.7 185.2 256.0 186.0 261.0 187.0 C266.0 188.0 271.7 190.0 277.0 192.0 C282.3 194.0 288.4 196.0 293.0 199.0 C297.6 202.0 303.1 206.5 304.4 210.0 C305.7 213.5 303.6 217.3 301.0 220.0 C298.4 222.7 294.0 224.3 289.0 226.0 C284.0 227.7 276.7 229.5 271.0 230.0 C265.3 230.5 259.3 230.3 255.0 229.0 C250.7 227.7 247.7 224.8 245.0 222.0 C242.3 219.2 240.3 215.3 239.0 212.0 C237.7 208.7 237.0 205.3 237.0 202.0 Z" fill="#df0000"/>
<path d="M243.0 204.0 C243.0 201.5 243.5 198.7 245.0 197.0 C246.5 195.3 248.7 193.8 252.0 193.6 C255.3 193.4 260.8 194.8 265.0 196.0 C269.2 197.2 273.7 199.0 277.0 201.0 C280.3 203.0 283.8 205.5 285.0 208.0 C286.2 210.5 285.7 213.8 284.0 216.0 C282.3 218.2 278.5 219.8 275.0 221.0 C271.5 222.2 267.0 223.3 263.0 223.0 C259.0 222.7 254.0 220.8 251.0 219.0 C248.0 217.2 246.3 214.5 245.0 212.0 C243.7 209.5 243.0 206.5 243.0 204.0 Z" fill="#af0000"/>
<path d="M218.3 362.7 C219.4 361.3 222.8 355.6 225.0 354.7 C227.2 353.8 229.4 355.3 231.7 357.3 C233.9 359.3 236.1 364.1 238.3 366.7 C240.6 369.2 242.8 372.2 245.0 372.7 C247.2 373.1 249.7 371.0 251.7 369.3 C253.7 367.7 255.2 364.1 257.0 362.7 C258.8 361.2 260.6 360.7 262.3 360.7 C264.1 360.7 266.1 361.4 267.7 362.7 C269.2 363.9 269.7 366.6 271.7 368.0 C273.7 369.4 276.3 370.6 279.7 371.3 C283.0 372.1 285.9 372.7 291.7 372.7 C297.4 372.7 308.8 371.9 314.3 371.3 C319.9 370.8 321.9 370.7 325.0 369.3 C328.1 368.0 332.1 365.1 333.0 363.3 C333.9 361.6 332.8 360.3 330.3 358.7 C327.9 357.0 322.6 355.0 318.3 353.3 C314.1 351.7 309.4 350.2 305.0 348.7 C300.6 347.1 295.9 345.7 291.7 344.0 C287.4 342.3 283.1 340.5 279.7 338.7 C276.2 336.8 275.1 336.9 271.0 333.0 C266.9 329.1 258.8 320.7 255.0 315.0 C251.2 309.3 250.0 302.5 248.0 299.0 C246.0 295.5 246.8 294.9 243.0 294.0 C239.2 293.1 230.0 293.2 225.0 293.4 C220.0 293.6 215.0 294.7 213.0 295.0 L190.0 295.0 L190.0 362.7 Z" fill="#efff10"/>
<path d="M218.3 362.7 C219.4 361.3 222.8 355.6 225.0 354.7 C227.2 353.8 229.4 355.3 231.7 357.3 C233.9 359.3 236.1 364.1 238.3 366.7 C240.6 369.2 242.8 372.2 245.0 372.7 C247.2 373.1 249.7 371.0 251.7 369.3 C253.7 367.7 255.2 364.1 257.0 362.7 C258.8 361.2 260.6 360.7 262.3 360.7 C264.1 360.7 266.1 361.4 267.7 362.7 C269.2 363.9 269.7 366.6 271.7 368.0 C273.7 369.4 276.3 370.6 279.7 371.3 C283.0 372.1 288.6 373.2 291.7 372.7 C294.8 372.1 295.4 369.7 298.3 368.0 C301.2 366.3 307.0 364.1 309.0 362.7 C311.0 361.2 311.7 360.4 310.3 359.3 C309.0 358.2 304.8 357.4 301.0 356.0 C297.2 354.6 292.1 352.7 287.7 350.7 C283.2 348.7 278.1 346.0 274.3 344.0 C270.6 342.0 268.2 341.2 265.0 338.7 C261.8 336.2 260.0 333.4 255.0 329.0 C250.0 324.6 240.3 315.4 235.0 312.0 C229.7 308.6 226.7 308.9 223.0 308.6 C219.3 308.3 214.7 309.8 213.0 310.0 L190.0 310.0 L190.0 362.7 Z" fill="#ffdf00"/>
<path d="M218.3 362.7 C219.4 361.3 222.8 355.6 225.0 354.7 C227.2 353.8 229.4 355.3 231.7 357.3 C233.9 359.3 236.1 364.1 238.3 366.7 C240.6 369.2 242.8 372.2 245.0 372.7 C247.2 373.1 249.7 371.0 251.7 369.3 C253.7 367.7 255.2 364.1 257.0 362.7 C258.8 361.2 260.6 360.7 262.3 360.7 C264.1 360.7 266.1 361.4 267.7 362.7 C269.2 363.9 269.7 366.6 271.7 368.0 C273.7 369.4 278.3 371.9 279.7 371.3 C281.0 370.8 278.8 366.8 279.7 364.7 C280.6 362.6 284.3 360.3 285.0 358.7 C285.7 357.0 285.4 356.0 283.7 354.7 C281.9 353.3 277.4 352.2 274.3 350.7 C271.2 349.1 267.7 347.1 265.0 345.3 C262.3 343.6 260.0 341.5 258.3 340.0 C256.7 338.5 257.9 338.8 255.0 336.6 C252.1 334.4 246.0 329.4 241.0 327.0 C236.0 324.6 229.7 322.7 225.0 322.0 C220.3 321.3 215.0 322.8 213.0 323.0 L190.0 323.0 L190.0 362.7 Z" fill="#ffaf00"/>
<path d="M218.3 362.7 C219.4 361.3 222.8 355.6 225.0 354.7 C227.2 353.8 229.4 355.3 231.7 357.3 C233.9 359.3 236.1 364.9 238.3 366.7 C240.6 368.4 243.2 369.3 245.0 368.0 C246.8 366.7 247.8 361.3 249.0 358.7 C250.2 356.0 251.7 354.4 252.3 352.0 C253.0 349.6 253.3 346.7 253.0 344.0 C252.7 341.3 252.7 337.9 250.3 336.0 C248.0 334.1 243.2 333.3 239.0 332.6 C234.8 331.9 229.3 331.8 225.0 332.0 C220.7 332.2 215.0 333.7 213.0 334.0 L190.0 334.0 L190.0 362.7 Z" fill="#ff7000"/>
<path d="M225.0 344.7 C225.1 343.9 227.0 342.8 228.3 342.7 C229.7 342.6 231.7 342.9 233.0 344.0 C234.3 345.1 235.9 347.8 236.3 349.3 C236.8 350.9 236.4 353.1 235.7 353.3 C234.9 353.6 233.0 351.7 231.7 350.7 C230.3 349.7 228.8 348.3 227.7 347.3 C226.6 346.3 224.9 345.4 225.0 344.7 Z" fill="#ff4000"/>
<path d="M251.0 469.3 C251.0 467.8 252.2 465.6 255.7 464.0 C259.1 462.4 265.7 461.6 271.7 460.0 C277.7 458.4 285.0 456.4 291.7 454.7 C298.3 452.9 305.0 451.0 311.7 449.3 C318.3 447.7 325.0 446.4 331.7 444.7 C338.3 442.9 345.0 440.6 351.7 438.7 C358.3 436.8 365.0 435.1 371.7 433.3 C378.3 431.6 386.8 430.0 391.7 428.0 C396.6 426.0 398.1 423.2 401.0 421.3 C403.9 419.4 406.0 417.7 409.0 416.7 C412.0 415.7 416.2 415.2 419.0 415.3 C421.8 415.4 424.2 416.4 425.7 417.3 C427.1 418.2 428.0 419.2 427.7 420.7 C427.3 422.1 423.9 424.1 423.7 426.0 C423.4 427.9 427.3 430.0 426.3 432.0 C425.3 434.0 420.7 436.0 417.7 438.0 C414.7 440.0 412.1 442.3 408.3 444.0 C404.6 445.7 400.6 446.4 395.0 448.0 C389.4 449.6 380.0 452.2 375.0 453.3 C370.0 454.4 367.8 453.3 365.0 454.7 C362.2 456.0 361.7 459.8 358.3 461.3 C355.0 462.9 350.6 463.4 345.0 464.0 C339.4 464.6 331.7 464.4 325.0 464.7 C318.3 464.9 311.7 464.6 305.0 465.3 C298.3 466.1 291.0 468.1 285.0 469.3 C279.0 470.6 273.9 472.0 269.0 472.7 C264.1 473.3 258.7 473.9 255.7 473.3 C252.7 472.8 251.0 470.9 251.0 469.3 Z" fill="#efff10"/>
<path d="M236.3 493.3 C236.3 491.3 237.1 488.8 238.3 486.7 C239.6 484.6 242.1 481.7 243.7 480.7 C245.2 479.7 245.9 479.7 247.7 480.7 C249.4 481.7 252.0 484.7 254.3 486.7 C256.7 488.7 260.8 491.1 261.7 492.7 C262.6 494.2 261.6 494.9 259.7 496.0 C257.8 497.1 253.9 498.9 250.3 499.3 C246.8 499.8 240.7 499.7 238.3 498.7 C236.0 497.7 236.3 495.3 236.3 493.3 Z" fill="#efff10"/>
<path d="M220.6 512.0 C220.9 510.6 221.9 510.4 222.6 510.6 C223.3 510.8 224.3 511.6 224.6 513.0 C224.9 514.4 224.7 517.6 224.4 519.0 C224.1 520.4 223.2 521.4 222.6 521.4 C222.0 521.4 220.9 520.6 220.6 519.0 C220.3 517.4 220.3 513.4 220.6 512.0 Z" fill="#efff10"/>
<path d="M461.0 328.0 C461.5 327.1 463.3 325.3 465.0 325.0 C466.7 324.7 469.8 325.6 471.0 326.4 C472.2 327.2 472.7 329.1 472.0 330.0 C471.3 330.9 468.7 331.9 467.0 332.0 C465.3 332.1 463.0 331.3 462.0 330.6 C461.0 329.9 460.5 328.9 461.0 328.0 Z" fill="#bfff40"/>
<path d="M214.0 144.0 L216.6 144.0 L218.2 154.0 L218.4 210.0 L218.2 262.0 L216.6 271.0 L214.0 271.0 Z" fill="#000" stroke="none"/>
<path d="M214.6 469.3 C214.4 452.0 214.5 384.0 215.1 365.3 C215.8 346.7 216.7 359.4 218.3 357.3 C220.0 355.2 222.8 353.1 225.0 352.7 C227.2 352.2 229.7 353.2 231.7 354.7 C233.7 356.1 235.0 359.2 237.0 361.3 C239.0 363.4 241.7 366.4 243.7 367.3 C245.7 368.2 247.2 367.7 249.0 366.7 C250.8 365.7 252.8 362.3 254.3 361.3 C255.9 360.3 257.8 359.8 258.3 360.7 C258.9 361.6 258.6 364.3 257.7 366.7 C256.8 369.0 254.7 372.4 253.0 374.7 C251.3 376.9 249.7 379.1 247.7 380.0 C245.7 380.9 243.2 380.9 241.0 380.0 C238.8 379.1 236.6 376.7 234.3 374.7 C232.1 372.7 229.4 369.3 227.7 368.0 C225.9 366.7 224.7 366.0 223.7 366.7 C222.7 367.3 222.2 368.2 221.7 372.0 C221.2 375.8 221.0 380.2 220.7 389.3 C220.5 398.4 220.6 417.8 220.2 426.7 C219.8 435.6 218.7 435.6 218.1 442.7 C217.4 449.8 217.0 464.9 216.5 469.3 C215.9 473.8 214.8 486.7 214.6 469.3 Z" fill="#000" stroke="none"/>
<path d="M268.7 366.0 C269.0 364.8 270.2 364.3 271.0 364.7 C271.8 365.0 272.8 366.6 273.3 368.0 C273.7 369.4 273.9 372.1 273.7 373.3 C273.4 374.6 272.3 375.6 271.7 375.3 C271.0 375.1 270.2 373.6 269.7 372.0 C269.2 370.4 268.5 367.2 268.7 366.0 Z" fill="#000" stroke="none"/>
<path d="M258.3 360.7 C260.3 358.2 264.1 360.7 267.7 361.3 C271.2 362.0 274.6 363.6 279.7 364.7 C284.8 365.8 291.9 366.9 298.3 368.0 C304.8 369.1 315.0 370.0 318.3 371.3 C321.7 372.7 321.7 374.8 318.3 376.0 C315.0 377.2 304.8 378.0 298.3 378.7 C291.9 379.3 285.2 380.0 279.7 380.0 C274.1 380.0 269.0 379.3 265.0 378.7 C261.0 378.0 256.8 379.0 255.7 376.0 C254.6 373.0 256.3 363.1 258.3 360.7 Z" fill="#000" fill-opacity="0.5" stroke="none"/>
</g>
<path d="M214.5 531.5 H655.7" stroke="#000" stroke-width="2" fill="none"/>
<path d="M654.5 96.5 V531.5" stroke="#000" stroke-width="1.2" fill="none"/>
<text x="433.8" y="76.6" text-anchor="middle" textLength="650.0" lengthAdjust="spacing" style="font-size:21.4px">expt_99.9 - MEAN (MEAN y51-y100) - THICKNESS LAYER 7+8+9</text>
<text x="215.3" y="562.8" text-anchor="middle">0</text><text x="288.6" y="562.8" text-anchor="middle">10</text><text x="361.8" y="562.8" text-anchor="middle">20</text><text x="435.1" y="562.8" text-anchor="middle">30</text><text x="508.3" y="562.8" text-anchor="middle">40</text><text x="581.5" y="562.8" text-anchor="middle">50</text>
<text x="208.3" y="540.5" text-anchor="end">15</text><text x="208.3" y="486.1" text-anchor="end">20</text><text x="208.3" y="431.8" text-anchor="end">25</text><text x="208.3" y="377.4" text-anchor="end">30</text><text x="208.3" y="323.0" text-anchor="end">35</text><text x="208.3" y="268.6" text-anchor="end">40</text><text x="208.3" y="214.2" text-anchor="end">45</text><text x="208.3" y="159.9" text-anchor="end">50</text>
<text x="434.6" y="594.2" text-anchor="middle" textLength="162.5" lengthAdjust="spacing" style="font-size:22.8px">LONGITUDE (E)</text>
<text transform="translate(169.9,315.7) rotate(-90)" text-anchor="middle" textLength="143.5" lengthAdjust="spacing" style="font-size:22.8px">LATITUDE (N)</text>
<rect x="687.5" y="97.20" width="42.0" height="7.61" fill="#800000" shape-rendering="crispEdges"/><rect x="687.5" y="104.01" width="42.0" height="7.61" fill="#8f0000" shape-rendering="crispEdges"/><rect x="687.5" y="110.82" width="42.0" height="7.61" fill="#9f0000" shape-rendering="crispEdges"/><rect x="687.5" y="117.63" width="42.0" height="7.61" fill="#af0000" shape-rendering="crispEdges"/><rect x="687.5" y="124.44" width="42.0" height="7.61" fill="#bf0000" shape-rendering="crispEdges"/><rect x="687.5" y="131.25" width="42.0" height="7.61" fill="#cf0000" shape-rendering="crispEdges"/><rect x="687.5" y="138.06" width="42.0" height="7.61" fill="#df0000" shape-rendering="crispEdges"/><rect x="687.5" y="144.87" width="42.0" height="7.61" fill="#ef0000" shape-rendering="crispEdges"/><rect x="687.5" y="151.68" width="42.0" height="7.61" fill="#ff0000" shape-rendering="crispEdges"/><rect x="687.5" y="158.48" width="42.0" height="7.61" fill="#ff1000" shape-rendering="crispEdges"/><rect x="687.5" y="165.29" width="42.0" height="7.61" fill="#ff2000" shape-rendering="crispEdges"/><rect x="687.5" y="172.10" width="42.0" height="7.61" fill="#ff3000" shape-rendering="crispEdges"/><rect x="687.5" y="178.91" width="42.0" height="7.61" fill="#ff4000" shape-rendering="crispEdges"/><rect x="687.5" y="185.72" width="42.0" height="7.61" fill="#ff5000" shape-rendering="crispEdges"/><rect x="687.5" y="192.53" width="42.0" height="7.61" fill="#ff6000" shape-rendering="crispEdges"/><rect x="687.5" y="199.34" width="42.0" height="7.61" fill="#ff7000" shape-rendering="crispEdges"/><rect x="687.5" y="206.15" width="42.0" height="7.61" fill="#ff8000" shape-rendering="crispEdges"/><rect x="687.5" y="212.96" width="42.0" height="7.61" fill="#ff8f00" shape-rendering="crispEdges"/><rect x="687.5" y="219.77" width="42.0" height="7.61" fill="#ff9f00" shape-rendering="crispEdges"/><rect x="687.5" y="226.58" width="42.0" height="7.61" fill="#ffaf00" shape-rendering="crispEdges"/><rect x="687.5" y="233.39" width="42.0" height="7.61" fill="#ffbf00" shape-rendering="crispEdges"/><rect x="687.5" y="240.20" width="42.0" height="7.61" fill="#ffcf00" shape-rendering="crispEdges"/><rect x="687.5" y="247.01" width="42.0" height="7.61" fill="#ffdf00" shape-rendering="crispEdges"/><rect x="687.5" y="253.82" width="42.0" height="7.61" fill="#ffef00" shape-rendering="crispEdges"/><rect x="687.5" y="260.62" width="42.0" height="7.61" fill="#ffff00" shape-rendering="crispEdges"/><rect x="687.5" y="267.43" width="42.0" height="7.61" fill="#efff10" shape-rendering="crispEdges"/><rect x="687.5" y="274.24" width="42.0" height="7.61" fill="#dfff20" shape-rendering="crispEdges"/><rect x="687.5" y="281.05" width="42.0" height="7.61" fill="#cfff30" shape-rendering="crispEdges"/><rect x="687.5" y="287.86" width="42.0" height="7.61" fill="#bfff40" shape-rendering="crispEdges"/><rect x="687.5" y="294.67" width="42.0" height="7.61" fill="#afff50" shape-rendering="crispEdges"/><rect x="687.5" y="301.48" width="42.0" height="7.61" fill="#9fff60" shape-rendering="crispEdges"/><rect x="687.5" y="308.29" width="42.0" height="7.61" fill="#8fff70" shape-rendering="crispEdges"/><rect x="687.5" y="315.10" width="42.0" height="7.61" fill="#80ff80" shape-rendering="crispEdges"/><rect x="687.5" y="321.91" width="42.0" height="7.61" fill="#70ff8f" shape-rendering="crispEdges"/><rect x="687.5" y="328.72" width="42.0" height="7.61" fill="#60ff9f" shape-rendering="crispEdges"/><rect x="687.5" y="335.53" width="42.0" height="7.61" fill="#50ffaf" shape-rendering="crispEdges"/><rect x="687.5" y="342.34" width="42.0" height="7.61" fill="#40ffbf" shape-rendering="crispEdges"/><rect x="687.5" y="349.15" width="42.0" height="7.61" fill="#30ffcf" shape-rendering="crispEdges"/><rect x="687.5" y="355.96" width="42.0" height="7.61" fill="#20ffdf" shape-rendering="crispEdges"/><rect x="687.5" y="362.77" width="42.0" height="7.61" fill="#10ffef" shape-rendering="crispEdges"/><rect x="687.5" y="369.57" width="42.0" height="7.61" fill="#00ffff" shape-rendering="crispEdges"/><rect x="687.5" y="376.38" width="42.0" height="7.61" fill="#00efff" shape-rendering="crispEdges"/><rect x="687.5" y="383.19" width="42.0" height="7.61" fill="#00dfff" shape-rendering="crispEdges"/><rect x="687.5" y="390.00" width="42.0" height="7.61" fill="#00cfff" shape-rendering="crispEdges"/><rect x="687.5" y="396.81" width="42.0" height="7.61" fill="#00bfff" shape-rendering="crispEdges"/><rect x="687.5" y="403.62" width="42.0" height="7.61" fill="#00afff" shape-rendering="crispEdges"/><rect x="687.5" y="410.43" width="42.0" height="7.61" fill="#009fff" shape-rendering="crispEdges"/><rect x="687.5" y="417.24" width="42.0" height="7.61" fill="#008fff" shape-rendering="crispEdges"/><rect x="687.5" y="424.05" width="42.0" height="7.61" fill="#0080ff" shape-rendering="crispEdges"/><rect x="687.5" y="430.86" width="42.0" height="7.61" fill="#0070ff" shape-rendering="crispEdges"/><rect x="687.5" y="437.67" width="42.0" height="7.61" fill="#0060ff" shape-rendering="crispEdges"/><rect x="687.5" y="444.48" width="42.0" height="7.61" fill="#0050ff" shape-rendering="crispEdges"/><rect x="687.5" y="451.29" width="42.0" height="7.61" fill="#0040ff" shape-rendering="crispEdges"/><rect x="687.5" y="458.10" width="42.0" height="7.61" fill="#0030ff" shape-rendering="crispEdges"/><rect x="687.5" y="464.91" width="42.0" height="7.61" fill="#0020ff" shape-rendering="crispEdges"/><rect x="687.5" y="471.72" width="42.0" height="7.61" fill="#0010ff" shape-rendering="crispEdges"/><rect x="687.5" y="478.52" width="42.0" height="7.61" fill="#0000ff" shape-rendering="crispEdges"/><rect x="687.5" y="485.33" width="42.0" height="7.61" fill="#0000ef" shape-rendering="crispEdges"/><rect x="687.5" y="492.14" width="42.0" height="7.61" fill="#0000df" shape-rendering="crispEdges"/><rect x="687.5" y="498.95" width="42.0" height="7.61" fill="#0000cf" shape-rendering="crispEdges"/><rect x="687.5" y="505.76" width="42.0" height="7.61" fill="#0000bf" shape-rendering="crispEdges"/><rect x="687.5" y="512.57" width="42.0" height="7.61" fill="#0000af" shape-rendering="crispEdges"/><rect x="687.5" y="519.38" width="42.0" height="7.61" fill="#00009f" shape-rendering="crispEdges"/><rect x="687.5" y="526.19" width="42.0" height="7.61" fill="#00008f" shape-rendering="crispEdges"/>
<rect x="687.5" y="97.2" width="42.0" height="435.8" fill="none" stroke="#000" stroke-width="1.2"/>
<path d="M687.5 149.2 h4.5 M729.5 149.2 h-4.5" stroke="#000" stroke-width="0.9"/><text x="735.8" y="159.3">2500</text><path d="M687.5 221.0 h4.5 M729.5 221.0 h-4.5" stroke="#000" stroke-width="0.9"/><text x="735.8" y="231.1">2450</text><path d="M687.5 292.8 h4.5 M729.5 292.8 h-4.5" stroke="#000" stroke-width="0.9"/><text x="735.8" y="302.9">2400</text><path d="M687.5 364.6 h4.5 M729.5 364.6 h-4.5" stroke="#000" stroke-width="0.9"/><text x="735.8" y="374.7">2350</text><path d="M687.5 436.4 h4.5 M729.5 436.4 h-4.5" stroke="#000" stroke-width="0.9"/><text x="735.8" y="446.5">2300</text><path d="M687.5 508.2 h4.5 M729.5 508.2 h-4.5" stroke="#000" stroke-width="0.9"/><text x="735.8" y="518.3">2250</text>
</g>
</svg>
</body></html>
